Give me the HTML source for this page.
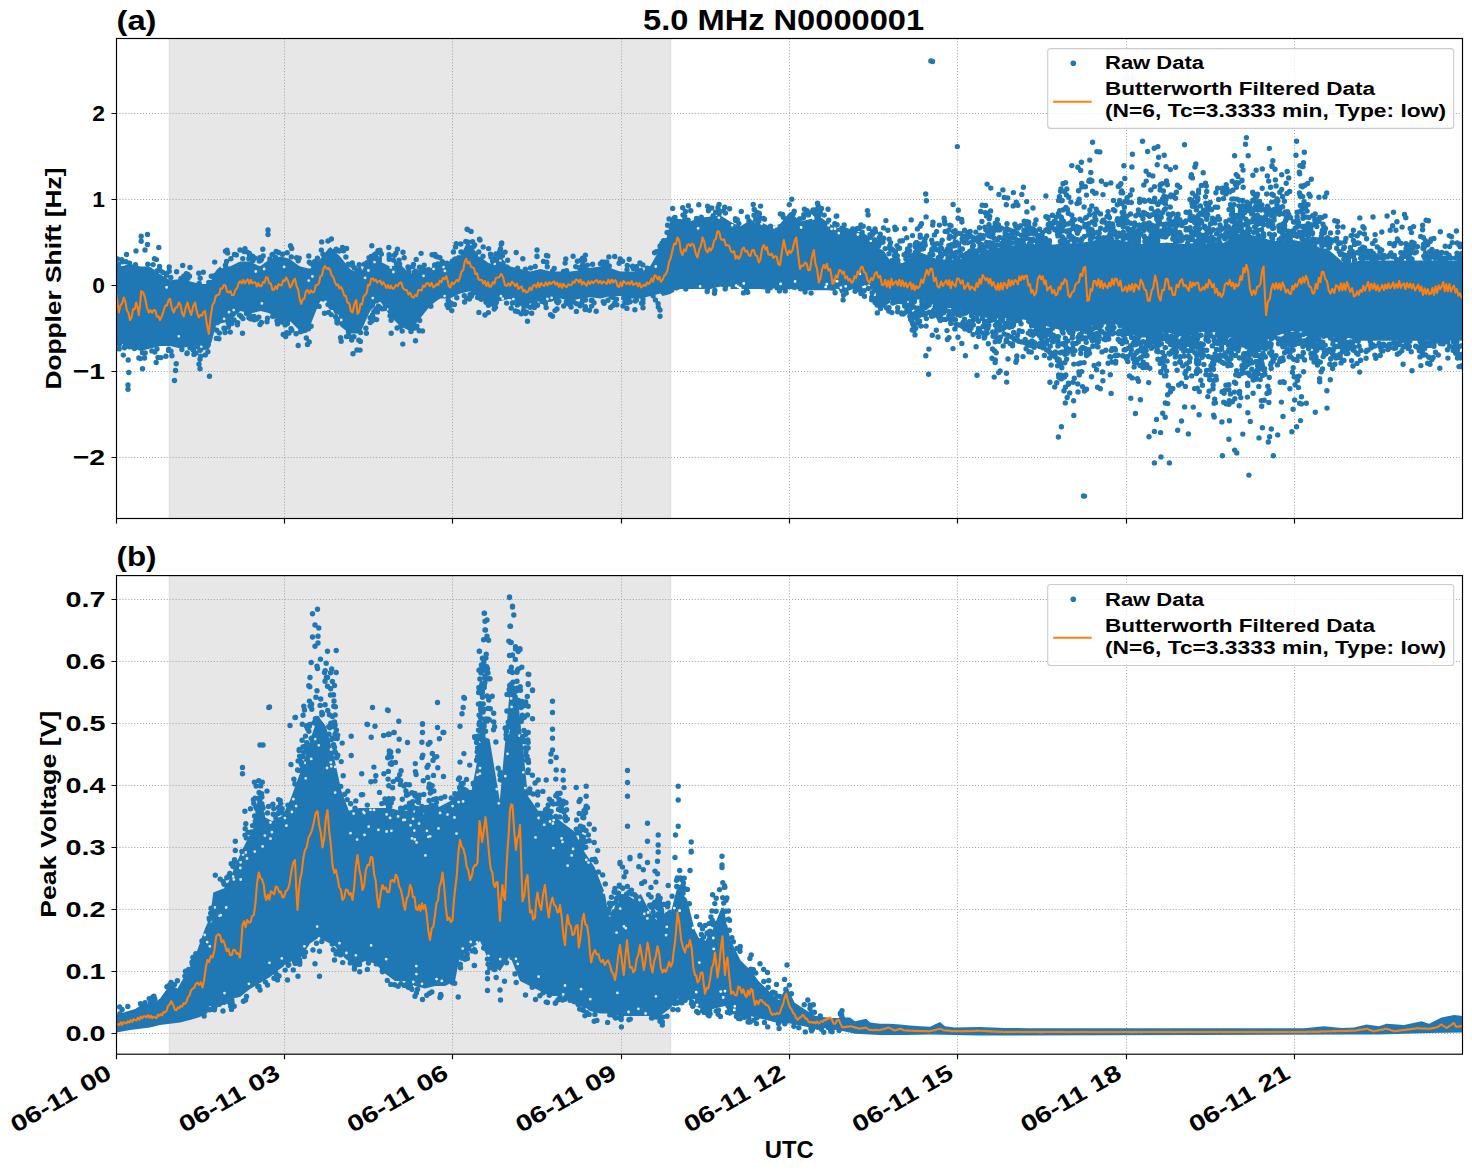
<!DOCTYPE html>
<html><head><meta charset="utf-8"><title>5.0 MHz N0000001</title>
<style>html,body{margin:0;padding:0;background:#fff;overflow:hidden}svg{display:block}</style></head>
<body><svg width="1472" height="1172" viewBox="0 0 1472 1172"><rect width="1472" height="1172" fill="#fff"/><defs><clipPath id="ca"><rect x="116.5" y="38.5" width="1346.0" height="480.0"/></clipPath><clipPath id="cb"><rect x="116.5" y="575.6" width="1346.0" height="478.6"/></clipPath></defs><rect x="169.2" y="38.5" width="501.5" height="480.0" fill="#e7e7e7" stroke="#dddddd" stroke-width="1"/><path d="M284.50 38.5V518.5M452.50 38.5V518.5M621.50 38.5V518.5M789.50 38.5V518.5M957.50 38.5V518.5M1126.50 38.5V518.5M1294.50 38.5V518.5M116.5 113.50H1462.5M116.5 199.50H1462.5M116.5 285.50H1462.5M116.5 371.50H1462.5M116.5 457.50H1462.5" stroke="#a8a8a8" stroke-width="1.0" stroke-dasharray="1.1 1.85" fill="none"/><g clip-path="url(#ca)"><polygon points="116.5,269.0 118.5,267.6 120.5,266.4 122.5,265.9 124.5,265.4 126.5,264.9 128.5,264.4 130.5,264.1 132.5,264.6 134.5,265.1 136.5,265.6 138.5,266.1 140.5,266.5 142.5,266.5 144.5,266.5 146.5,266.5 148.5,266.5 150.5,266.9 152.5,268.4 154.5,269.9 156.5,271.4 158.5,272.9 160.5,274.3 162.5,275.6 164.5,276.8 166.5,278.1 168.5,279.3 170.5,280.2 172.5,279.9 174.5,279.7 176.5,279.4 178.5,279.2 180.5,279.1 182.5,279.6 184.5,280.1 186.5,280.6 188.5,281.1 190.5,281.6 192.5,282.1 194.5,282.6 196.5,283.1 198.5,283.6 200.5,284.0 202.5,284.0 204.5,284.0 206.5,284.0 208.5,284.0 210.5,282.8 212.5,277.8 214.5,272.8 216.5,270.0 218.5,268.0 220.5,266.5 222.5,266.5 224.5,266.5 226.5,266.5 228.5,266.5 230.5,266.2 232.5,265.2 234.5,264.2 236.5,263.2 238.5,262.2 240.5,261.5 242.5,261.5 244.5,261.5 246.5,261.5 248.5,261.5 250.5,261.8 252.5,262.8 254.5,263.8 256.5,264.8 258.5,265.8 260.5,266.1 262.5,264.6 264.5,263.1 266.5,261.6 268.5,260.1 270.5,258.9 272.5,258.4 274.5,257.9 276.5,257.4 278.5,256.9 280.5,256.6 282.5,257.1 284.5,257.6 286.5,258.1 288.5,258.6 290.5,259.4 292.5,260.9 294.5,262.4 296.5,263.9 298.5,265.4 300.5,266.6 302.5,267.1 304.5,267.6 306.5,268.1 308.5,268.6 310.5,268.5 312.5,266.5 314.5,264.5 316.5,262.5 318.5,260.5 320.5,258.4 322.5,255.9 324.5,253.4 326.5,250.9 328.5,248.4 330.5,247.0 332.5,249.0 334.5,251.0 336.5,253.0 338.5,255.0 340.5,257.1 342.5,259.6 344.5,262.1 346.5,264.6 348.5,267.1 350.5,269.2 352.5,270.2 354.5,271.2 356.5,272.2 358.5,273.2 360.5,273.1 362.5,269.6 364.5,266.1 366.5,262.6 368.5,259.1 370.5,256.8 372.5,257.8 374.5,258.8 376.5,259.8 378.5,260.8 380.5,261.8 382.5,262.8 384.5,263.8 386.5,264.8 388.5,265.8 390.5,266.4 392.5,265.9 394.5,265.4 396.5,264.9 398.5,264.4 400.5,264.5 402.5,266.5 404.5,268.5 406.5,270.5 408.5,272.5 410.5,273.8 412.5,272.8 414.5,271.8 416.5,270.8 418.5,269.8 420.5,268.9 422.5,268.4 424.5,267.9 426.5,267.4 428.5,266.9 430.5,266.4 432.5,265.9 434.5,265.4 436.5,264.9 438.5,264.4 440.5,264.0 442.5,264.0 444.5,264.0 446.5,264.0 448.5,264.0 450.5,263.6 452.5,262.1 454.5,260.6 456.5,259.1 458.5,257.6 460.5,255.5 462.5,251.5 464.5,247.5 466.5,243.5 468.5,242.7 470.5,245.1 472.5,247.5 474.5,249.9 476.5,252.3 478.5,254.7 480.5,256.9 482.5,258.4 484.5,259.9 486.5,261.4 488.5,262.9 490.5,263.6 492.5,262.1 494.5,260.6 496.5,259.1 498.5,257.6 500.5,257.0 502.5,259.0 504.5,261.0 506.5,263.0 508.5,265.0 510.5,266.6 512.5,267.1 514.5,267.6 516.5,268.1 518.5,268.6 520.5,269.1 522.5,269.6 524.5,270.1 526.5,270.6 528.5,271.1 530.5,271.4 532.5,270.9 534.5,270.4 536.5,269.9 538.5,269.4 540.5,269.1 542.5,269.6 544.5,270.1 546.5,270.6 548.5,271.1 550.5,271.5 552.5,271.5 554.5,271.5 556.5,271.5 558.5,271.5 560.5,271.5 562.5,271.5 564.5,271.5 566.5,271.5 568.5,271.5 570.5,271.4 572.5,271.2 574.5,270.9 576.5,270.7 578.5,270.4 580.5,270.1 582.5,269.6 584.5,269.1 586.5,268.6 588.5,268.1 590.5,267.7 592.5,267.4 594.5,267.2 596.5,266.9 598.5,266.7 600.5,266.6 602.5,266.8 604.5,267.1 606.5,267.3 608.5,267.6 610.5,267.9 612.5,268.7 614.5,269.4 616.5,270.2 618.5,270.9 620.5,271.5 622.5,271.5 624.5,271.5 626.5,271.5 628.5,271.5 630.5,271.6 632.5,271.8 634.5,272.1 636.5,272.3 638.5,272.6 640.5,272.4 642.5,271.2 644.5,269.9 646.5,268.7 648.5,267.4 650.5,265.6 652.5,262.1 654.5,258.6 656.5,255.1 658.5,251.6 660.5,248.2 662.5,244.8 664.5,241.5 666.5,238.2 668.5,229.5 670.5,219.0 672.5,219.0 674.5,219.0 676.5,219.0 678.5,219.0 680.5,219.1 682.5,219.6 684.5,220.1 686.5,220.6 688.5,221.1 690.5,221.3 692.5,220.6 694.5,219.8 696.5,219.1 698.5,218.3 700.5,217.7 702.5,217.4 704.5,217.2 706.5,216.9 708.5,216.7 710.5,216.4 712.5,216.2 714.5,215.9 716.5,215.7 718.5,215.4 720.5,215.6 722.5,216.8 724.5,218.1 726.5,219.3 728.5,220.6 730.5,221.8 732.5,222.8 734.5,223.8 736.5,224.8 738.5,225.8 740.5,226.2 742.5,224.9 744.5,223.7 746.5,222.4 748.5,221.2 750.5,220.3 752.5,220.6 754.5,220.8 756.5,221.1 758.5,221.3 760.5,221.8 762.5,222.8 764.5,223.8 766.5,224.8 768.5,225.8 770.5,226.4 772.5,225.9 774.5,225.4 776.5,224.9 778.5,224.4 780.5,223.4 782.5,220.9 784.5,218.4 786.5,215.9 788.5,213.4 790.5,212.0 792.5,214.0 794.5,216.0 796.5,218.0 798.5,220.0 800.5,221.4 802.5,220.9 804.5,220.4 806.5,219.9 808.5,219.4 810.5,218.9 812.5,218.4 814.5,217.9 816.5,217.4 818.5,216.9 820.5,216.9 822.5,218.4 824.5,219.9 826.5,221.4 828.5,222.9 830.5,224.3 832.5,225.3 834.5,226.3 836.5,227.3 838.5,228.3 840.5,225.5 842.5,226.3 844.5,227.0 846.5,227.7 848.5,228.4 850.5,229.0 852.5,229.7 854.5,230.4 856.5,231.1 858.5,231.8 860.5,232.5 862.5,233.1 864.5,233.8 866.5,235.0 868.5,237.0 870.5,239.2 872.5,241.3 874.5,243.5 876.5,245.7 878.5,247.5 880.5,249.0 882.5,250.0 884.5,251.7 886.5,254.9 888.5,258.1 890.5,261.3 892.5,262.2 894.5,262.5 896.5,262.8 898.5,263.0 900.5,263.3 902.5,263.0 904.5,261.7 906.5,260.4 908.5,259.1 910.5,257.8 912.5,256.6 914.5,255.3 916.5,254.0 918.5,252.7 920.5,252.4 922.5,253.2 924.5,254.0 926.5,254.8 928.5,255.6 930.5,256.4 932.5,257.2 934.5,258.0 936.5,258.8 938.5,259.2 940.5,259.3 942.5,259.3 944.5,259.4 946.5,259.5 948.5,259.5 950.5,259.6 952.5,259.7 954.5,259.7 956.5,259.6 958.5,259.1 960.5,258.7 962.5,258.3 964.5,257.9 966.5,257.5 968.5,257.1 970.5,256.7 972.5,256.2 974.5,255.6 976.5,254.8 978.5,254.0 980.5,253.2 982.5,252.4 984.5,251.5 986.5,250.7 988.5,249.9 990.5,249.1 992.5,248.6 994.5,248.3 996.5,247.9 998.5,247.6 1000.5,247.3 1002.5,247.0 1004.5,246.7 1006.5,246.3 1008.5,246.0 1010.5,245.8 1012.5,245.5 1014.5,245.3 1016.5,245.0 1018.5,244.8 1020.5,244.6 1022.5,244.3 1024.5,244.1 1026.5,243.8 1028.5,243.9 1030.5,244.0 1032.5,244.2 1034.5,244.3 1036.5,244.5 1038.5,244.7 1040.5,244.8 1042.5,245.0 1044.5,245.1 1046.5,245.1 1048.5,244.9 1050.5,244.8 1052.5,244.6 1054.5,244.4 1056.5,244.3 1058.5,244.1 1060.5,244.0 1062.5,243.8 1064.5,243.7 1066.5,243.6 1068.5,243.5 1070.5,243.5 1072.5,243.4 1074.5,243.3 1076.5,243.2 1078.5,243.1 1080.5,243.1 1082.5,242.7 1084.5,242.3 1086.5,241.9 1088.5,241.5 1090.5,241.1 1092.5,240.7 1094.5,240.3 1096.5,239.9 1098.5,239.5 1100.5,239.5 1102.5,239.5 1104.5,239.5 1106.5,239.5 1108.5,239.5 1110.5,239.5 1112.5,239.5 1114.5,239.5 1116.5,239.5 1118.5,239.8 1120.5,240.3 1122.5,240.7 1124.5,241.2 1126.5,241.6 1128.5,242.1 1130.5,242.5 1132.5,243.0 1134.5,243.4 1136.5,243.9 1138.5,244.0 1140.5,244.0 1142.5,244.0 1144.5,244.0 1146.5,244.0 1148.5,244.0 1150.5,243.8 1152.5,243.7 1154.5,243.5 1156.5,243.3 1158.5,243.2 1160.5,243.0 1162.5,242.9 1164.5,242.7 1166.5,242.6 1168.5,242.8 1170.5,243.0 1172.5,243.1 1174.5,243.3 1176.5,243.4 1178.5,243.6 1180.5,243.8 1182.5,243.9 1184.5,244.0 1186.5,243.8 1188.5,243.6 1190.5,243.5 1192.5,243.3 1194.5,243.2 1196.5,243.0 1198.5,242.8 1200.5,242.7 1202.5,242.7 1204.5,243.0 1206.5,243.4 1208.5,243.7 1210.5,244.0 1212.5,244.3 1214.5,244.6 1216.5,245.0 1218.5,245.3 1220.5,244.9 1222.5,243.6 1224.5,242.3 1226.5,241.0 1228.5,239.7 1230.5,238.5 1232.5,237.2 1234.5,235.9 1236.5,234.6 1238.5,234.1 1240.5,234.2 1242.5,234.4 1244.5,234.6 1246.5,234.7 1248.5,234.9 1250.5,235.0 1252.5,235.2 1254.5,235.4 1256.5,235.8 1258.5,236.4 1260.5,237.1 1262.5,237.7 1264.5,238.3 1266.5,239.0 1268.5,239.6 1270.5,240.3 1272.5,240.9 1274.5,241.1 1276.5,240.9 1278.5,240.7 1280.5,240.6 1282.5,240.4 1284.5,240.3 1286.5,240.1 1288.5,239.9 1290.5,239.8 1292.5,239.9 1294.5,240.3 1296.5,240.6 1298.5,240.9 1300.5,241.2 1302.5,241.5 1304.5,241.9 1306.5,242.2 1308.5,242.5 1310.5,243.2 1312.5,244.2 1314.5,245.2 1316.5,246.1 1318.5,247.1 1320.5,247.9 1322.5,248.1 1324.5,248.4 1326.5,248.7 1328.5,249.9 1330.5,251.5 1332.5,253.1 1334.5,254.8 1336.5,256.5 1338.5,258.3 1340.5,260.1 1342.5,261.9 1344.5,263.8 1346.5,263.9 1348.5,263.4 1350.5,262.9 1352.5,262.4 1354.5,261.9 1356.5,261.4 1358.5,260.9 1360.5,260.5 1362.5,260.5 1364.5,260.5 1366.5,260.5 1368.5,260.5 1370.5,260.5 1372.5,260.5 1374.5,260.5 1376.5,260.5 1378.5,260.5 1380.5,260.5 1382.5,260.5 1384.5,260.5 1386.5,260.5 1388.5,260.5 1390.5,260.5 1392.5,260.5 1394.5,260.5 1396.5,260.5 1398.5,260.5 1400.5,260.5 1402.5,260.5 1404.5,260.5 1406.5,260.5 1408.5,260.5 1410.5,260.5 1412.5,260.5 1414.5,260.5 1416.5,260.5 1418.5,260.5 1420.5,260.5 1422.5,260.5 1424.5,260.5 1426.5,260.5 1428.5,260.5 1430.5,260.5 1432.5,260.5 1434.5,260.5 1436.5,260.5 1438.5,260.5 1440.5,260.5 1442.5,260.5 1444.5,260.5 1446.5,260.5 1448.5,260.5 1450.5,260.5 1452.5,260.5 1454.5,260.5 1456.5,260.5 1458.5,260.5 1460.5,260.5 1462.5,260.5 1462.5,340.8 1460.5,340.8 1458.5,340.8 1456.5,340.8 1454.5,340.8 1452.5,340.8 1450.5,340.8 1448.5,340.8 1446.5,340.8 1444.5,340.8 1442.5,340.8 1440.5,340.8 1438.5,340.8 1436.5,340.8 1434.5,340.8 1432.5,340.8 1430.5,340.8 1428.5,340.8 1426.5,340.8 1424.5,340.8 1422.5,340.8 1420.5,340.8 1418.5,340.8 1416.5,340.8 1414.5,340.8 1412.5,340.8 1410.5,340.8 1408.5,340.8 1406.5,340.8 1404.5,340.8 1402.5,340.8 1400.5,340.8 1398.5,340.8 1396.5,340.8 1394.5,340.8 1392.5,340.8 1390.5,340.8 1388.5,340.8 1386.5,340.8 1384.5,340.8 1382.5,340.8 1380.5,340.8 1378.5,340.8 1376.5,340.8 1374.5,340.8 1372.5,340.8 1370.5,340.8 1368.5,340.8 1366.5,340.8 1364.5,340.8 1362.5,340.8 1360.5,340.8 1358.5,340.4 1356.5,339.9 1354.5,339.4 1352.5,338.9 1350.5,338.4 1348.5,337.9 1346.5,337.4 1344.5,337.0 1342.5,337.1 1340.5,337.2 1338.5,337.2 1336.5,337.1 1334.5,337.0 1332.5,336.9 1330.5,336.8 1328.5,336.6 1326.5,336.1 1324.5,335.2 1322.5,334.3 1320.5,333.3 1318.5,332.9 1316.5,332.7 1314.5,332.4 1312.5,332.2 1310.5,332.0 1308.5,331.8 1306.5,331.7 1304.5,331.6 1302.5,331.5 1300.5,331.5 1298.5,331.4 1296.5,331.3 1294.5,331.2 1292.5,331.1 1290.5,331.3 1288.5,332.0 1286.5,332.6 1284.5,333.2 1282.5,333.9 1280.5,334.5 1278.5,335.2 1276.5,335.8 1274.5,336.4 1272.5,337.2 1270.5,338.3 1268.5,339.3 1266.5,340.4 1264.5,341.4 1262.5,342.4 1260.5,343.5 1258.5,344.5 1256.5,345.6 1254.5,345.8 1252.5,345.2 1250.5,344.6 1248.5,343.9 1246.5,343.3 1244.5,342.6 1242.5,342.0 1240.5,341.4 1238.5,340.7 1236.5,340.0 1234.5,339.1 1232.5,338.2 1230.5,337.3 1228.5,336.4 1226.5,335.6 1224.5,334.7 1222.5,333.8 1220.5,332.9 1218.5,332.5 1216.5,332.4 1214.5,332.3 1212.5,332.2 1210.5,332.2 1208.5,332.1 1206.5,332.0 1204.5,331.9 1202.5,331.8 1200.5,332.2 1198.5,332.8 1196.5,333.5 1194.5,334.1 1192.5,334.7 1190.5,335.4 1188.5,336.0 1186.5,336.7 1184.5,337.3 1182.5,337.1 1180.5,336.5 1178.5,335.9 1176.5,335.2 1174.5,334.6 1172.5,333.9 1170.5,333.3 1168.5,332.7 1166.5,332.0 1164.5,332.2 1162.5,332.9 1160.5,333.5 1158.5,334.1 1156.5,334.8 1154.5,335.4 1152.5,336.1 1150.5,336.7 1148.5,337.3 1146.5,337.5 1144.5,337.5 1142.5,337.5 1140.5,337.5 1138.5,337.5 1136.5,337.1 1134.5,335.8 1132.5,334.5 1130.5,333.2 1128.5,332.0 1126.5,330.7 1124.5,329.4 1122.5,328.1 1120.5,326.8 1118.5,325.5 1116.5,324.4 1114.5,324.4 1112.5,324.4 1110.5,324.4 1108.5,324.4 1106.5,324.4 1104.5,324.4 1102.5,324.4 1100.5,324.4 1098.5,324.5 1096.5,324.9 1094.5,325.3 1092.5,325.7 1090.5,326.1 1088.5,326.5 1086.5,326.9 1084.5,327.3 1082.5,327.7 1080.5,328.1 1078.5,328.4 1076.5,328.7 1074.5,329.0 1072.5,329.4 1070.5,329.7 1068.5,330.0 1066.5,330.3 1064.5,330.6 1062.5,330.7 1060.5,330.2 1058.5,329.6 1056.5,329.0 1054.5,328.5 1052.5,327.9 1050.5,327.4 1048.5,326.8 1046.5,326.2 1044.5,325.7 1042.5,325.0 1040.5,324.4 1038.5,323.7 1036.5,323.1 1034.5,322.5 1032.5,321.8 1030.5,321.2 1028.5,320.5 1026.5,320.0 1024.5,319.8 1022.5,319.6 1020.5,319.3 1018.5,319.1 1016.5,318.8 1014.5,318.6 1012.5,318.4 1010.5,318.1 1008.5,318.0 1006.5,318.1 1004.5,318.2 1002.5,318.2 1000.5,318.3 998.5,318.4 996.5,318.5 994.5,318.6 992.5,318.6 990.5,318.5 988.5,318.2 986.5,317.8 984.5,317.5 982.5,317.2 980.5,316.8 978.5,316.5 976.5,316.1 974.5,315.8 972.5,315.2 970.5,314.5 968.5,313.7 966.5,313.0 964.5,312.3 962.5,311.5 960.5,310.8 958.5,310.0 956.5,309.3 954.5,308.8 952.5,308.5 950.5,308.2 948.5,308.0 946.5,307.7 944.5,307.4 942.5,307.2 940.5,306.9 938.5,306.6 936.5,306.1 934.5,305.3 932.5,304.5 930.5,303.7 928.5,302.9 926.5,302.1 924.5,301.3 922.5,300.5 920.5,299.7 918.5,299.5 916.5,299.8 914.5,300.1 912.5,300.5 910.5,300.8 908.5,301.1 906.5,301.4 904.5,301.7 902.5,302.1 900.5,301.5 898.5,300.5 896.5,299.4 894.5,298.3 892.5,297.3 890.5,296.3 888.5,295.5 886.5,294.7 884.5,293.9 882.5,293.4 880.5,293.2 878.5,293.5 876.5,293.9 874.5,292.3 872.5,290.6 870.5,288.9 868.5,287.1 866.5,285.4 864.5,285.2 862.5,285.9 860.5,286.6 858.5,287.3 856.5,288.0 854.5,288.6 852.5,289.3 850.5,290.0 848.5,290.7 846.5,291.4 844.5,292.1 842.5,292.7 840.5,293.4 838.5,289.1 836.5,288.7 834.5,291.2 832.5,290.8 830.5,290.4 828.5,290.2 826.5,290.2 824.5,290.2 822.5,290.2 820.5,290.2 818.5,290.2 816.5,290.2 814.5,290.2 812.5,290.2 810.5,290.2 808.5,290.4 806.5,290.7 804.5,290.9 802.5,291.2 800.5,291.4 798.5,291.1 796.5,290.6 794.5,290.1 792.5,289.6 790.5,289.1 788.5,289.2 786.5,289.4 784.5,289.7 782.5,289.9 780.5,290.2 778.5,290.2 776.5,290.2 774.5,290.2 772.5,290.2 770.5,290.2 768.5,290.1 766.5,289.8 764.5,289.6 762.5,289.3 760.5,289.1 758.5,289.0 756.5,289.0 754.5,289.0 752.5,289.0 750.5,289.0 748.5,289.0 746.5,289.0 744.5,289.0 742.5,289.0 740.5,289.0 738.5,289.0 736.5,289.0 734.5,289.0 732.5,289.0 730.5,289.0 728.5,288.6 726.5,288.1 724.5,287.6 722.5,287.1 720.5,286.6 718.5,286.9 716.5,287.4 714.5,287.9 712.5,288.4 710.5,288.9 708.5,289.0 706.5,289.0 704.5,289.0 702.5,289.0 700.5,289.0 698.5,289.0 696.5,289.0 694.5,289.0 692.5,289.0 690.5,289.0 688.5,289.0 686.5,289.0 684.5,289.0 682.5,289.0 680.5,289.0 678.5,289.8 676.5,290.8 674.5,291.8 672.5,292.8 670.5,293.8 668.5,294.4 666.5,294.9 664.5,295.4 662.5,295.9 660.5,293.4 658.5,293.9 656.5,294.4 654.5,294.9 652.5,295.4 650.5,295.9 648.5,296.4 646.5,296.9 644.5,297.4 642.5,297.9 640.5,298.4 638.5,298.5 636.5,298.5 634.5,298.5 632.5,298.5 630.5,298.5 628.5,298.1 626.5,297.6 624.5,297.1 622.5,296.6 620.5,296.1 618.5,296.0 616.5,296.0 614.5,296.0 612.5,296.0 610.5,296.0 608.5,296.4 606.5,296.9 604.5,297.4 602.5,297.9 600.5,298.4 598.5,298.3 596.5,298.1 594.5,297.8 592.5,297.6 590.5,297.3 588.5,297.4 586.5,297.7 584.5,297.9 582.5,298.2 580.5,298.4 578.5,298.9 576.5,299.4 574.5,299.9 572.5,300.4 570.5,300.9 568.5,300.6 566.5,300.1 564.5,299.6 562.5,299.1 560.5,298.6 558.5,299.1 556.5,299.8 554.5,300.6 552.5,301.3 550.5,302.1 548.5,302.1 546.5,301.8 544.5,301.6 542.5,301.3 540.5,301.1 538.5,301.4 536.5,301.9 534.5,302.4 532.5,302.9 530.5,303.4 528.5,303.9 526.5,304.4 524.5,304.9 522.5,305.4 520.5,305.9 518.5,304.9 516.5,303.4 514.5,301.9 512.5,300.4 510.5,298.9 508.5,298.9 506.5,299.4 504.5,299.9 502.5,300.4 500.5,300.9 498.5,301.4 496.5,301.9 494.5,302.4 492.5,302.9 490.5,303.4 488.5,302.8 486.5,301.8 484.5,300.8 482.5,299.8 480.5,298.8 478.5,297.4 476.5,295.9 474.5,294.4 472.5,292.9 470.5,291.4 468.5,291.4 466.5,291.9 464.5,292.4 462.5,292.9 460.5,293.4 458.5,294.2 456.5,295.2 454.5,296.2 452.5,297.2 450.5,298.2 448.5,298.5 446.5,298.5 444.5,298.5 442.5,298.5 440.5,298.5 438.5,299.6 436.5,301.1 434.5,302.6 432.5,304.1 430.5,305.6 428.5,307.9 426.5,310.4 424.5,312.9 422.5,315.4 420.5,317.9 418.5,320.4 416.5,322.9 414.5,325.4 412.5,327.9 410.5,330.4 408.5,330.2 406.5,329.2 404.5,328.2 402.5,327.2 400.5,326.2 398.5,324.5 396.5,322.5 394.5,320.5 392.5,318.5 390.5,316.5 388.5,313.8 386.5,310.8 384.5,307.8 382.5,304.8 380.5,301.8 378.5,302.5 376.5,304.5 374.5,306.5 372.5,308.5 370.5,310.5 368.5,314.4 366.5,318.9 364.5,323.4 362.5,327.9 360.5,332.4 358.5,333.5 356.5,333.5 354.5,333.5 352.5,333.5 350.5,333.5 348.5,332.4 346.5,330.9 344.5,329.4 342.5,327.9 340.5,326.4 338.5,322.6 336.5,318.1 334.5,313.6 332.5,309.1 330.5,304.6 328.5,303.1 326.5,302.6 324.5,302.1 322.5,301.6 320.5,301.1 318.5,304.8 316.5,309.8 314.5,314.8 312.5,319.8 310.5,324.8 308.5,326.8 306.5,327.8 304.5,328.8 302.5,329.8 300.5,330.8 298.5,329.5 296.5,327.5 294.5,325.5 292.5,323.5 290.5,321.5 288.5,321.0 286.5,321.0 284.5,321.0 282.5,321.0 280.5,321.0 278.5,319.9 276.5,318.4 274.5,316.9 272.5,315.4 270.5,313.9 268.5,313.1 266.5,312.6 264.5,312.1 262.5,311.6 260.5,311.1 258.5,311.4 256.5,311.9 254.5,312.4 252.5,312.9 250.5,313.4 248.5,313.1 246.5,312.6 244.5,312.1 242.5,311.6 240.5,311.1 238.5,312.5 236.5,314.5 234.5,316.5 232.5,318.5 230.5,320.5 228.5,321.4 226.5,321.9 224.5,322.4 222.5,322.9 220.5,323.4 218.5,325.0 216.5,327.0 214.5,330.5 212.5,338.5 210.5,346.5 208.5,348.9 206.5,349.4 204.5,349.9 202.5,350.4 200.5,350.9 198.5,350.2 196.5,349.2 194.5,348.2 192.5,347.2 190.5,346.2 188.5,346.4 186.5,346.9 184.5,347.4 182.5,347.9 180.5,348.4 178.5,348.1 176.5,347.6 174.5,347.1 172.5,346.6 170.5,346.1 168.5,346.0 166.5,346.0 164.5,346.0 162.5,346.0 160.5,346.0 158.5,346.4 156.5,346.9 154.5,347.4 152.5,347.9 150.5,348.4 148.5,348.9 146.5,349.4 144.5,349.9 142.5,350.4 140.5,350.9 138.5,350.2 136.5,349.2 134.5,348.2 132.5,347.2 130.5,346.2 128.5,345.6 126.5,345.1 124.5,344.6 122.5,344.1 120.5,343.6 118.5,343.5 116.5,343.5" fill="#1f77b4"/><path d="M178.8 336.3h0M201.2 346.9h0M212.2 343.8h0M217.0 326.7h0M222.1 266.9h0M224.1 318.8h0M229.0 312.2h0M233.7 310.1h0M255.8 271.5h0M261.9 303.4h0M264.1 269.0h0M284.1 266.9h0M308.7 280.6h0M312.4 276.4h0M325.5 302.0h0M337.6 315.9h0M341.2 320.0h0M365.1 277.9h0M368.4 270.5h0M372.8 298.1h0M374.5 262.1h0M376.4 304.8h0M387.2 309.3h0M390.8 267.4h0M393.4 272.0h0M423.5 275.8h0M430.9 266.6h0M433.6 268.9h0M443.5 267.0h0M444.9 270.9h0M444.6 296.1h0M479.3 255.4h0M494.7 263.8h0M500.4 260.4h0M500.9 296.2h0M502.7 298.7h0M506.9 263.2h0M513.4 299.2h0M547.4 299.0h0M551.6 297.8h0M655.8 266.5h0" fill="none" stroke="#e7e7e7" stroke-width="2.8" stroke-linecap="round"/><path d="M166.6 287.3h0M675.4 291.7h0M698.1 228.3h0M700.1 286.4h0M718.9 217.6h0M729.3 287.9h0M732.2 225.3h0M736.2 285.6h0M738.2 286.9h0M740.3 288.5h0M743.8 283.5h0M755.0 221.1h0M761.6 223.6h0M774.1 227.3h0M773.7 290.0h0M776.4 226.2h0M780.6 283.9h0M795.1 281.5h0M797.0 290.6h0M801.1 227.5h0M813.2 218.4h0M825.7 286.9h0M826.8 284.2h0M828.7 225.4h0M831.6 228.8h0M835.0 228.7h0M834.8 280.5h0M837.2 281.3h0M838.8 233.2h0M840.9 287.6h0M845.7 286.3h0M857.9 234.5h0M859.9 273.8h0M868.8 285.8h0M870.8 240.8h0" fill="none" stroke="#ffffff" stroke-width="2.8" stroke-linecap="round"/><path d="M141.2 236.2h0M141.2 241.2h0M147.5 234.5h0M147.5 244.5h0M145.0 250.0h0M158.8 247.5h0M154.5 258.8h0M128.0 385.0h0M128.0 389.2h0M128.8 372.5h0M128.2 360.0h0M142.5 368.8h0M156.2 362.5h0M174.5 380.5h0M175.5 370.5h0M176.2 363.8h0M190.0 267.5h0M209.5 376.2h0M200.0 368.8h0M225.5 251.2h0M240.0 250.0h0M268.0 230.0h0M268.0 234.5h0M225.0 332.5h0M242.5 333.2h0M260.0 324.5h0M283.2 334.5h0M298.2 345.5h0M307.5 344.5h0M341.2 341.2h0M353.0 353.8h0M357.0 350.0h0M388.8 247.5h0M397.5 249.2h0M456.2 243.8h0M467.5 229.5h0M448.2 307.5h0M415.5 340.8h0M391.2 333.2h0M501.2 244.2h0M516.2 252.5h0M537.0 250.0h0M537.0 256.2h0M527.5 321.2h0M521.2 313.8h0M552.5 316.2h0M596.2 311.2h0M660.0 316.2h0M660.0 310.0h0M629.2 259.2h0M714.5 293.2h0M817.5 203.2h0M828.0 209.2h0M813.0 210.0h0M836.2 216.2h0M754.2 209.5h0M690.8 210.8h0M718.0 207.5h0M957.3 146.6h0M1084.5 496.1h0M1058.4 437.0h0M1073.8 415.5h0M928.6 374.2h0M1006.7 382.1h0M994.2 377.1h0M977.0 375.3h0M1154.4 462.9h0M1169.4 462.9h0M1222.4 455.8h0M1236.8 452.9h0M1248.9 475.1h0M1273.3 455.8h0M1296.6 426.7h0M1327.0 408.1h0M1259.0 437.9h0M1269.7 436.8h0M1188.4 433.9h0M1149.0 436.8h0M1154.4 431.4h0M1135.4 413.5h0M1396.9 221.8h0M1430.2 241.5h0M1246.4 137.6h0M1296.6 141.2h0M1269.4 148.4h0M1142.5 141.2h0M1157.9 146.6h0M1184.5 144.8h0M930.9 60.9h0M932.5 61.5h0M1083.5 496.0h0M117.5 259.0h0M116.7 267.4h0M118.6 267.3h0M118.6 264.3h0M119.1 348.9h0M119.3 344.7h0M121.8 259.6h0M122.6 261.7h0M123.3 355.1h0M124.4 347.7h0M126.5 254.5h0M126.0 261.7h0M125.0 346.2h0M129.6 263.2h0M129.4 345.9h0M129.2 346.7h0M132.3 346.8h0M131.5 346.6h0M134.5 348.6h0M136.0 250.9h0M135.5 264.6h0M138.9 357.9h0M140.2 358.6h0M142.5 352.7h0M144.5 358.0h0M145.2 352.9h0M147.8 264.3h0M151.9 350.9h0M153.1 264.6h0M156.4 259.6h0M154.8 352.0h0M157.0 271.0h0M158.0 357.4h0M157.0 349.0h0M159.6 266.5h0M159.8 270.2h0M160.9 357.6h0M162.7 272.3h0M166.2 273.7h0M166.4 275.2h0M165.9 356.2h0M166.5 275.3h0M169.2 267.0h0M169.2 271.3h0M168.6 350.4h0M168.7 349.3h0M170.8 277.5h0M171.9 355.7h0M171.0 351.2h0M176.6 271.7h0M181.0 278.5h0M181.9 349.6h0M184.0 276.0h0M182.7 265.4h0M186.3 273.8h0M185.6 278.8h0M185.8 278.8h0M188.0 278.2h0M187.9 274.4h0M187.2 353.0h0M186.9 353.6h0M189.5 276.3h0M190.0 347.8h0M194.0 354.4h0M193.3 350.1h0M192.7 348.3h0M193.4 350.3h0M192.9 347.9h0M196.0 353.0h0M199.2 283.4h0M198.8 273.3h0M200.2 278.2h0M200.0 359.3h0M200.2 350.3h0M199.0 364.2h0M200.7 356.2h0M203.3 272.3h0M205.3 354.9h0M207.9 351.8h0M208.8 282.5h0M211.3 276.2h0M211.9 282.5h0M213.5 275.9h0M214.7 262.1h0M216.4 338.4h0M216.7 330.2h0M218.9 338.7h0M219.3 333.0h0M224.0 328.3h0M225.4 265.3h0M225.6 265.6h0M224.6 329.1h0M227.6 253.0h0M227.0 250.3h0M226.6 261.4h0M228.3 322.7h0M228.4 327.1h0M230.3 332.1h0M230.0 322.2h0M230.9 258.7h0M231.8 323.6h0M234.5 254.4h0M234.0 320.0h0M236.3 254.9h0M237.4 324.8h0M237.7 322.8h0M239.5 315.1h0M241.1 316.4h0M244.1 251.5h0M242.8 258.6h0M242.9 318.6h0M245.0 248.8h0M246.5 313.4h0M247.4 252.1h0M247.8 313.3h0M247.9 313.6h0M249.6 255.6h0M248.9 258.7h0M249.4 253.5h0M249.2 314.4h0M248.9 317.8h0M250.8 257.2h0M250.7 318.9h0M252.6 256.1h0M252.6 260.2h0M253.6 257.4h0M253.0 260.4h0M253.9 316.4h0M254.2 319.8h0M254.6 257.9h0M256.6 319.1h0M259.3 261.0h0M259.8 257.7h0M258.8 317.2h0M260.6 259.5h0M261.5 259.3h0M260.5 260.6h0M261.4 322.5h0M262.8 249.2h0M263.2 256.0h0M267.0 321.7h0M267.5 318.1h0M269.9 259.0h0M272.1 254.6h0M272.5 254.4h0M272.7 316.2h0M274.0 316.1h0M275.5 257.4h0M276.1 251.5h0M277.6 323.9h0M277.0 320.8h0M278.6 252.5h0M281.8 322.0h0M282.6 254.3h0M285.7 336.5h0M285.2 324.9h0M287.2 252.7h0M286.7 332.6h0M287.4 323.4h0M287.3 321.2h0M290.5 245.8h0M289.0 333.0h0M291.3 256.9h0M291.7 248.4h0M291.0 328.6h0M291.8 330.3h0M296.1 333.8h0M296.6 257.7h0M298.2 260.8h0M299.2 258.1h0M300.4 331.7h0M303.1 330.8h0M306.3 338.0h0M305.2 330.3h0M309.3 262.3h0M308.8 256.0h0M308.5 328.8h0M309.2 342.0h0M310.7 263.4h0M311.1 326.3h0M313.4 265.6h0M316.1 264.3h0M314.6 261.8h0M316.4 262.6h0M314.7 263.7h0M317.4 258.1h0M319.1 306.4h0M321.3 250.1h0M321.7 241.9h0M323.0 254.3h0M324.5 313.2h0M328.0 241.0h0M328.0 304.6h0M328.7 312.4h0M331.4 239.0h0M330.8 306.4h0M331.2 314.6h0M331.7 307.4h0M336.2 249.3h0M335.6 250.4h0M335.7 317.0h0M337.6 322.4h0M337.0 322.4h0M337.0 320.4h0M337.5 323.0h0M340.4 250.6h0M339.2 251.0h0M342.5 247.5h0M340.6 337.7h0M343.6 250.7h0M345.9 257.0h0M348.2 264.1h0M346.6 248.4h0M348.5 332.0h0M346.5 336.6h0M349.5 264.6h0M349.2 336.3h0M352.5 265.5h0M352.3 262.9h0M351.7 340.0h0M354.3 267.8h0M353.9 336.8h0M356.9 271.4h0M359.1 269.5h0M359.2 264.7h0M360.4 341.4h0M360.0 350.1h0M358.8 340.3h0M362.1 272.8h0M360.6 332.6h0M364.3 264.2h0M366.4 333.3h0M365.9 328.2h0M367.0 262.6h0M369.0 257.7h0M370.2 322.6h0M370.2 317.7h0M371.2 256.4h0M371.8 245.8h0M372.0 321.1h0M372.5 315.0h0M373.0 317.3h0M373.9 311.7h0M375.5 254.0h0M375.6 258.1h0M375.7 254.5h0M374.6 254.6h0M375.6 257.9h0M375.9 308.6h0M378.0 250.8h0M377.6 258.8h0M378.4 306.3h0M376.6 319.6h0M377.4 311.9h0M379.9 250.3h0M379.4 258.6h0M379.3 260.5h0M380.4 252.8h0M380.2 307.7h0M381.4 254.1h0M382.0 308.7h0M384.5 308.5h0M389.2 259.3h0M389.2 256.6h0M389.1 254.6h0M390.1 315.8h0M391.1 320.2h0M394.4 255.3h0M393.4 260.1h0M395.9 253.2h0M398.5 264.1h0M396.5 263.8h0M397.1 328.0h0M399.0 260.1h0M399.7 264.1h0M400.6 326.6h0M402.2 331.1h0M403.0 252.3h0M404.2 257.7h0M402.8 344.1h0M408.0 266.9h0M408.8 271.9h0M408.8 269.1h0M411.0 331.5h0M413.5 264.4h0M414.5 271.9h0M412.8 266.4h0M416.2 259.4h0M415.4 271.2h0M414.6 328.1h0M416.2 326.8h0M416.9 326.1h0M419.5 267.2h0M419.2 330.8h0M419.7 320.5h0M421.1 253.4h0M422.5 330.9h0M423.1 267.3h0M424.2 265.1h0M432.1 254.7h0M430.9 306.2h0M435.0 254.5h0M434.6 264.9h0M435.7 256.3h0M437.5 256.9h0M437.7 263.9h0M439.9 257.6h0M441.5 263.8h0M442.3 261.8h0M446.8 263.3h0M448.2 300.1h0M446.9 304.7h0M449.8 305.5h0M450.2 304.5h0M450.1 303.9h0M452.3 261.2h0M452.0 262.2h0M451.1 303.2h0M451.8 310.6h0M454.1 260.1h0M453.4 251.9h0M454.4 304.4h0M455.6 246.9h0M455.3 259.0h0M456.8 297.7h0M458.7 257.6h0M461.0 252.0h0M460.8 244.0h0M461.7 252.1h0M464.3 295.7h0M465.8 241.5h0M464.6 302.0h0M468.4 242.1h0M467.1 229.3h0M466.7 298.4h0M470.0 294.6h0M469.4 299.1h0M471.1 231.4h0M471.3 296.2h0M472.6 241.7h0M473.6 246.6h0M473.2 293.2h0M474.7 244.9h0M477.6 297.6h0M480.0 240.1h0M479.5 239.3h0M478.8 251.9h0M478.9 312.4h0M481.2 299.3h0M483.0 256.3h0M483.2 246.9h0M486.0 302.3h0M485.0 315.0h0M488.4 312.6h0M488.4 305.3h0M488.6 248.6h0M490.5 254.3h0M491.0 256.9h0M491.7 303.7h0M492.6 260.9h0M494.2 309.1h0M496.5 255.1h0M495.9 253.9h0M495.3 259.0h0M495.3 258.5h0M496.3 302.6h0M495.5 307.3h0M494.6 306.9h0M500.5 248.9h0M499.8 251.1h0M501.7 243.0h0M502.4 255.7h0M501.6 254.8h0M500.6 257.0h0M505.1 252.1h0M507.7 260.2h0M506.6 303.1h0M512.4 303.0h0M511.2 308.1h0M515.4 311.0h0M517.6 268.1h0M517.6 311.6h0M517.3 304.9h0M522.8 258.7h0M523.5 310.5h0M523.9 305.9h0M525.4 269.2h0M525.6 313.5h0M524.7 306.0h0M526.7 312.2h0M526.8 305.7h0M530.2 307.3h0M530.6 267.9h0M531.7 313.2h0M533.7 304.8h0M534.1 307.0h0M534.4 307.5h0M535.2 266.5h0M536.3 304.5h0M537.0 256.5h0M537.5 305.2h0M541.9 301.4h0M543.5 261.4h0M546.5 255.5h0M546.2 307.6h0M545.4 303.5h0M547.8 255.9h0M546.8 262.3h0M547.3 266.7h0M550.5 314.7h0M554.2 268.5h0M552.5 271.2h0M555.0 310.6h0M557.8 302.8h0M556.7 301.6h0M557.0 309.0h0M558.9 301.2h0M563.5 271.4h0M563.7 306.0h0M565.1 263.1h0M565.8 258.9h0M566.3 301.8h0M566.6 270.7h0M566.9 303.3h0M569.0 302.4h0M569.9 304.7h0M571.1 307.1h0M573.1 256.2h0M573.5 302.0h0M575.7 266.6h0M576.4 311.4h0M577.4 261.3h0M576.6 303.7h0M579.3 267.8h0M580.1 305.7h0M581.2 260.0h0M580.6 270.0h0M581.0 267.6h0M581.8 302.6h0M582.6 258.2h0M582.9 266.6h0M582.6 264.7h0M582.7 299.8h0M583.1 300.6h0M585.3 268.7h0M585.4 255.1h0M584.6 260.0h0M585.1 309.5h0M585.5 299.9h0M585.3 306.8h0M584.6 298.0h0M587.4 265.1h0M589.4 310.3h0M592.1 300.4h0M591.7 306.1h0M591.4 300.4h0M592.6 264.3h0M594.0 302.8h0M600.4 263.8h0M602.2 262.0h0M603.7 266.3h0M603.2 301.6h0M604.1 303.3h0M605.1 262.3h0M604.6 266.8h0M606.8 262.1h0M608.0 300.3h0M608.9 256.9h0M609.3 266.0h0M611.2 296.4h0M610.7 307.5h0M612.8 305.6h0M613.1 297.4h0M614.7 256.5h0M614.8 302.8h0M616.5 299.3h0M616.8 304.7h0M620.2 259.0h0M619.1 263.3h0M622.6 261.2h0M623.0 306.0h0M623.7 298.1h0M625.2 297.2h0M625.0 302.4h0M625.5 297.4h0M627.3 265.5h0M627.0 269.6h0M627.5 302.7h0M626.9 308.4h0M628.4 299.5h0M630.1 301.7h0M632.3 266.6h0M633.6 268.9h0M632.7 266.3h0M636.4 299.9h0M635.4 301.0h0M634.9 309.7h0M637.3 270.8h0M636.6 266.6h0M639.9 263.0h0M640.8 270.4h0M641.6 303.2h0M642.9 264.9h0M643.0 299.3h0M642.9 302.8h0M643.0 307.7h0M647.4 268.2h0M653.1 295.8h0M654.6 252.7h0M656.4 251.8h0M655.4 299.9h0M658.3 307.1h0M658.1 303.6h0M659.9 250.5h0M660.3 247.9h0M660.1 246.0h0M662.0 243.2h0M663.6 240.7h0M665.7 240.7h0M667.1 232.5h0M667.6 225.3h0M669.1 218.9h0M672.7 208.4h0M674.3 217.7h0M675.0 217.5h0M683.0 215.0h0M682.7 207.8h0M685.5 211.4h0M684.7 219.6h0M684.7 216.4h0M685.8 289.1h0M688.2 220.2h0M688.4 205.8h0M696.5 218.5h0M698.8 204.7h0M701.3 217.3h0M707.6 206.2h0M708.4 210.7h0M707.2 291.5h0M707.4 289.4h0M711.7 208.0h0M713.1 215.8h0M715.6 212.1h0M714.8 290.4h0M719.1 213.8h0M719.1 204.4h0M719.6 211.2h0M723.7 210.9h0M724.7 207.2h0M725.4 213.1h0M725.2 288.9h0M729.6 208.7h0M735.4 218.6h0M735.7 220.6h0M737.3 219.6h0M738.8 223.5h0M741.3 211.4h0M743.5 292.9h0M747.5 216.9h0M746.5 290.5h0M747.7 292.2h0M749.0 220.9h0M753.2 204.5h0M754.0 215.3h0M755.7 219.7h0M757.1 212.4h0M757.4 219.9h0M759.4 213.5h0M759.2 216.8h0M758.7 220.8h0M760.6 206.1h0M763.6 218.4h0M764.5 219.3h0M767.8 290.9h0M770.5 226.1h0M780.4 214.0h0M779.4 290.9h0M782.6 214.4h0M783.3 217.2h0M785.2 290.9h0M789.3 204.6h0M791.8 199.3h0M794.2 211.2h0M793.2 213.8h0M799.6 218.9h0M800.2 219.0h0M804.4 209.3h0M803.8 214.8h0M803.4 217.8h0M805.1 292.0h0M807.1 210.7h0M808.4 214.9h0M812.3 212.0h0M811.1 293.1h0M813.3 212.0h0M815.2 213.9h0M816.0 209.6h0M818.1 216.1h0M818.2 205.9h0M816.9 216.6h0M818.6 208.3h0M818.9 215.4h0M820.2 211.8h0M821.5 208.4h0M824.2 215.1h0M828.7 220.3h0M834.8 223.7h0M835.1 292.7h0M837.1 224.7h0M836.7 216.0h0M844.2 225.0h0M843.1 299.9h0M843.5 295.1h0M846.3 293.1h0M852.8 229.0h0M855.6 229.5h0M855.1 291.2h0M855.8 289.0h0M856.5 290.0h0M856.9 228.6h0M858.4 289.1h0M859.1 228.2h0M859.1 289.2h0M859.9 288.3h0M862.2 232.3h0M860.9 293.5h0M860.9 225.0h0M863.2 226.2h0M864.1 290.7h0M864.5 296.2h0M868.3 288.5h0M867.4 210.6h0M868.1 214.9h0M870.4 235.8h0M870.0 234.7h0M868.9 228.4h0M872.4 234.4h0M870.6 237.1h0M870.7 237.2h0M872.2 292.8h0M871.8 297.1h0M871.6 299.7h0M874.2 232.3h0M872.7 231.6h0M875.4 231.1h0M874.9 241.6h0M875.0 239.9h0M874.6 240.0h0M875.4 231.8h0M875.1 302.4h0M875.9 298.5h0M875.0 228.9h0M877.8 244.9h0M877.1 305.1h0M878.3 294.6h0M877.3 312.9h0M880.2 241.1h0M878.6 245.8h0M880.2 234.1h0M879.4 237.4h0M879.1 299.3h0M879.8 302.5h0M879.9 293.6h0M878.9 305.3h0M880.5 308.5h0M880.5 243.1h0M880.8 301.1h0M881.4 296.7h0M881.0 307.1h0M883.0 242.0h0M883.6 238.3h0M882.8 295.2h0M884.1 295.6h0M883.6 304.8h0M882.9 294.5h0M883.5 227.9h0M885.2 248.6h0M884.9 299.8h0M886.4 299.9h0M885.6 301.2h0M886.1 302.2h0M885.9 220.6h0M886.6 300.9h0M887.9 295.8h0M887.7 301.0h0M887.9 230.2h0M886.7 307.9h0M890.2 248.7h0M889.0 253.7h0M890.0 297.3h0M889.0 307.7h0M889.8 245.6h0M889.1 239.2h0M888.8 311.0h0M891.8 260.7h0M892.4 298.3h0M891.6 248.9h0M890.6 242.6h0M891.9 312.6h0M894.3 255.6h0M894.2 260.0h0M892.8 303.0h0M893.3 250.3h0M895.6 261.6h0M895.5 262.0h0M895.4 251.2h0M895.4 253.3h0M896.5 301.7h0M894.9 298.7h0M895.8 302.0h0M896.3 229.1h0M894.8 227.1h0M895.2 229.5h0M897.9 260.5h0M897.7 260.1h0M897.3 255.8h0M897.8 262.6h0M896.6 300.5h0M897.7 307.7h0M897.0 245.6h0M898.5 247.8h0M897.7 311.7h0M900.0 301.6h0M900.0 241.0h0M899.5 248.2h0M901.5 313.0h0M902.0 313.9h0M904.1 254.7h0M903.2 314.1h0M904.3 313.2h0M903.4 302.3h0M902.5 240.7h0M905.9 258.9h0M904.7 306.0h0M904.7 303.0h0M904.7 228.8h0M907.5 248.9h0M907.0 256.5h0M906.5 253.0h0M906.9 310.4h0M907.7 311.4h0M906.8 237.7h0M909.6 250.7h0M909.5 255.2h0M910.0 245.5h0M909.6 250.4h0M909.7 305.8h0M908.6 305.5h0M910.2 313.3h0M909.6 311.6h0M909.9 316.3h0M910.3 315.9h0M910.9 256.6h0M911.1 302.7h0M911.7 307.4h0M912.3 301.9h0M912.5 235.6h0M911.2 219.9h0M912.2 330.0h0M910.6 319.3h0M912.0 321.5h0M913.7 255.0h0M913.4 306.6h0M914.4 301.6h0M914.4 300.6h0M913.8 325.8h0M912.9 316.0h0M912.9 323.6h0M913.0 324.5h0M914.2 330.6h0M914.0 324.0h0M912.5 323.2h0M913.7 325.8h0M914.2 317.0h0M916.5 242.5h0M915.5 252.1h0M915.4 246.9h0M915.4 243.6h0M915.2 313.4h0M915.7 328.2h0M915.0 334.9h0M917.6 252.9h0M918.3 249.1h0M918.0 253.0h0M918.4 243.6h0M918.4 308.5h0M916.8 309.0h0M917.2 308.3h0M916.9 314.5h0M918.3 310.0h0M917.4 228.9h0M917.7 323.1h0M917.1 318.7h0M920.2 237.2h0M918.8 248.9h0M919.6 246.7h0M920.5 311.5h0M918.5 312.6h0M920.2 236.2h0M920.2 235.1h0M920.1 226.3h0M919.2 315.4h0M919.6 321.2h0M920.6 249.3h0M921.8 301.2h0M922.1 305.9h0M922.0 304.6h0M921.2 311.9h0M921.4 308.9h0M921.5 223.8h0M921.0 326.1h0M923.5 248.5h0M924.5 241.3h0M923.2 243.3h0M923.4 248.8h0M923.9 314.8h0M922.9 314.3h0M923.5 312.8h0M925.2 238.8h0M925.2 245.3h0M924.8 242.6h0M926.3 313.5h0M926.5 303.5h0M925.5 307.6h0M926.4 200.7h0M925.7 194.0h0M926.1 216.9h0M926.4 318.6h0M925.8 355.7h0M926.1 326.1h0M926.8 304.8h0M926.9 306.2h0M927.2 303.7h0M927.3 304.3h0M926.7 236.0h0M930.0 254.2h0M929.3 312.3h0M929.4 303.6h0M929.8 312.4h0M929.1 305.0h0M928.9 349.1h0M932.3 250.4h0M931.8 249.5h0M932.2 249.7h0M931.6 253.0h0M931.4 252.4h0M932.4 314.1h0M931.6 316.2h0M931.7 240.1h0M932.3 335.2h0M932.6 248.6h0M932.8 254.7h0M932.5 243.2h0M934.3 245.4h0M933.4 314.4h0M933.7 310.3h0M932.8 315.9h0M933.0 222.3h0M932.7 225.1h0M934.4 234.9h0M935.1 307.0h0M935.3 314.3h0M936.3 330.2h0M938.3 257.6h0M936.9 249.7h0M937.1 243.8h0M937.9 316.1h0M936.8 309.1h0M936.6 231.6h0M938.0 337.0h0M938.6 257.4h0M940.2 256.6h0M940.2 258.4h0M939.3 308.6h0M939.0 317.4h0M939.6 309.8h0M939.4 318.8h0M939.2 308.5h0M938.7 308.3h0M940.2 320.6h0M938.7 311.6h0M939.8 316.5h0M939.4 225.1h0M941.2 256.3h0M941.4 254.5h0M940.9 243.4h0M940.6 253.4h0M941.2 256.6h0M940.6 248.2h0M941.4 256.2h0M941.5 248.4h0M942.2 312.7h0M940.9 314.6h0M942.2 240.1h0M943.8 308.8h0M943.7 319.4h0M943.2 308.9h0M943.5 312.8h0M944.1 218.3h0M945.4 251.7h0M945.7 253.8h0M945.6 252.4h0M945.5 319.4h0M945.0 308.8h0M944.8 223.7h0M944.7 221.5h0M945.2 231.4h0M948.1 252.0h0M947.3 250.2h0M948.1 257.6h0M947.3 249.2h0M948.0 259.2h0M948.4 311.2h0M946.7 231.5h0M947.0 330.6h0M947.4 339.5h0M950.2 257.7h0M949.3 258.5h0M948.8 245.7h0M950.4 250.6h0M948.8 315.8h0M950.1 319.3h0M949.8 236.0h0M948.7 230.2h0M949.2 238.2h0M949.9 225.2h0M949.0 337.6h0M951.0 256.2h0M951.3 245.1h0M951.9 253.0h0M952.4 246.1h0M951.6 244.6h0M951.7 314.4h0M952.3 317.4h0M951.0 315.0h0M950.8 320.1h0M950.8 323.4h0M952.1 319.9h0M951.9 315.1h0M951.0 226.1h0M950.9 225.8h0M952.6 255.7h0M953.4 319.2h0M953.5 310.1h0M953.1 204.5h0M954.1 237.1h0M953.6 231.4h0M953.0 348.6h0M954.8 245.8h0M956.3 252.2h0M955.5 253.4h0M955.7 258.2h0M955.4 319.6h0M955.4 309.9h0M956.1 312.3h0M955.7 312.3h0M956.1 324.3h0M956.4 242.8h0M956.0 234.2h0M955.7 233.8h0M955.2 241.9h0M955.1 230.7h0M954.9 328.9h0M957.6 257.6h0M956.8 258.5h0M957.0 310.5h0M958.0 313.0h0M957.2 314.6h0M958.1 218.3h0M957.6 233.2h0M958.3 210.3h0M956.9 242.7h0M958.0 337.2h0M960.0 250.5h0M958.6 245.3h0M960.2 252.8h0M958.6 312.5h0M960.2 315.3h0M958.9 325.0h0M962.1 255.9h0M962.4 248.9h0M962.2 241.2h0M961.6 219.4h0M961.9 222.0h0M961.0 233.8h0M962.2 238.7h0M961.8 343.5h0M964.1 257.2h0M963.7 241.7h0M964.3 255.2h0M962.8 313.7h0M964.5 319.1h0M963.0 322.4h0M963.6 325.4h0M963.4 312.2h0M962.6 326.4h0M963.4 236.1h0M966.5 253.7h0M964.6 242.8h0M964.7 241.1h0M966.1 324.5h0M965.9 328.5h0M965.8 313.1h0M964.9 328.9h0M964.6 230.2h0M965.4 355.8h0M967.5 242.8h0M966.6 329.0h0M967.7 232.8h0M967.7 237.5h0M967.3 233.1h0M967.4 233.6h0M968.1 235.1h0M969.8 251.2h0M969.9 255.6h0M969.2 256.3h0M970.0 322.6h0M969.3 330.6h0M968.6 325.5h0M969.7 321.5h0M969.6 330.6h0M968.9 322.5h0M969.8 322.3h0M970.2 231.4h0M972.5 246.8h0M970.7 255.2h0M970.6 252.8h0M971.8 241.9h0M971.5 315.5h0M971.0 328.2h0M971.5 236.6h0M973.4 253.5h0M973.4 245.4h0M973.4 237.7h0M972.9 251.0h0M973.5 255.4h0M973.3 324.9h0M973.0 320.3h0M973.1 334.6h0M976.4 254.8h0M974.9 251.0h0M974.9 255.0h0M976.3 240.3h0M975.5 318.7h0M975.8 232.1h0M976.1 346.7h0M977.2 251.4h0M977.2 251.0h0M978.5 241.7h0M977.4 237.6h0M978.3 239.8h0M977.5 332.5h0M976.5 317.7h0M978.4 328.5h0M980.0 244.9h0M980.4 245.7h0M980.2 235.1h0M980.1 246.9h0M979.8 331.0h0M978.5 321.2h0M979.3 331.2h0M978.7 336.6h0M979.5 227.8h0M982.0 251.5h0M980.8 245.4h0M980.7 238.6h0M981.3 250.5h0M981.6 249.2h0M981.5 248.4h0M981.5 244.4h0M982.3 318.4h0M981.9 221.4h0M980.7 211.4h0M982.2 205.3h0M983.3 235.8h0M983.1 238.0h0M983.0 248.1h0M984.2 337.9h0M983.0 326.4h0M983.1 333.2h0M984.1 326.7h0M985.2 251.1h0M985.9 230.0h0M984.5 246.9h0M985.2 321.5h0M984.6 323.0h0M984.8 321.6h0M984.7 335.9h0M984.9 336.5h0M986.5 215.9h0M985.1 212.6h0M984.8 227.3h0M985.6 205.4h0M986.7 242.5h0M987.8 232.8h0M986.9 230.1h0M986.7 321.7h0M988.0 323.7h0M987.8 327.9h0M987.2 333.1h0M986.8 329.5h0M988.0 328.1h0M987.2 329.1h0M987.1 184.1h0M987.5 213.2h0M988.3 343.8h0M990.1 229.1h0M989.5 234.2h0M990.0 242.8h0M989.6 247.3h0M988.7 235.8h0M989.1 245.2h0M988.7 320.5h0M988.8 325.2h0M989.7 216.4h0M989.0 224.8h0M989.2 218.7h0M991.1 236.8h0M992.0 233.7h0M991.4 320.2h0M990.6 210.9h0M990.8 188.1h0M992.5 349.0h0M992.0 358.3h0M992.9 243.2h0M992.5 245.5h0M992.8 234.5h0M993.6 231.3h0M992.8 246.0h0M992.6 227.9h0M994.1 238.1h0M993.1 248.1h0M993.6 333.5h0M992.7 331.9h0M993.1 336.2h0M994.4 350.7h0M996.5 245.2h0M996.3 226.6h0M995.9 333.6h0M995.4 325.3h0M994.6 319.4h0M995.2 341.7h0M996.2 222.9h0M995.9 224.3h0M995.2 223.4h0M995.3 360.0h0M996.2 352.7h0M995.1 362.6h0M997.8 225.0h0M998.3 224.8h0M997.4 240.1h0M997.9 229.9h0M997.2 340.3h0M997.0 338.4h0M997.3 322.6h0M996.9 323.1h0M997.0 329.1h0M997.4 219.6h0M998.7 227.9h0M998.6 226.5h0M999.5 230.0h0M999.4 237.5h0M1000.2 244.9h0M999.4 340.0h0M999.0 327.0h0M1000.1 322.6h0M999.0 341.3h0M1000.2 326.0h0M1000.3 337.3h0M999.8 330.1h0M998.9 194.5h0M1000.1 371.0h0M998.7 372.6h0M1002.2 242.9h0M1002.4 246.5h0M1001.6 228.2h0M1001.2 318.7h0M1000.7 319.4h0M1003.7 239.6h0M1004.2 334.0h0M1002.7 319.7h0M1002.8 328.9h0M1002.9 189.9h0M1004.3 197.4h0M1003.2 345.9h0M1004.9 244.8h0M1004.8 236.7h0M1005.1 232.8h0M1004.6 327.5h0M1006.5 339.8h0M1006.1 341.4h0M1005.5 324.0h0M1006.5 323.4h0M1006.3 204.8h0M1006.5 373.2h0M1007.6 246.2h0M1006.6 228.7h0M1006.9 246.3h0M1007.0 223.8h0M1007.0 242.0h0M1007.3 241.3h0M1007.7 335.2h0M1006.9 341.0h0M1007.7 197.9h0M1008.0 359.0h0M1009.2 229.9h0M1008.8 245.1h0M1008.6 235.5h0M1008.5 244.4h0M1009.6 240.2h0M1009.1 336.1h0M1008.7 319.7h0M1009.0 325.6h0M1009.5 327.2h0M1010.5 324.5h0M1010.1 343.6h0M1011.8 231.1h0M1012.4 233.8h0M1012.4 236.6h0M1010.5 238.7h0M1011.5 243.1h0M1012.3 337.2h0M1011.6 318.6h0M1012.5 319.1h0M1012.2 326.5h0M1012.4 344.5h0M1014.2 231.0h0M1014.2 321.8h0M1013.7 322.0h0M1013.7 332.4h0M1013.4 325.3h0M1014.3 338.9h0M1013.4 192.6h0M1013.2 205.9h0M1012.6 345.8h0M1015.7 242.2h0M1015.2 238.3h0M1014.9 224.1h0M1015.7 225.9h0M1014.6 339.9h0M1015.2 319.5h0M1016.2 202.1h0M1015.9 362.2h0M1018.3 228.0h0M1017.2 233.4h0M1018.1 244.8h0M1017.1 245.0h0M1017.6 335.1h0M1017.1 339.2h0M1018.0 320.4h0M1018.5 319.6h0M1017.9 205.3h0M1016.6 360.3h0M1016.8 356.0h0M1020.2 243.1h0M1018.8 240.4h0M1018.6 341.4h0M1019.6 320.5h0M1018.7 319.1h0M1019.1 330.7h0M1021.3 235.2h0M1020.5 241.6h0M1021.7 240.2h0M1021.0 241.6h0M1020.6 225.8h0M1021.7 341.9h0M1022.2 331.4h0M1021.0 323.8h0M1021.8 194.4h0M1023.9 230.2h0M1023.6 234.5h0M1024.2 221.1h0M1023.9 239.6h0M1023.3 243.8h0M1023.4 187.3h0M1023.0 356.6h0M1025.3 229.9h0M1026.0 224.8h0M1024.9 223.8h0M1026.0 231.0h0M1026.3 235.4h0M1026.3 238.3h0M1025.2 339.4h0M1025.2 342.7h0M1026.1 348.7h0M1028.5 233.0h0M1027.3 230.7h0M1026.8 221.8h0M1027.1 233.9h0M1027.6 342.2h0M1028.3 333.1h0M1027.2 343.9h0M1028.5 344.9h0M1026.9 211.9h0M1026.7 201.6h0M1029.4 243.8h0M1028.7 225.7h0M1029.7 233.5h0M1029.9 243.2h0M1030.1 239.4h0M1028.6 222.3h0M1029.6 321.7h0M1030.1 344.0h0M1030.1 331.1h0M1029.4 320.7h0M1028.7 321.3h0M1028.7 321.2h0M1028.9 351.8h0M1031.0 243.2h0M1031.6 232.9h0M1031.6 228.8h0M1032.0 341.0h0M1031.6 325.7h0M1030.8 334.6h0M1031.0 345.6h0M1031.3 352.1h0M1034.3 233.7h0M1032.7 239.2h0M1033.0 231.7h0M1032.9 240.1h0M1033.2 233.3h0M1033.5 229.4h0M1033.0 323.5h0M1034.2 347.3h0M1032.8 335.2h0M1033.9 331.7h0M1033.8 323.0h0M1033.0 208.0h0M1035.5 232.3h0M1034.9 224.2h0M1036.0 220.0h0M1035.0 230.6h0M1035.6 240.6h0M1035.8 333.6h0M1034.6 342.7h0M1036.3 326.1h0M1036.2 327.1h0M1036.5 357.6h0M1037.3 235.3h0M1038.2 236.2h0M1037.6 243.5h0M1038.0 236.7h0M1037.1 235.1h0M1037.5 241.7h0M1037.9 324.1h0M1036.8 326.2h0M1039.1 239.3h0M1039.6 229.2h0M1039.4 241.2h0M1040.2 239.5h0M1038.8 244.3h0M1039.6 346.6h0M1039.6 335.7h0M1040.2 333.5h0M1038.6 328.9h0M1039.9 343.4h0M1039.1 345.1h0M1038.6 330.6h0M1041.4 240.5h0M1041.8 242.5h0M1041.0 234.9h0M1042.0 235.8h0M1042.2 335.9h0M1041.4 344.4h0M1041.6 345.4h0M1040.6 325.4h0M1042.4 341.7h0M1042.2 331.4h0M1041.2 338.3h0M1042.6 232.6h0M1043.7 244.6h0M1043.1 242.4h0M1043.4 327.4h0M1043.6 346.9h0M1044.5 343.5h0M1043.8 346.8h0M1044.4 331.1h0M1043.0 347.8h0M1042.9 337.3h0M1044.4 355.5h0M1045.8 238.8h0M1045.7 230.3h0M1046.3 332.3h0M1046.0 335.5h0M1046.4 343.6h0M1045.9 216.8h0M1045.9 196.0h0M1048.3 224.5h0M1048.1 218.6h0M1047.1 229.1h0M1047.0 241.9h0M1047.3 243.3h0M1047.5 340.5h0M1048.0 330.2h0M1046.7 350.0h0M1047.1 332.4h0M1047.7 217.1h0M1049.0 244.0h0M1049.9 223.5h0M1049.1 231.7h0M1049.5 240.6h0M1049.6 226.6h0M1049.3 242.3h0M1050.0 352.4h0M1049.6 330.2h0M1050.2 331.9h0M1050.2 346.3h0M1049.2 351.5h0M1049.6 357.9h0M1049.9 382.2h0M1052.1 226.2h0M1051.1 227.2h0M1051.6 337.3h0M1052.4 328.2h0M1051.1 353.3h0M1051.2 335.9h0M1050.8 333.9h0M1052.4 215.2h0M1051.1 365.1h0M1052.8 223.1h0M1054.1 221.4h0M1052.7 341.7h0M1053.4 335.1h0M1053.6 355.7h0M1054.8 229.8h0M1055.9 222.4h0M1056.1 217.2h0M1055.4 352.0h0M1055.0 355.3h0M1056.3 336.6h0M1054.6 337.0h0M1054.7 386.9h0M1055.0 356.7h0M1057.6 234.8h0M1057.9 227.4h0M1057.3 231.3h0M1057.6 229.9h0M1058.0 235.9h0M1058.3 336.7h0M1058.1 346.1h0M1057.9 346.0h0M1057.5 340.7h0M1057.9 343.5h0M1058.0 340.7h0M1058.3 213.7h0M1057.2 358.7h0M1057.6 365.7h0M1057.4 360.3h0M1056.8 382.7h0M1060.3 241.4h0M1059.0 228.6h0M1059.7 225.3h0M1060.0 229.5h0M1059.6 234.4h0M1059.5 232.6h0M1059.3 215.8h0M1060.2 352.7h0M1058.6 200.4h0M1059.7 210.6h0M1060.5 191.3h0M1059.5 196.6h0M1059.7 361.5h0M1058.6 375.0h0M1058.8 377.2h0M1059.9 365.4h0M1059.1 359.6h0M1059.8 365.2h0M1061.1 230.1h0M1062.0 236.7h0M1061.3 217.3h0M1060.8 222.5h0M1061.7 219.0h0M1061.2 243.1h0M1062.1 330.4h0M1062.3 344.1h0M1062.3 331.4h0M1062.2 352.0h0M1060.6 352.4h0M1062.2 200.5h0M1061.0 200.8h0M1061.0 188.9h0M1061.8 367.8h0M1061.4 426.8h0M1061.4 375.3h0M1061.3 378.9h0M1060.7 365.4h0M1063.1 237.9h0M1063.5 221.3h0M1064.3 223.4h0M1063.3 230.8h0M1063.7 225.6h0M1064.2 243.4h0M1063.1 343.5h0M1063.1 333.0h0M1063.5 353.0h0M1063.0 183.7h0M1062.9 209.9h0M1064.0 390.8h0M1064.8 240.0h0M1066.2 224.1h0M1065.3 241.8h0M1066.4 348.9h0M1065.5 343.2h0M1065.2 345.4h0M1065.1 354.3h0M1065.4 338.2h0M1065.9 207.5h0M1064.5 191.7h0M1066.5 195.0h0M1065.6 182.6h0M1064.5 377.1h0M1065.5 387.3h0M1065.3 402.9h0M1064.8 362.7h0M1065.8 374.9h0M1067.2 231.8h0M1068.1 223.9h0M1067.6 242.5h0M1067.0 230.9h0M1067.1 242.7h0M1067.1 348.1h0M1067.1 353.3h0M1067.7 340.9h0M1066.7 348.3h0M1068.3 213.3h0M1067.4 209.2h0M1066.8 188.9h0M1068.5 384.2h0M1067.2 397.5h0M1066.6 359.3h0M1069.4 223.2h0M1069.5 230.7h0M1069.7 234.9h0M1069.0 236.5h0M1069.0 234.0h0M1070.1 222.9h0M1069.8 230.5h0M1069.9 350.8h0M1069.8 332.6h0M1068.7 330.6h0M1068.8 350.2h0M1068.8 197.3h0M1069.7 392.9h0M1068.5 383.1h0M1071.8 215.2h0M1072.4 220.2h0M1071.9 236.6h0M1071.1 238.9h0M1072.3 239.0h0M1071.3 239.0h0M1072.0 237.1h0M1071.8 331.1h0M1072.3 335.0h0M1070.9 349.5h0M1072.1 332.8h0M1072.3 337.9h0M1071.8 165.6h0M1070.9 202.1h0M1074.4 241.9h0M1074.4 219.7h0M1073.3 226.5h0M1073.9 238.4h0M1072.9 228.2h0M1072.7 222.6h0M1072.8 348.2h0M1073.2 354.2h0M1072.8 343.4h0M1072.9 332.2h0M1073.3 344.4h0M1072.5 330.4h0M1074.3 378.3h0M1073.1 382.2h0M1073.6 400.8h0M1073.8 364.1h0M1076.5 230.6h0M1075.1 228.5h0M1075.4 240.7h0M1076.0 343.4h0M1075.0 350.6h0M1077.1 240.0h0M1078.0 227.5h0M1076.8 226.6h0M1077.3 239.6h0M1077.4 233.3h0M1077.4 328.9h0M1078.0 337.4h0M1078.3 341.9h0M1076.7 328.8h0M1077.9 167.2h0M1078.4 201.8h0M1077.0 203.6h0M1077.8 383.9h0M1078.0 392.0h0M1080.0 227.9h0M1078.7 230.3h0M1078.5 231.0h0M1079.9 219.3h0M1080.1 337.6h0M1079.7 334.6h0M1079.7 336.1h0M1080.1 334.9h0M1079.4 335.8h0M1079.1 199.2h0M1079.2 202.7h0M1078.6 190.7h0M1078.9 371.9h0M1079.3 374.9h0M1078.6 363.8h0M1080.4 363.0h0M1080.8 241.4h0M1081.9 220.6h0M1081.8 239.5h0M1082.1 238.6h0M1082.4 331.7h0M1082.1 347.7h0M1080.8 349.4h0M1080.8 353.6h0M1081.2 338.8h0M1082.5 329.2h0M1080.9 335.0h0M1080.7 170.4h0M1081.7 183.5h0M1081.4 162.3h0M1081.8 187.1h0M1081.7 371.6h0M1084.1 337.9h0M1083.1 347.8h0M1083.8 329.9h0M1084.1 207.0h0M1082.6 386.6h0M1084.1 362.6h0M1084.4 391.1h0M1085.7 217.9h0M1084.5 236.4h0M1086.2 217.4h0M1085.0 226.7h0M1084.9 224.8h0M1085.5 329.0h0M1085.0 339.1h0M1086.5 327.3h0M1084.8 330.2h0M1086.5 352.4h0M1085.0 348.5h0M1086.2 342.2h0M1085.8 337.9h0M1085.4 186.8h0M1086.5 389.3h0M1088.3 230.3h0M1087.0 224.4h0M1087.3 331.9h0M1088.3 331.9h0M1088.0 354.2h0M1088.4 327.1h0M1086.5 195.1h0M1086.6 355.5h0M1090.4 239.6h0M1089.5 214.7h0M1089.0 228.7h0M1088.8 233.5h0M1088.6 223.8h0M1088.5 234.9h0M1089.2 232.0h0M1090.0 229.7h0M1089.8 232.5h0M1089.6 334.0h0M1089.4 332.3h0M1089.5 353.2h0M1088.8 349.6h0M1088.9 327.9h0M1089.3 180.2h0M1090.1 180.7h0M1088.9 181.3h0M1089.9 209.9h0M1089.7 160.1h0M1092.2 235.6h0M1092.2 222.0h0M1091.0 233.4h0M1092.0 229.7h0M1091.3 229.5h0M1091.2 237.9h0M1092.4 235.6h0M1090.8 332.4h0M1090.5 335.7h0M1091.0 337.9h0M1092.4 340.7h0M1091.8 205.9h0M1091.9 180.8h0M1090.8 172.5h0M1091.1 181.2h0M1090.6 180.0h0M1091.5 376.7h0M1092.8 237.2h0M1094.0 222.7h0M1092.8 346.3h0M1093.5 328.3h0M1094.0 340.0h0M1094.4 334.1h0M1093.5 335.9h0M1092.6 191.2h0M1092.6 142.2h0M1094.1 365.5h0M1094.9 217.2h0M1094.9 224.6h0M1094.7 213.7h0M1095.4 220.5h0M1094.7 233.0h0M1095.9 219.9h0M1096.5 333.6h0M1095.0 326.4h0M1096.0 345.9h0M1096.2 209.1h0M1096.1 193.1h0M1094.7 193.3h0M1097.7 238.1h0M1097.4 212.0h0M1097.7 232.1h0M1097.6 232.6h0M1096.6 327.6h0M1097.6 337.8h0M1096.9 335.2h0M1098.3 327.8h0M1098.4 340.1h0M1098.0 346.9h0M1098.2 342.1h0M1097.5 342.3h0M1096.9 151.6h0M1096.6 369.8h0M1097.6 387.3h0M1098.9 232.1h0M1100.5 213.9h0M1099.2 233.2h0M1098.7 237.1h0M1100.2 330.3h0M1099.1 332.9h0M1099.1 336.1h0M1099.4 327.1h0M1099.2 324.6h0M1099.8 151.9h0M1100.3 388.7h0M1098.7 364.0h0M1102.1 239.1h0M1102.1 221.8h0M1100.7 228.3h0M1101.7 331.5h0M1102.0 351.9h0M1101.2 325.5h0M1101.5 181.2h0M1101.3 181.1h0M1103.2 220.1h0M1103.6 237.6h0M1103.7 339.1h0M1103.0 194.6h0M1102.6 371.9h0M1102.9 380.7h0M1104.8 222.2h0M1105.3 229.8h0M1105.3 230.1h0M1104.6 238.7h0M1105.8 350.3h0M1105.4 339.8h0M1105.1 338.3h0M1104.7 333.4h0M1105.9 184.5h0M1108.3 236.9h0M1106.5 237.7h0M1107.0 216.5h0M1108.4 237.2h0M1108.4 215.9h0M1107.2 226.2h0M1108.0 211.6h0M1108.2 333.8h0M1107.4 328.6h0M1107.1 334.8h0M1108.1 363.3h0M1110.0 234.0h0M1110.5 236.4h0M1108.8 229.1h0M1109.1 223.3h0M1109.5 217.6h0M1110.3 238.6h0M1109.0 325.0h0M1109.8 334.3h0M1109.3 328.5h0M1108.6 329.3h0M1108.8 325.2h0M1108.7 339.0h0M1109.9 356.7h0M1110.3 374.8h0M1110.7 237.3h0M1110.6 228.0h0M1111.1 232.4h0M1111.0 232.4h0M1112.4 223.9h0M1111.7 226.4h0M1111.5 239.2h0M1112.1 348.8h0M1111.6 330.3h0M1112.3 333.9h0M1112.5 325.6h0M1112.5 329.9h0M1112.0 333.9h0M1111.3 350.6h0M1111.9 327.9h0M1110.8 183.0h0M1111.1 393.4h0M1111.9 362.0h0M1110.6 357.0h0M1113.0 227.2h0M1114.1 234.0h0M1112.6 224.2h0M1112.6 232.4h0M1113.9 327.5h0M1113.0 326.7h0M1112.6 329.8h0M1113.8 333.0h0M1113.4 209.7h0M1113.5 200.4h0M1114.7 231.5h0M1116.1 233.7h0M1115.4 350.0h0M1114.8 348.7h0M1114.8 210.8h0M1115.6 363.0h0M1115.1 355.7h0M1115.8 361.4h0M1117.7 236.6h0M1117.6 218.8h0M1117.1 220.4h0M1117.0 237.2h0M1118.2 339.4h0M1118.3 186.4h0M1117.3 204.8h0M1117.9 355.3h0M1118.7 233.3h0M1120.1 234.3h0M1120.1 222.2h0M1118.6 224.5h0M1119.9 341.5h0M1118.9 331.8h0M1118.6 333.7h0M1120.0 325.6h0M1119.6 331.2h0M1119.6 340.1h0M1119.7 200.5h0M1119.6 185.5h0M1119.6 203.1h0M1122.1 235.2h0M1122.2 235.9h0M1121.5 218.5h0M1122.2 212.5h0M1122.3 341.6h0M1122.1 343.5h0M1121.2 192.8h0M1120.9 183.8h0M1121.6 190.9h0M1121.6 203.5h0M1123.3 232.1h0M1123.5 211.9h0M1123.1 215.9h0M1123.1 226.7h0M1122.9 222.8h0M1123.4 238.9h0M1123.7 235.1h0M1123.3 212.1h0M1123.5 234.6h0M1123.4 216.5h0M1123.0 237.9h0M1122.8 341.3h0M1124.4 340.0h0M1122.7 333.5h0M1122.8 355.7h0M1124.1 349.9h0M1122.8 330.6h0M1123.1 335.3h0M1124.4 207.3h0M1122.7 192.9h0M1123.9 165.8h0M1126.4 222.8h0M1125.3 236.5h0M1124.6 219.7h0M1125.0 220.7h0M1126.4 341.9h0M1126.2 358.0h0M1125.4 349.8h0M1125.0 338.6h0M1125.0 329.7h0M1124.8 333.3h0M1124.8 341.9h0M1125.2 201.5h0M1124.8 178.4h0M1126.7 235.5h0M1127.0 216.3h0M1127.8 237.8h0M1127.9 235.1h0M1127.2 236.4h0M1127.6 228.2h0M1127.4 221.5h0M1128.5 348.1h0M1127.5 356.7h0M1126.8 356.7h0M1126.9 333.2h0M1127.0 358.5h0M1126.9 359.3h0M1128.2 202.2h0M1127.1 197.7h0M1127.8 361.6h0M1129.8 237.3h0M1128.8 231.1h0M1130.0 239.7h0M1130.2 236.3h0M1130.5 214.0h0M1129.9 240.5h0M1130.4 346.7h0M1129.3 347.9h0M1130.5 348.2h0M1130.2 333.9h0M1130.3 195.0h0M1129.5 375.9h0M1132.3 229.3h0M1131.5 231.9h0M1130.6 223.2h0M1131.0 234.4h0M1131.6 235.1h0M1130.7 345.7h0M1131.3 350.0h0M1131.6 337.5h0M1130.7 354.1h0M1132.1 189.9h0M1132.4 154.3h0M1131.9 167.0h0M1131.4 202.6h0M1132.2 377.9h0M1130.8 398.2h0M1134.4 241.4h0M1132.6 234.5h0M1134.0 230.4h0M1133.3 343.5h0M1132.5 345.2h0M1133.9 338.4h0M1134.3 355.0h0M1133.8 358.8h0M1134.4 339.4h0M1133.1 358.6h0M1134.1 366.9h0M1135.8 215.7h0M1136.0 232.3h0M1134.6 238.5h0M1134.6 222.9h0M1135.3 242.8h0M1134.7 225.7h0M1135.9 344.6h0M1136.5 362.5h0M1135.8 344.5h0M1134.6 362.5h0M1134.6 340.0h0M1138.4 241.3h0M1137.9 236.9h0M1137.2 236.0h0M1137.9 240.9h0M1138.5 240.9h0M1138.0 214.1h0M1138.2 233.3h0M1138.4 238.2h0M1138.1 237.2h0M1138.2 243.0h0M1137.6 337.1h0M1137.7 359.4h0M1138.2 351.0h0M1136.5 352.4h0M1137.9 341.5h0M1138.4 209.9h0M1138.5 381.2h0M1137.4 378.8h0M1140.5 233.9h0M1139.1 225.2h0M1139.5 225.2h0M1138.7 229.9h0M1139.5 234.5h0M1139.9 343.6h0M1140.0 365.5h0M1140.1 350.6h0M1138.7 337.6h0M1139.6 199.2h0M1139.7 202.2h0M1140.4 399.8h0M1142.1 227.9h0M1141.4 215.6h0M1140.6 357.8h0M1141.2 357.4h0M1141.4 343.0h0M1141.3 347.7h0M1142.9 218.4h0M1144.0 236.0h0M1143.9 223.8h0M1142.7 214.3h0M1143.7 228.5h0M1144.4 237.0h0M1144.1 230.2h0M1144.0 353.8h0M1143.4 351.2h0M1142.9 367.5h0M1143.1 341.8h0M1143.2 362.2h0M1143.1 348.2h0M1143.5 212.4h0M1143.7 200.1h0M1143.8 185.0h0M1144.8 213.2h0M1144.9 241.4h0M1146.0 224.0h0M1145.1 225.3h0M1145.2 226.8h0M1145.9 244.0h0M1146.0 243.3h0M1145.4 367.4h0M1146.1 350.6h0M1145.9 355.7h0M1146.0 342.2h0M1146.5 345.7h0M1146.2 346.4h0M1146.1 171.3h0M1146.2 181.1h0M1144.7 201.3h0M1146.7 240.9h0M1147.1 227.7h0M1148.1 238.6h0M1146.6 226.0h0M1147.6 243.2h0M1148.3 226.2h0M1147.2 214.5h0M1147.8 343.1h0M1146.8 364.8h0M1147.0 355.4h0M1147.6 151.5h0M1148.7 228.0h0M1149.7 230.3h0M1150.3 229.6h0M1149.2 222.9h0M1149.2 241.1h0M1149.5 216.3h0M1149.0 338.7h0M1149.1 340.7h0M1149.7 342.2h0M1148.6 338.4h0M1149.8 368.2h0M1149.0 174.7h0M1149.0 200.3h0M1148.7 382.6h0M1151.6 225.0h0M1151.1 235.1h0M1151.6 240.3h0M1151.4 214.9h0M1152.4 229.7h0M1151.4 348.3h0M1152.3 341.2h0M1151.3 338.7h0M1151.9 339.1h0M1150.5 340.6h0M1150.9 346.5h0M1151.3 208.5h0M1150.8 190.0h0M1151.2 201.5h0M1152.8 242.7h0M1153.0 241.5h0M1153.7 233.2h0M1152.8 238.3h0M1153.9 341.5h0M1153.9 339.9h0M1152.8 175.9h0M1154.2 148.3h0M1155.2 230.7h0M1154.7 238.0h0M1155.8 226.0h0M1156.3 215.8h0M1155.4 233.7h0M1155.5 346.6h0M1155.9 339.8h0M1155.1 336.0h0M1155.6 341.4h0M1155.4 344.5h0M1156.5 342.8h0M1154.7 201.7h0M1154.9 212.3h0M1154.5 186.6h0M1154.7 198.2h0M1156.5 419.4h0M1157.7 240.1h0M1158.3 235.6h0M1156.8 218.9h0M1157.0 227.3h0M1157.6 241.5h0M1157.7 220.2h0M1158.3 233.6h0M1157.8 215.5h0M1158.1 221.0h0M1157.6 230.7h0M1158.4 217.2h0M1156.6 335.8h0M1156.8 351.3h0M1158.2 351.8h0M1158.3 341.0h0M1157.9 359.3h0M1157.4 339.4h0M1157.3 349.6h0M1157.9 204.4h0M1158.0 211.0h0M1157.2 164.7h0M1159.4 231.3h0M1158.9 224.1h0M1160.1 235.4h0M1158.6 218.6h0M1159.4 224.1h0M1159.4 221.2h0M1159.4 218.7h0M1159.0 345.0h0M1160.3 339.3h0M1159.6 335.7h0M1160.2 363.4h0M1158.8 334.6h0M1160.1 185.7h0M1158.6 157.2h0M1160.1 189.9h0M1160.1 201.7h0M1162.3 236.1h0M1161.6 232.4h0M1162.3 230.6h0M1160.9 235.9h0M1161.2 217.2h0M1162.3 236.5h0M1161.0 335.9h0M1160.6 339.1h0M1161.2 335.5h0M1161.3 343.7h0M1162.1 359.3h0M1162.2 183.6h0M1162.4 212.7h0M1160.7 184.4h0M1160.7 371.8h0M1160.6 432.6h0M1161.0 456.9h0M1160.9 372.5h0M1163.3 224.5h0M1164.3 232.9h0M1163.0 361.9h0M1163.9 338.5h0M1163.2 359.8h0M1162.6 352.4h0M1164.1 335.8h0M1162.7 358.2h0M1164.5 356.3h0M1163.4 190.9h0M1164.2 155.2h0M1163.2 202.2h0M1164.0 196.3h0M1162.7 198.6h0M1164.3 209.9h0M1163.7 368.0h0M1162.7 413.2h0M1166.3 223.9h0M1165.7 228.9h0M1164.9 234.4h0M1164.7 227.1h0M1165.9 236.8h0M1165.3 237.0h0M1165.6 236.4h0M1165.4 347.6h0M1165.2 347.6h0M1166.1 333.8h0M1166.3 335.2h0M1165.4 203.7h0M1166.1 166.6h0M1165.3 209.0h0M1165.8 199.7h0M1165.8 375.9h0M1164.6 366.5h0M1165.3 403.0h0M1165.2 417.3h0M1164.6 375.9h0M1167.5 231.5h0M1168.2 234.0h0M1168.3 214.2h0M1167.6 341.3h0M1167.4 340.1h0M1167.1 361.1h0M1167.3 184.7h0M1166.9 197.2h0M1166.5 180.9h0M1167.6 394.8h0M1167.7 403.6h0M1166.6 370.9h0M1168.3 385.2h0M1168.9 219.1h0M1170.4 224.7h0M1169.5 228.7h0M1169.9 232.8h0M1170.1 215.1h0M1170.0 216.6h0M1170.5 343.7h0M1169.0 353.1h0M1169.7 354.1h0M1170.5 336.6h0M1170.4 344.5h0M1169.9 206.9h0M1170.3 207.1h0M1170.3 169.6h0M1170.3 392.0h0M1168.6 385.8h0M1170.8 221.8h0M1172.1 230.3h0M1171.4 336.1h0M1172.2 340.8h0M1171.2 342.8h0M1170.7 337.7h0M1172.1 350.7h0M1170.9 195.0h0M1171.4 196.5h0M1170.8 390.4h0M1172.8 239.0h0M1173.6 224.8h0M1172.9 213.8h0M1174.3 235.8h0M1173.5 235.8h0M1174.1 348.2h0M1172.9 342.7h0M1174.1 353.0h0M1172.7 352.1h0M1173.4 341.6h0M1173.4 195.4h0M1172.8 388.5h0M1175.5 243.2h0M1175.3 225.3h0M1174.5 221.5h0M1176.3 218.1h0M1175.8 240.2h0M1176.1 226.1h0M1174.9 232.0h0M1175.2 229.8h0M1176.3 356.2h0M1175.6 348.7h0M1175.2 363.6h0M1176.4 352.0h0M1175.7 337.8h0M1174.5 348.4h0M1175.3 356.9h0M1174.6 347.2h0M1175.4 352.7h0M1176.4 335.8h0M1176.4 192.3h0M1175.5 198.3h0M1175.6 167.3h0M1177.0 232.9h0M1178.0 224.8h0M1177.3 241.2h0M1177.0 220.2h0M1178.0 215.0h0M1178.0 214.1h0M1177.5 346.0h0M1177.5 345.1h0M1177.1 340.9h0M1177.5 341.1h0M1177.4 185.3h0M1177.7 430.3h0M1177.1 370.2h0M1180.3 240.7h0M1180.3 224.2h0M1179.9 219.8h0M1179.3 237.7h0M1179.7 232.5h0M1180.1 240.2h0M1179.9 239.1h0M1178.9 341.6h0M1179.8 361.5h0M1180.4 356.8h0M1179.7 187.2h0M1178.7 385.0h0M1180.6 241.1h0M1181.0 238.1h0M1181.1 235.3h0M1180.9 222.4h0M1180.7 234.6h0M1181.9 225.6h0M1182.1 239.9h0M1182.2 341.8h0M1181.2 348.2h0M1180.6 362.5h0M1182.5 343.7h0M1182.0 341.7h0M1180.9 341.4h0M1181.5 421.0h0M1181.4 383.3h0M1182.9 237.7h0M1183.0 223.0h0M1183.6 347.5h0M1184.3 356.1h0M1182.8 365.9h0M1182.7 339.2h0M1183.5 341.7h0M1183.7 351.2h0M1184.2 348.2h0M1185.4 222.3h0M1185.0 222.6h0M1186.1 229.9h0M1186.1 236.9h0M1186.3 228.5h0M1185.8 220.9h0M1184.5 341.6h0M1184.7 338.7h0M1186.1 212.2h0M1186.4 377.6h0M1185.0 373.4h0M1184.6 406.9h0M1185.4 386.4h0M1185.9 371.2h0M1186.8 238.3h0M1187.7 243.2h0M1187.3 236.9h0M1187.6 344.4h0M1187.1 350.7h0M1186.6 338.1h0M1187.3 341.8h0M1188.4 351.2h0M1186.6 363.9h0M1190.1 227.7h0M1190.1 217.7h0M1190.1 214.3h0M1190.4 230.1h0M1189.6 337.6h0M1189.2 339.6h0M1190.1 358.0h0M1189.4 361.7h0M1189.1 344.3h0M1188.8 356.2h0M1189.9 340.1h0M1190.0 199.5h0M1189.6 212.0h0M1188.7 368.4h0M1191.1 231.8h0M1191.9 234.9h0M1190.9 220.2h0M1192.2 238.4h0M1191.4 239.4h0M1191.7 347.7h0M1191.7 348.6h0M1191.5 338.0h0M1191.3 342.1h0M1191.5 338.1h0M1191.8 348.9h0M1191.3 350.4h0M1191.9 203.0h0M1192.4 177.9h0M1191.0 177.0h0M1191.7 200.3h0M1191.4 174.7h0M1192.4 193.1h0M1192.4 206.2h0M1191.7 375.9h0M1193.6 217.7h0M1193.8 217.0h0M1194.3 217.9h0M1193.6 235.1h0M1194.4 347.1h0M1192.9 341.1h0M1193.9 334.9h0M1192.6 347.1h0M1192.7 203.1h0M1193.3 407.1h0M1196.0 227.5h0M1195.6 227.7h0M1194.7 222.5h0M1195.1 232.1h0M1195.3 241.4h0M1196.4 334.5h0M1196.2 335.4h0M1195.1 344.7h0M1195.5 334.5h0M1194.9 336.6h0M1194.9 352.7h0M1196.4 362.5h0M1195.2 340.1h0M1195.1 206.2h0M1194.9 167.0h0M1195.5 196.2h0M1196.3 209.7h0M1195.8 163.9h0M1194.6 388.6h0M1197.6 235.3h0M1198.4 240.3h0M1197.3 241.5h0M1197.3 231.9h0M1198.5 232.8h0M1197.6 222.6h0M1198.2 219.0h0M1197.1 230.9h0M1197.3 343.5h0M1196.6 359.7h0M1197.6 338.7h0M1196.9 355.8h0M1198.3 348.3h0M1197.9 198.3h0M1197.7 200.1h0M1196.6 201.8h0M1198.5 192.9h0M1197.3 388.1h0M1197.6 369.1h0M1198.4 363.8h0M1196.5 373.5h0M1196.5 370.9h0M1197.3 363.9h0M1198.7 215.1h0M1200.1 234.6h0M1200.2 213.2h0M1199.6 228.6h0M1200.2 238.9h0M1199.2 224.0h0M1199.9 240.2h0M1199.1 220.5h0M1199.7 347.1h0M1198.8 361.0h0M1200.0 352.8h0M1200.0 353.6h0M1200.4 205.9h0M1198.6 190.2h0M1199.1 414.8h0M1199.7 371.0h0M1199.3 391.6h0M1201.3 222.8h0M1201.7 240.3h0M1201.7 221.4h0M1200.5 220.1h0M1201.0 343.6h0M1202.1 357.3h0M1200.8 335.2h0M1201.3 185.5h0M1202.4 385.3h0M1200.8 380.3h0M1202.9 214.5h0M1203.7 237.2h0M1204.1 237.4h0M1204.5 240.9h0M1203.4 235.5h0M1204.5 226.2h0M1203.5 355.3h0M1202.9 349.7h0M1202.8 354.2h0M1203.3 344.4h0M1203.5 210.3h0M1203.2 172.8h0M1203.8 364.4h0M1206.5 229.5h0M1206.4 240.3h0M1204.9 227.7h0M1206.3 217.4h0M1206.2 234.5h0M1204.8 238.4h0M1206.0 339.5h0M1206.3 339.3h0M1206.2 336.4h0M1205.7 210.2h0M1204.7 185.1h0M1205.5 196.6h0M1205.8 203.3h0M1206.5 204.8h0M1205.4 183.1h0M1206.3 186.0h0M1205.9 374.6h0M1206.9 219.3h0M1208.4 228.2h0M1207.7 215.0h0M1208.4 341.2h0M1208.4 356.5h0M1208.0 340.2h0M1206.8 333.9h0M1206.7 350.3h0M1208.4 334.4h0M1206.7 191.4h0M1207.8 204.2h0M1206.5 209.3h0M1207.1 212.7h0M1206.6 204.3h0M1206.6 370.4h0M1207.8 396.6h0M1209.8 230.8h0M1209.7 243.3h0M1210.2 230.7h0M1210.5 223.9h0M1209.5 238.0h0M1210.4 335.5h0M1209.6 333.3h0M1209.9 332.8h0M1208.8 206.9h0M1210.2 202.4h0M1208.8 206.9h0M1210.2 369.6h0M1209.7 379.8h0M1209.1 375.4h0M1209.1 391.3h0M1211.7 222.8h0M1212.0 237.3h0M1211.8 230.8h0M1210.5 232.2h0M1211.1 237.8h0M1212.3 345.9h0M1211.6 357.4h0M1211.6 209.7h0M1211.1 374.7h0M1211.0 365.6h0M1213.6 243.9h0M1212.8 239.5h0M1214.4 220.3h0M1212.5 218.3h0M1212.6 243.4h0M1214.0 244.1h0M1213.1 229.8h0M1212.7 220.1h0M1214.1 239.4h0M1214.4 360.0h0M1213.5 337.1h0M1214.5 361.1h0M1214.2 340.5h0M1213.5 369.3h0M1213.6 415.1h0M1213.6 364.4h0M1213.1 385.0h0M1213.5 380.7h0M1214.2 417.0h0M1212.7 362.5h0M1214.1 403.2h0M1213.0 388.7h0M1214.8 223.1h0M1215.9 219.4h0M1215.8 343.1h0M1215.0 341.1h0M1215.1 353.9h0M1215.1 342.0h0M1216.4 358.1h0M1215.9 192.8h0M1215.1 207.1h0M1215.9 376.5h0M1215.4 402.7h0M1214.7 399.1h0M1216.3 379.7h0M1218.1 229.6h0M1218.1 216.6h0M1216.7 233.9h0M1218.3 244.9h0M1217.6 334.3h0M1217.7 359.5h0M1216.6 349.4h0M1217.3 359.3h0M1218.0 343.6h0M1217.6 207.3h0M1217.6 188.3h0M1220.1 243.5h0M1219.3 230.3h0M1218.6 242.9h0M1219.5 219.2h0M1219.0 238.8h0M1219.9 230.6h0M1220.1 224.9h0M1219.1 241.7h0M1220.3 349.7h0M1220.0 356.5h0M1220.5 338.8h0M1218.7 336.2h0M1220.2 355.1h0M1220.1 360.9h0M1219.7 341.3h0M1219.2 337.7h0M1219.2 341.1h0M1218.6 199.5h0M1221.5 229.2h0M1221.6 235.6h0M1221.4 340.3h0M1221.7 348.7h0M1222.1 338.2h0M1221.6 345.3h0M1221.9 334.3h0M1222.2 188.2h0M1221.9 421.9h0M1222.1 391.7h0M1224.3 228.1h0M1222.6 362.5h0M1222.6 355.8h0M1223.0 337.2h0M1223.8 363.3h0M1223.5 198.6h0M1222.7 192.3h0M1223.7 402.3h0M1224.1 393.2h0M1226.4 225.4h0M1224.9 238.2h0M1224.8 238.7h0M1225.9 221.6h0M1225.9 233.1h0M1225.1 352.9h0M1225.0 342.2h0M1225.7 338.3h0M1225.8 356.7h0M1225.5 337.2h0M1226.2 184.7h0M1226.0 193.9h0M1224.6 192.9h0M1225.9 385.1h0M1226.0 403.8h0M1225.2 390.2h0M1228.4 226.8h0M1228.3 232.5h0M1226.6 234.4h0M1228.2 230.6h0M1227.1 358.5h0M1228.3 344.9h0M1227.1 336.0h0M1227.9 365.7h0M1228.4 351.9h0M1228.3 342.3h0M1226.9 188.8h0M1228.6 237.1h0M1229.1 209.5h0M1229.3 233.5h0M1229.5 219.9h0M1230.1 229.1h0M1229.7 229.7h0M1229.7 209.5h0M1228.8 233.6h0M1228.6 349.9h0M1229.9 349.2h0M1229.9 348.8h0M1229.7 363.4h0M1230.4 352.8h0M1228.9 362.2h0M1230.5 204.7h0M1229.8 191.8h0M1230.4 393.9h0M1228.9 389.6h0M1229.4 420.8h0M1228.9 404.3h0M1228.9 439.2h0M1229.2 400.8h0M1228.8 384.8h0M1232.4 209.7h0M1231.5 214.8h0M1232.5 211.5h0M1230.6 237.0h0M1232.1 221.2h0M1232.1 207.5h0M1230.6 234.4h0M1231.4 346.3h0M1231.1 346.0h0M1231.4 355.2h0M1230.9 344.0h0M1231.6 340.0h0M1231.8 343.6h0M1231.1 365.2h0M1231.4 353.3h0M1230.9 358.4h0M1232.2 181.2h0M1231.8 199.1h0M1232.4 401.8h0M1233.5 216.2h0M1233.0 231.2h0M1234.0 204.6h0M1232.9 229.9h0M1234.0 216.1h0M1233.1 228.4h0M1232.7 230.6h0M1234.0 348.7h0M1233.8 198.9h0M1232.8 190.2h0M1234.4 392.1h0M1234.4 382.3h0M1236.1 232.0h0M1235.5 235.9h0M1234.9 228.0h0M1236.1 222.7h0M1235.1 217.8h0M1236.2 229.5h0M1236.0 215.5h0M1235.4 222.8h0M1234.5 226.3h0M1236.2 340.8h0M1234.6 345.8h0M1235.6 355.4h0M1236.2 174.6h0M1236.4 187.3h0M1234.6 155.7h0M1235.3 184.0h0M1234.7 450.1h0M1235.7 383.3h0M1234.8 398.8h0M1235.8 374.7h0M1237.1 228.5h0M1238.0 224.7h0M1238.3 226.5h0M1238.2 228.7h0M1238.4 344.8h0M1238.1 349.4h0M1237.3 340.7h0M1238.0 350.8h0M1236.6 370.6h0M1238.3 183.0h0M1236.5 182.7h0M1237.0 199.1h0M1237.8 176.5h0M1240.2 220.5h0M1239.0 214.9h0M1239.5 222.4h0M1239.4 224.5h0M1239.2 200.2h0M1239.3 226.6h0M1240.4 211.0h0M1239.1 205.9h0M1239.5 230.8h0M1238.9 224.6h0M1239.4 217.9h0M1238.8 375.7h0M1238.8 347.4h0M1239.1 341.1h0M1238.6 374.5h0M1239.4 358.0h0M1239.7 341.5h0M1239.2 405.8h0M1239.5 393.5h0M1239.6 391.5h0M1242.2 207.5h0M1241.3 229.4h0M1242.4 214.8h0M1240.5 210.0h0M1242.4 211.8h0M1240.7 213.8h0M1242.4 209.0h0M1240.9 228.1h0M1242.1 208.8h0M1242.3 232.7h0M1240.5 213.3h0M1241.9 373.3h0M1242.0 365.6h0M1242.0 369.3h0M1241.1 343.4h0M1241.9 165.6h0M1242.0 180.3h0M1241.9 180.7h0M1240.8 397.6h0M1244.0 224.8h0M1242.7 216.8h0M1242.8 205.7h0M1243.1 231.9h0M1242.9 200.4h0M1243.5 355.0h0M1244.1 355.9h0M1243.9 360.4h0M1243.1 369.3h0M1244.4 360.7h0M1243.9 353.7h0M1244.4 361.5h0M1243.8 367.9h0M1243.5 345.1h0M1242.7 373.1h0M1243.1 170.1h0M1243.2 187.3h0M1242.8 434.1h0M1245.8 219.3h0M1245.8 209.3h0M1245.2 233.1h0M1245.5 233.1h0M1244.6 212.4h0M1245.7 366.7h0M1246.1 342.9h0M1245.5 144.2h0M1247.7 224.6h0M1247.4 202.4h0M1248.1 228.3h0M1247.6 205.6h0M1247.9 228.9h0M1246.9 232.1h0M1247.7 221.2h0M1248.3 233.8h0M1247.0 221.4h0M1246.7 223.1h0M1248.4 373.3h0M1247.2 346.9h0M1247.2 373.1h0M1246.6 353.4h0M1247.8 358.4h0M1248.3 364.3h0M1248.0 359.9h0M1247.7 344.6h0M1247.9 359.8h0M1246.7 346.8h0M1248.2 362.4h0M1248.2 155.7h0M1247.8 412.7h0M1247.4 397.1h0M1247.7 385.4h0M1247.6 383.2h0M1249.1 209.1h0M1249.5 229.2h0M1249.1 210.8h0M1250.2 207.6h0M1249.7 203.6h0M1249.1 229.7h0M1249.4 360.4h0M1249.5 362.3h0M1249.8 375.5h0M1250.4 354.2h0M1249.4 360.0h0M1248.8 354.9h0M1250.3 359.6h0M1249.6 351.3h0M1249.9 352.9h0M1250.3 421.4h0M1251.5 221.8h0M1251.7 213.9h0M1250.8 208.6h0M1251.9 362.9h0M1251.8 369.3h0M1250.9 376.0h0M1251.2 348.9h0M1251.3 344.8h0M1252.9 200.3h0M1253.0 219.1h0M1253.7 232.3h0M1253.7 214.8h0M1254.2 209.5h0M1253.5 200.9h0M1254.2 372.5h0M1253.8 350.6h0M1253.2 351.1h0M1254.1 354.5h0M1253.2 380.0h0M1254.0 350.7h0M1254.3 371.9h0M1252.7 192.3h0M1252.9 175.2h0M1253.3 193.4h0M1253.1 393.2h0M1256.4 202.7h0M1254.6 221.2h0M1255.6 217.0h0M1256.2 224.9h0M1256.4 203.3h0M1255.7 206.5h0M1254.7 227.0h0M1256.1 221.0h0M1256.2 376.3h0M1255.6 361.8h0M1256.5 379.1h0M1254.9 355.6h0M1256.3 350.8h0M1255.6 347.2h0M1256.1 170.3h0M1256.4 196.7h0M1255.2 198.0h0M1256.8 224.7h0M1257.2 223.6h0M1258.2 218.4h0M1257.3 215.2h0M1257.4 220.8h0M1257.5 230.3h0M1258.2 235.1h0M1258.1 208.4h0M1258.4 219.4h0M1257.8 209.8h0M1257.7 355.5h0M1257.4 370.0h0M1257.0 361.7h0M1257.8 373.2h0M1258.4 346.7h0M1258.2 373.7h0M1257.7 365.9h0M1256.9 196.1h0M1257.6 194.3h0M1258.8 223.4h0M1258.9 221.6h0M1259.5 201.4h0M1258.7 208.9h0M1259.1 206.6h0M1258.6 205.6h0M1258.9 202.8h0M1259.0 349.6h0M1259.0 348.3h0M1260.3 357.4h0M1259.8 368.9h0M1260.2 379.6h0M1259.5 368.7h0M1258.8 386.4h0M1261.9 204.9h0M1261.6 229.8h0M1260.8 217.7h0M1260.9 210.0h0M1261.6 355.2h0M1261.5 358.8h0M1262.0 363.2h0M1262.1 345.9h0M1262.2 343.9h0M1261.5 359.2h0M1262.3 365.3h0M1261.7 345.8h0M1262.2 188.3h0M1262.3 168.9h0M1261.7 406.2h0M1262.4 427.7h0M1261.4 400.6h0M1263.3 236.5h0M1263.7 236.2h0M1262.5 223.9h0M1263.0 219.9h0M1262.8 208.9h0M1264.2 218.9h0M1263.5 233.8h0M1263.7 224.8h0M1263.5 346.5h0M1264.2 356.0h0M1264.0 348.3h0M1264.3 370.5h0M1262.6 375.4h0M1263.0 353.5h0M1264.2 400.2h0M1264.7 219.6h0M1265.2 216.9h0M1266.0 211.5h0M1265.6 216.4h0M1265.2 347.6h0M1265.4 357.1h0M1264.6 368.6h0M1264.9 374.2h0M1265.5 348.7h0M1265.0 342.8h0M1268.0 220.5h0M1268.2 208.0h0M1267.6 206.3h0M1268.3 208.5h0M1267.2 210.5h0M1268.0 207.2h0M1268.5 224.1h0M1266.7 342.8h0M1267.2 345.8h0M1266.7 194.0h0M1267.3 175.9h0M1268.3 442.0h0M1267.8 386.2h0M1267.0 393.4h0M1268.6 225.9h0M1270.0 222.5h0M1269.4 233.9h0M1268.9 213.0h0M1270.1 347.3h0M1269.2 343.4h0M1269.7 353.0h0M1268.7 181.1h0M1269.1 390.5h0M1269.1 392.4h0M1269.3 377.5h0M1268.9 402.4h0M1271.4 212.2h0M1271.7 215.9h0M1271.8 237.8h0M1270.9 223.6h0M1270.7 221.5h0M1271.0 215.4h0M1270.6 346.5h0M1271.2 362.9h0M1271.2 368.4h0M1271.8 355.6h0M1270.7 364.8h0M1271.4 338.7h0M1271.8 351.8h0M1271.2 344.1h0M1272.0 194.2h0M1272.0 165.6h0M1271.7 202.1h0M1272.0 166.4h0M1270.6 187.3h0M1271.3 429.0h0M1272.5 210.3h0M1272.6 239.0h0M1272.8 235.7h0M1272.6 228.6h0M1273.6 227.9h0M1273.6 234.9h0M1274.1 216.3h0M1274.1 219.9h0M1274.4 234.8h0M1274.3 211.1h0M1273.9 209.9h0M1272.7 224.7h0M1273.3 356.7h0M1273.1 361.3h0M1274.4 358.3h0M1273.0 359.8h0M1273.3 195.3h0M1272.8 160.7h0M1275.9 212.3h0M1274.9 337.1h0M1276.0 355.6h0M1274.8 209.1h0M1276.2 200.9h0M1275.4 179.9h0M1275.0 169.2h0M1276.1 186.0h0M1278.1 338.9h0M1277.4 364.9h0M1278.5 343.7h0M1277.8 208.7h0M1276.9 204.4h0M1277.1 199.0h0M1277.9 200.7h0M1277.7 434.9h0M1280.0 225.3h0M1278.8 226.0h0M1279.5 231.0h0M1279.8 212.8h0M1280.5 226.8h0M1279.3 228.6h0M1279.3 214.2h0M1279.1 239.8h0M1279.1 340.7h0M1280.0 339.2h0M1279.8 360.8h0M1280.0 341.1h0M1279.8 192.2h0M1279.1 207.3h0M1279.7 209.3h0M1280.2 382.3h0M1280.8 238.8h0M1280.6 238.9h0M1282.4 229.8h0M1281.5 237.7h0M1282.3 232.8h0M1281.6 239.7h0M1280.7 358.7h0M1282.4 345.1h0M1280.6 361.3h0M1280.7 359.3h0M1281.7 174.7h0M1281.7 174.8h0M1281.7 189.4h0M1281.4 402.1h0M1283.9 235.1h0M1283.2 213.7h0M1284.4 222.9h0M1282.9 224.1h0M1284.4 224.4h0M1283.7 338.2h0M1283.3 341.2h0M1282.6 339.0h0M1282.9 346.8h0M1282.7 357.9h0M1283.2 360.2h0M1282.9 341.3h0M1283.9 338.8h0M1284.4 201.3h0M1282.6 206.7h0M1282.6 196.8h0M1283.2 381.6h0M1284.2 382.5h0M1283.0 416.5h0M1284.7 229.2h0M1284.7 225.7h0M1285.6 220.7h0M1285.0 237.8h0M1284.7 234.8h0M1284.7 229.2h0M1285.2 236.0h0M1285.4 211.9h0M1286.1 219.2h0M1284.9 344.4h0M1286.2 333.9h0M1286.1 338.9h0M1284.7 345.3h0M1284.6 352.8h0M1284.7 339.4h0M1286.2 183.3h0M1286.5 217.6h0M1287.6 211.6h0M1288.4 231.1h0M1286.7 238.3h0M1288.0 343.3h0M1287.0 348.6h0M1287.0 351.4h0M1287.0 193.4h0M1287.2 171.5h0M1289.0 215.8h0M1289.9 234.3h0M1288.6 214.2h0M1290.2 239.0h0M1290.0 234.6h0M1289.8 217.6h0M1289.2 356.8h0M1290.1 342.5h0M1288.6 337.7h0M1290.0 352.2h0M1289.2 333.4h0M1288.7 341.1h0M1289.7 191.4h0M1288.7 178.0h0M1289.9 388.7h0M1290.6 233.9h0M1290.6 217.7h0M1292.0 339.2h0M1290.9 357.0h0M1290.6 344.4h0M1291.3 349.6h0M1292.4 335.4h0M1292.3 345.2h0M1291.0 341.4h0M1291.9 431.7h0M1292.4 372.3h0M1294.2 235.2h0M1292.6 230.9h0M1293.6 231.8h0M1293.6 222.0h0M1294.3 222.0h0M1293.2 350.1h0M1293.7 359.2h0M1293.5 334.2h0M1293.2 338.2h0M1294.4 338.7h0M1294.1 339.7h0M1292.8 335.7h0M1293.1 409.2h0M1294.2 376.8h0M1293.2 367.7h0M1295.9 234.8h0M1295.2 234.4h0M1295.2 228.2h0M1295.6 344.0h0M1296.0 341.7h0M1296.2 334.6h0M1295.9 359.6h0M1294.6 344.7h0M1296.0 155.2h0M1295.1 384.8h0M1294.7 400.0h0M1297.4 212.4h0M1298.5 222.4h0M1297.3 226.8h0M1297.2 212.1h0M1297.2 236.2h0M1297.2 216.7h0M1297.4 220.2h0M1297.3 339.5h0M1296.9 331.4h0M1297.1 360.4h0M1298.3 343.4h0M1298.4 356.3h0M1297.6 380.3h0M1298.1 376.5h0M1299.3 232.2h0M1299.3 235.5h0M1300.1 234.6h0M1300.4 335.2h0M1299.6 339.8h0M1298.5 338.5h0M1299.7 173.8h0M1299.3 172.3h0M1299.9 193.9h0M1300.4 205.4h0M1299.9 165.6h0M1299.5 192.9h0M1300.3 196.2h0M1299.6 403.3h0M1300.5 420.6h0M1298.5 387.6h0M1299.1 376.1h0M1302.4 231.9h0M1302.1 239.0h0M1302.1 226.4h0M1301.6 237.1h0M1302.4 234.8h0M1301.5 342.6h0M1301.9 356.8h0M1301.0 210.8h0M1301.2 186.0h0M1302.3 166.5h0M1301.4 403.9h0M1301.5 396.8h0M1303.7 239.9h0M1302.9 218.2h0M1302.9 213.9h0M1304.3 234.7h0M1304.1 240.7h0M1303.4 352.9h0M1302.9 346.5h0M1303.2 352.4h0M1303.5 334.3h0M1303.6 341.0h0M1302.9 346.5h0M1302.8 205.4h0M1303.0 166.6h0M1302.7 196.6h0M1302.5 186.7h0M1304.3 152.2h0M1304.1 208.4h0M1303.5 162.7h0M1304.0 201.7h0M1303.6 371.7h0M1306.3 233.0h0M1306.4 232.3h0M1305.4 227.7h0M1304.7 226.1h0M1304.7 229.3h0M1306.3 217.1h0M1304.6 228.7h0M1304.6 360.0h0M1306.1 340.8h0M1305.5 332.3h0M1304.9 332.2h0M1305.4 207.7h0M1304.8 185.2h0M1306.3 403.3h0M1308.0 240.8h0M1308.2 223.8h0M1307.4 239.8h0M1308.1 231.3h0M1307.7 231.7h0M1307.1 233.4h0M1308.5 236.1h0M1307.0 226.8h0M1307.9 234.8h0M1308.1 339.1h0M1307.4 333.2h0M1306.9 344.9h0M1307.3 333.4h0M1308.3 338.7h0M1306.9 204.6h0M1307.7 183.5h0M1307.1 211.1h0M1308.1 204.6h0M1308.6 235.3h0M1310.3 224.6h0M1309.6 231.9h0M1309.4 242.3h0M1309.0 217.5h0M1310.3 332.4h0M1310.1 334.5h0M1309.9 341.7h0M1308.6 348.8h0M1310.0 337.4h0M1308.8 346.2h0M1310.2 196.3h0M1309.0 194.3h0M1312.5 233.6h0M1310.8 228.4h0M1311.4 336.0h0M1312.2 333.6h0M1311.2 339.3h0M1311.2 342.7h0M1310.8 345.0h0M1310.7 335.3h0M1312.1 345.5h0M1311.0 353.7h0M1311.6 358.0h0M1312.3 354.5h0M1311.3 179.3h0M1312.9 239.6h0M1313.0 239.0h0M1312.8 242.1h0M1312.6 215.6h0M1312.5 232.6h0M1313.3 224.6h0M1312.9 342.3h0M1313.5 354.1h0M1313.9 335.7h0M1313.7 342.5h0M1312.7 353.2h0M1312.8 343.3h0M1312.7 346.2h0M1313.6 334.0h0M1313.4 340.6h0M1314.1 362.1h0M1315.9 239.7h0M1314.8 219.9h0M1314.9 243.9h0M1315.1 218.9h0M1316.0 241.5h0M1315.6 338.2h0M1316.0 357.2h0M1315.6 349.0h0M1314.9 355.0h0M1314.8 337.5h0M1315.2 214.0h0M1315.3 412.3h0M1316.7 221.3h0M1316.8 226.6h0M1316.6 222.6h0M1318.3 333.9h0M1316.9 350.2h0M1317.8 334.9h0M1318.3 361.2h0M1317.3 345.5h0M1317.5 365.1h0M1320.1 242.0h0M1319.0 221.2h0M1319.1 239.8h0M1318.7 240.9h0M1318.9 241.8h0M1318.5 340.4h0M1318.9 339.8h0M1319.8 217.4h0M1318.9 197.3h0M1320.3 362.1h0M1319.6 378.8h0M1319.7 381.8h0M1322.1 245.8h0M1321.8 233.3h0M1322.4 230.4h0M1321.5 242.2h0M1321.6 236.7h0M1321.5 236.4h0M1322.1 237.9h0M1321.8 245.6h0M1320.9 238.8h0M1322.0 335.0h0M1320.9 347.6h0M1321.7 343.3h0M1322.5 342.4h0M1322.0 217.6h0M1321.1 371.8h0M1322.5 369.0h0M1324.3 232.7h0M1323.9 226.8h0M1323.0 224.2h0M1324.3 354.0h0M1322.6 348.1h0M1322.8 342.1h0M1323.1 335.4h0M1324.1 354.5h0M1322.5 345.5h0M1323.5 336.2h0M1323.2 356.5h0M1325.4 241.7h0M1325.4 228.5h0M1325.8 244.6h0M1324.7 229.5h0M1325.2 345.3h0M1325.9 354.1h0M1325.9 335.5h0M1324.5 350.7h0M1324.9 196.9h0M1325.1 216.0h0M1327.8 239.8h0M1327.5 237.6h0M1326.9 238.9h0M1327.5 352.0h0M1327.0 350.7h0M1326.7 193.0h0M1326.9 390.8h0M1330.5 241.8h0M1329.5 247.2h0M1330.5 232.9h0M1329.4 244.9h0M1328.9 248.0h0M1330.3 239.7h0M1329.4 351.2h0M1330.4 338.0h0M1329.4 349.5h0M1329.8 364.2h0M1330.3 379.7h0M1331.0 242.4h0M1331.4 240.1h0M1330.7 358.8h0M1330.7 359.0h0M1332.4 353.6h0M1332.6 240.4h0M1333.3 340.7h0M1332.9 344.1h0M1334.0 355.1h0M1332.9 339.8h0M1334.0 340.0h0M1333.0 351.1h0M1334.2 348.1h0M1332.6 368.4h0M1335.6 239.1h0M1334.8 220.7h0M1336.0 358.1h0M1334.9 364.2h0M1336.6 238.4h0M1336.9 241.2h0M1336.7 248.3h0M1338.2 355.5h0M1336.9 339.2h0M1336.9 337.6h0M1336.5 346.5h0M1337.8 232.3h0M1337.6 226.6h0M1337.5 221.5h0M1338.5 243.4h0M1339.3 251.8h0M1340.5 243.0h0M1338.7 339.6h0M1340.2 345.5h0M1340.3 353.9h0M1339.4 346.5h0M1340.0 342.4h0M1340.1 337.6h0M1340.2 357.7h0M1340.6 254.6h0M1342.1 254.0h0M1341.6 339.4h0M1342.5 351.3h0M1341.3 338.1h0M1341.1 362.9h0M1344.3 247.3h0M1343.7 248.5h0M1343.8 259.2h0M1344.3 259.3h0M1343.0 343.5h0M1343.9 347.9h0M1342.5 347.7h0M1342.8 343.1h0M1343.0 226.9h0M1343.9 360.5h0M1345.2 255.3h0M1345.4 261.3h0M1345.8 255.7h0M1345.8 263.1h0M1346.3 342.2h0M1345.6 349.0h0M1345.7 343.4h0M1344.9 337.2h0M1345.9 238.5h0M1345.0 241.8h0M1346.2 353.6h0M1348.3 263.2h0M1348.4 260.2h0M1348.4 348.4h0M1347.4 347.9h0M1348.2 344.0h0M1347.8 353.5h0M1349.6 252.4h0M1348.6 255.8h0M1349.7 255.0h0M1348.7 262.5h0M1350.4 256.3h0M1350.2 341.9h0M1349.6 344.6h0M1349.1 345.9h0M1350.4 247.8h0M1352.1 251.3h0M1351.4 345.2h0M1352.3 235.3h0M1351.1 235.6h0M1351.6 360.6h0M1353.4 255.8h0M1353.1 349.9h0M1352.7 341.9h0M1354.2 346.9h0M1352.8 342.3h0M1354.0 350.5h0M1353.4 240.4h0M1353.4 230.3h0M1353.0 366.0h0M1354.6 261.2h0M1354.6 259.7h0M1355.6 340.3h0M1354.6 340.6h0M1354.5 244.4h0M1356.9 252.7h0M1358.2 341.3h0M1357.0 243.5h0M1357.2 235.8h0M1357.4 243.0h0M1356.5 353.0h0M1357.0 363.4h0M1358.0 354.3h0M1358.7 253.1h0M1359.1 346.2h0M1360.2 249.2h0M1359.8 217.9h0M1359.0 243.1h0M1359.7 232.9h0M1359.7 372.1h0M1360.7 258.2h0M1362.4 260.4h0M1362.0 256.8h0M1361.6 255.7h0M1360.9 350.4h0M1360.6 360.2h0M1363.6 253.8h0M1363.9 252.2h0M1363.2 258.0h0M1364.1 228.2h0M1364.4 233.9h0M1363.0 247.3h0M1362.9 226.7h0M1364.5 247.7h0M1366.1 255.3h0M1366.2 351.6h0M1366.1 358.3h0M1367.8 251.1h0M1367.1 257.8h0M1368.1 254.5h0M1368.1 350.1h0M1366.9 350.2h0M1366.6 238.8h0M1370.3 341.2h0M1371.8 260.4h0M1371.1 251.2h0M1372.1 257.7h0M1371.0 345.0h0M1371.2 347.8h0M1373.3 253.4h0M1372.9 256.1h0M1372.7 344.6h0M1373.0 217.0h0M1372.8 243.4h0M1372.7 243.4h0M1376.1 256.4h0M1376.3 255.9h0M1375.7 260.3h0M1374.6 259.7h0M1374.9 346.1h0M1375.1 240.6h0M1375.1 234.6h0M1375.8 358.2h0M1374.9 355.1h0M1377.3 247.0h0M1380.0 252.1h0M1378.6 257.5h0M1380.3 347.1h0M1379.1 343.5h0M1380.0 249.1h0M1380.2 355.5h0M1380.8 252.0h0M1380.5 257.4h0M1381.3 350.4h0M1381.8 250.1h0M1381.8 232.0h0M1383.1 258.5h0M1384.4 255.6h0M1382.8 257.3h0M1383.4 344.1h0M1382.7 345.6h0M1384.4 345.6h0M1382.8 350.9h0M1387.5 256.9h0M1387.9 349.5h0M1387.1 216.0h0M1389.2 255.4h0M1389.3 347.1h0M1389.3 347.9h0M1389.0 344.4h0M1389.9 344.1h0M1389.7 243.5h0M1390.2 230.2h0M1390.9 252.9h0M1392.7 256.7h0M1394.3 255.4h0M1393.6 256.1h0M1393.4 343.3h0M1393.9 342.4h0M1394.1 348.2h0M1392.6 225.7h0M1394.0 245.8h0M1393.5 212.3h0M1395.2 345.2h0M1395.3 345.2h0M1395.7 348.1h0M1394.7 243.4h0M1395.9 230.3h0M1396.8 260.3h0M1396.6 259.5h0M1397.3 344.3h0M1398.3 240.6h0M1397.4 238.9h0M1397.3 354.2h0M1399.6 344.4h0M1398.6 342.7h0M1399.3 353.0h0M1400.9 252.8h0M1401.5 257.6h0M1401.4 258.9h0M1401.1 341.1h0M1401.9 350.7h0M1400.9 243.2h0M1402.1 227.1h0M1402.9 256.3h0M1403.3 252.9h0M1403.2 346.7h0M1404.4 346.1h0M1403.1 364.2h0M1405.5 256.0h0M1405.2 256.4h0M1405.0 253.2h0M1406.1 342.0h0M1405.8 217.8h0M1406.1 248.7h0M1406.0 243.7h0M1404.5 214.5h0M1407.1 254.6h0M1408.5 258.5h0M1406.6 342.4h0M1407.9 348.2h0M1406.8 245.1h0M1409.4 251.8h0M1409.1 259.9h0M1410.2 252.6h0M1408.6 254.6h0M1409.2 254.9h0M1409.3 254.4h0M1409.8 341.2h0M1409.4 346.4h0M1410.2 247.3h0M1410.2 228.5h0M1411.2 258.6h0M1412.0 259.2h0M1411.3 249.1h0M1411.3 243.9h0M1411.2 248.5h0M1411.9 242.2h0M1411.5 232.6h0M1412.3 247.8h0M1412.0 370.7h0M1411.2 351.8h0M1412.6 242.4h0M1414.1 243.1h0M1413.6 226.6h0M1413.1 247.6h0M1414.5 252.9h0M1416.3 252.0h0M1415.7 346.2h0M1417.8 347.6h0M1418.3 347.2h0M1417.5 246.6h0M1420.1 341.5h0M1420.0 356.9h0M1419.3 350.8h0M1421.0 345.9h0M1421.8 346.6h0M1420.7 236.4h0M1420.9 365.6h0M1422.4 351.3h0M1422.0 355.4h0M1423.8 256.1h0M1424.3 343.0h0M1422.5 341.2h0M1422.6 225.2h0M1422.6 229.8h0M1423.0 248.2h0M1423.4 237.6h0M1423.3 237.6h0M1423.5 244.4h0M1423.9 249.0h0M1425.6 253.5h0M1425.0 258.2h0M1426.1 255.7h0M1424.7 348.5h0M1426.1 220.3h0M1425.4 245.1h0M1425.4 240.8h0M1424.8 246.0h0M1426.3 242.2h0M1426.2 241.8h0M1425.6 354.9h0M1427.5 342.9h0M1427.7 345.3h0M1427.8 243.8h0M1427.7 244.8h0M1428.4 220.7h0M1427.7 363.2h0M1429.6 251.6h0M1430.4 257.3h0M1429.0 259.8h0M1430.0 343.1h0M1429.7 345.4h0M1430.0 364.2h0M1428.8 357.3h0M1431.0 255.3h0M1430.9 342.7h0M1431.9 249.5h0M1431.1 239.1h0M1431.9 359.5h0M1432.6 250.7h0M1433.9 254.1h0M1433.9 344.1h0M1433.9 341.7h0M1433.9 346.3h0M1432.8 341.6h0M1433.9 238.5h0M1433.2 357.4h0M1434.9 253.1h0M1435.1 258.3h0M1435.8 252.5h0M1435.7 257.7h0M1436.3 257.0h0M1434.9 341.6h0M1435.0 341.2h0M1435.5 352.2h0M1437.0 251.7h0M1437.6 254.4h0M1437.3 340.8h0M1438.3 355.0h0M1440.3 256.8h0M1439.5 259.1h0M1440.4 343.5h0M1440.3 340.8h0M1440.3 231.7h0M1439.8 368.3h0M1441.4 257.7h0M1441.8 252.4h0M1444.2 258.2h0M1444.4 260.0h0M1443.1 343.7h0M1444.0 340.9h0M1444.8 258.4h0M1446.3 259.1h0M1446.4 253.1h0M1445.2 246.3h0M1447.8 342.1h0M1447.5 349.8h0M1447.9 358.1h0M1449.0 255.3h0M1449.7 346.2h0M1449.5 246.6h0M1449.3 235.6h0M1450.8 258.0h0M1452.2 242.8h0M1451.5 236.8h0M1453.2 350.4h0M1454.0 340.8h0M1453.6 342.1h0M1455.5 257.9h0M1456.4 346.4h0M1454.5 346.7h0M1456.4 231.0h0M1455.7 353.3h0M1457.0 256.9h0M1457.0 253.1h0M1457.9 253.8h0M1457.4 349.7h0M1458.0 346.3h0M1456.8 342.2h0M1457.2 243.0h0M1457.5 358.0h0M1459.6 259.5h0M1458.7 258.7h0M1458.9 346.8h0M1460.2 246.8h0M1460.3 244.2h0M1459.1 244.9h0M1458.9 354.3h0M1459.0 366.6h0M1462.4 256.1h0M1462.2 253.2h0M1461.9 254.6h0M1462.0 345.7h0M1462.4 354.2h0M1462.1 365.8h0M1460.9 357.9h0M1462.5 367.0h0M1460.6 356.0h0" fill="none" stroke="#1f77b4" stroke-width="5.4" stroke-linecap="round"/><polyline points="116.5,295.0 118.8,312.5 120.4,305.6 122.1,303.3 123.8,297.5 125.3,301.5 126.9,310.5 128.4,312.6 130.0,320.0 131.6,317.3 133.1,309.1 134.7,309.2 136.2,302.5 137.5,307.1 138.8,315.0 140.0,305.2 141.2,291.2 143.1,292.4 145.0,297.5 146.9,307.5 148.8,312.5 150.4,310.1 152.1,312.8 153.8,310.0 155.3,310.5 156.9,316.7 158.4,316.2 160.0,320.0 161.9,315.9 163.8,310.0 165.3,305.5 166.9,305.8 168.4,300.5 170.0,298.8 171.9,308.1 173.8,312.5 175.4,307.8 177.1,307.3 178.8,302.5 180.4,304.6 182.1,312.9 183.8,316.2 185.6,308.4 187.5,302.5 189.4,309.8 191.2,315.0 193.1,306.5 195.0,302.5 196.9,312.1 198.8,317.5 200.3,315.1 201.9,315.5 203.4,311.9 205.0,311.2 206.9,324.3 208.8,333.8 210.6,317.0 212.5,305.0 214.2,302.5 215.8,296.1 217.5,295.0 219.1,294.5 220.6,288.2 222.2,288.7 223.8,285.0 225.4,285.6 227.1,291.7 228.8,292.5 230.4,290.9 232.1,295.3 233.8,295.0 235.4,289.8 237.1,288.2 238.8,282.5 240.2,281.3 241.8,283.4 243.2,279.9 244.8,283.3 246.2,281.2 247.8,279.3 249.2,283.8 250.8,279.8 252.2,283.2 253.8,282.5 255.3,282.2 256.9,286.4 258.4,283.2 260.0,286.2 261.5,286.2 263.0,281.8 264.5,282.7 266.0,277.4 267.5,277.5 269.2,283.3 270.8,283.5 272.5,290.0 274.0,289.9 275.5,286.3 277.0,288.9 278.5,284.1 280.0,285.0 281.6,285.5 283.1,280.3 284.7,281.1 286.2,277.5 288.1,281.1 290.0,287.5 291.7,285.4 293.3,280.8 295.0,278.8 296.6,286.2 298.1,289.3 299.7,299.2 301.2,303.8 302.8,299.5 304.4,298.6 305.9,291.5 307.5,290.0 309.2,293.3 310.8,290.4 312.5,292.5 314.2,291.8 315.8,285.3 317.5,285.0 319.0,282.8 320.5,276.1 322.0,275.5 323.5,268.2 325.0,266.2 326.7,268.8 328.3,267.8 330.0,270.0 331.7,275.5 333.3,277.1 335.0,282.5 336.5,285.2 338.0,284.5 339.5,288.4 341.0,286.9 342.5,290.0 344.2,295.6 345.8,295.8 347.5,302.6 349.2,303.2 350.8,311.1 352.5,312.5 354.4,303.9 356.2,300.0 357.5,313.8 359.0,312.1 360.5,304.1 362.0,304.4 363.5,296.9 365.0,295.0 366.6,293.3 368.1,284.9 369.7,285.2 371.2,278.8 372.8,278.4 374.2,280.8 375.8,279.5 377.2,282.6 378.8,281.2 380.3,280.6 381.9,284.5 383.4,282.2 385.0,285.0 386.5,288.0 388.0,285.0 389.5,288.4 391.0,285.7 392.5,288.8 394.2,288.3 396.0,284.9 397.8,286.1 399.5,283.0 401.2,282.5 403.1,288.3 405.0,290.0 406.8,290.1 408.5,294.6 410.2,292.8 412.0,297.0 413.8,297.5 415.3,294.8 416.9,296.1 418.4,290.1 420.0,290.0 421.6,290.6 423.1,285.7 424.7,286.7 426.2,283.8 428.0,283.0 429.8,286.0 431.5,282.8 433.2,287.4 435.0,286.2 436.6,283.9 438.2,285.1 439.8,280.7 441.4,282.3 443.0,277.9 444.6,279.2 446.2,276.2 447.5,280.1 448.8,286.2 450.3,287.5 451.9,282.4 453.4,284.3 455.0,282.5 456.7,279.8 458.3,281.2 460.0,277.5 461.6,271.1 463.1,270.5 464.7,262.0 466.2,258.8 467.8,263.4 469.4,261.8 470.9,266.5 472.5,267.5 474.0,268.1 475.5,274.0 477.0,273.4 478.5,279.2 480.0,280.0 481.6,279.7 483.2,283.6 484.8,281.0 486.4,286.0 488.0,282.1 489.6,287.0 491.2,286.2 492.8,282.2 494.4,283.7 495.9,278.1 497.5,277.5 499.4,277.1 501.2,273.8 503.1,277.3 505.0,285.0 506.8,285.9 508.5,283.3 510.2,285.7 512.0,281.6 513.8,283.8 515.3,286.1 516.9,283.7 518.4,288.9 520.0,287.5 521.6,286.3 523.1,291.4 524.7,290.0 526.2,292.5 528.0,291.8 529.8,287.5 531.5,290.1 533.2,285.5 535.0,285.0 536.5,287.4 538.0,282.7 539.5,287.0 541.0,283.0 542.5,285.0 544.2,285.9 545.8,282.4 547.5,285.5 549.2,282.1 550.8,284.1 552.5,282.5 554.1,281.4 555.6,284.7 557.2,282.6 558.8,286.8 560.3,283.6 561.9,287.8 563.4,283.8 565.0,286.2 566.7,287.0 568.3,284.3 570.0,285.0 571.5,285.1 573.0,281.7 574.5,282.9 576.0,279.5 577.5,280.0 579.0,282.4 580.5,279.6 582.0,284.6 583.5,281.8 585.0,283.8 586.7,285.7 588.3,281.3 590.0,283.9 591.7,281.3 593.3,283.2 595.0,281.2 596.7,280.1 598.3,283.1 600.0,280.8 601.7,283.6 603.3,281.3 605.0,282.5 606.7,284.0 608.3,279.5 610.0,283.3 611.7,279.5 613.3,282.4 615.0,280.0 616.2,281.2 617.5,286.2 619.0,287.1 620.5,282.4 622.0,286.1 623.5,281.0 625.0,282.5 626.7,284.2 628.3,282.1 630.0,284.3 631.7,281.2 633.3,285.0 635.0,283.8 636.5,282.9 638.0,286.3 639.5,283.0 641.0,287.5 642.5,286.2 644.0,284.6 645.5,285.9 647.0,282.3 648.5,284.0 650.0,282.5 651.6,278.5 653.1,281.6 654.7,275.3 656.2,276.2 657.8,279.6 659.4,276.6 660.9,281.7 662.5,280.0 664.2,275.5 665.8,274.4 667.5,270.0 669.2,261.5 670.8,258.0 672.5,250.0 674.2,243.5 675.8,244.2 677.5,237.5 679.2,240.4 680.8,251.0 682.5,255.0 684.2,249.4 685.8,251.1 687.5,245.0 689.1,244.1 690.6,246.0 692.2,243.7 693.8,245.0 695.6,253.2 697.5,257.5 699.2,249.6 700.8,246.4 702.5,237.5 704.2,241.6 705.8,249.8 707.5,252.5 709.2,248.2 710.8,250.6 712.5,247.5 714.2,240.4 715.8,238.9 717.5,231.2 719.2,231.7 720.8,239.0 722.5,240.0 724.2,239.4 725.8,245.5 727.5,245.0 729.2,245.9 730.8,251.0 732.5,252.5 734.1,251.1 735.6,258.6 737.2,256.0 738.8,258.8 740.4,256.2 742.1,249.4 743.8,247.5 745.4,251.6 747.1,250.8 748.8,255.0 750.4,256.0 752.1,250.2 753.8,250.0 755.4,255.1 757.1,256.1 758.8,262.5 760.4,259.6 762.1,248.3 763.8,245.0 765.3,249.4 766.9,247.2 768.4,254.2 770.0,255.0 771.7,253.5 773.3,257.9 775.0,256.2 776.7,256.8 778.3,264.0 780.0,265.0 781.9,251.6 783.8,240.0 785.6,248.8 787.5,255.0 789.2,250.6 790.8,253.0 792.5,250.0 794.4,241.7 796.2,237.5 798.1,254.3 800.0,268.8 801.7,265.5 803.3,265.8 805.0,262.5 806.7,263.6 808.3,270.3 810.0,270.0 811.9,257.2 813.8,250.0 815.4,263.6 817.1,268.9 818.8,282.5 820.4,278.5 822.1,269.1 823.8,265.0 825.3,268.3 826.9,263.9 828.4,270.5 830.0,268.8 831.2,274.4 832.5,283.8 834.2,282.7 835.8,275.5 837.5,277.8 839.1,270.2 840.8,270.3 842.3,273.7 843.8,271.5 845.4,278.4 846.9,276.4 848.4,280.6 850.0,278.9 851.5,282.8 853.0,281.8 854.6,276.1 856.1,278.0 857.7,271.4 859.2,273.6 860.7,267.7 862.3,266.7 864.1,272.0 865.8,273.3 867.6,280.2 869.4,282.8 871.2,278.1 873.0,279.9 874.8,273.9 876.6,272.1 878.4,277.7 880.2,275.8 882.0,285.0 883.8,284.6 885.3,279.9 886.8,286.7 888.4,280.7 889.9,287.8 891.5,278.9 893.0,284.9 894.5,282.8 896.1,281.1 897.7,285.4 899.3,279.7 900.9,286.1 902.5,280.5 904.1,286.4 905.7,282.7 907.3,287.4 908.9,284.6 910.4,282.4 911.9,289.2 913.3,284.2 914.8,290.2 916.3,286.1 917.8,288.2 919.6,286.5 921.4,279.4 923.2,283.1 925.0,275.7 926.8,269.9 928.6,274.8 930.4,268.5 932.2,269.0 934.0,281.2 935.8,277.8 937.5,286.4 939.3,287.5 941.1,281.5 942.9,286.0 944.7,282.8 946.2,280.4 947.7,284.8 949.2,280.2 950.7,288.3 952.2,281.6 953.7,284.6 955.5,286.5 957.3,278.2 959.1,279.2 960.8,283.6 962.6,280.4 964.4,288.8 966.2,286.4 968.0,282.9 969.8,289.7 971.6,286.4 973.4,288.2 974.9,290.3 976.5,283.0 978.0,286.9 979.5,279.1 981.1,283.6 982.6,275.1 984.2,277.5 985.7,280.2 987.2,278.0 988.8,283.3 990.3,278.7 991.8,285.7 993.4,282.0 994.9,286.4 996.4,289.9 998.0,283.6 999.5,290.0 1001.1,282.9 1002.6,289.6 1004.1,282.7 1005.7,284.6 1007.2,288.2 1008.7,279.9 1010.3,286.1 1011.8,280.5 1013.3,284.6 1014.9,280.0 1016.4,281.0 1017.9,284.2 1019.4,276.4 1020.9,280.1 1022.4,275.8 1023.9,279.1 1025.4,275.7 1026.9,275.9 1028.4,285.6 1029.9,284.0 1031.4,292.8 1032.8,290.2 1034.3,295.4 1036.1,292.9 1037.9,278.8 1039.7,275.7 1041.2,279.4 1042.7,276.1 1044.2,283.8 1045.7,280.4 1047.2,290.4 1048.7,288.2 1050.5,286.1 1052.3,293.2 1054.1,289.9 1055.8,295.4 1057.3,294.1 1058.8,287.1 1060.3,289.5 1061.8,282.8 1063.3,283.8 1064.8,279.2 1066.6,280.9 1068.4,295.2 1070.2,297.2 1072.0,292.2 1073.8,291.4 1075.6,284.3 1077.4,282.8 1078.9,282.0 1080.5,273.8 1082.1,276.0 1083.7,267.9 1085.2,266.7 1087.4,300.8 1089.0,300.3 1090.6,289.1 1092.1,290.8 1093.7,280.8 1095.3,281.0 1096.8,285.7 1098.4,279.2 1099.9,287.5 1101.4,280.8 1103.0,288.4 1104.5,283.3 1106.0,286.4 1107.6,288.1 1109.1,282.7 1110.6,286.4 1112.2,278.8 1113.7,284.9 1115.3,278.5 1116.8,279.2 1118.6,285.8 1120.4,280.7 1122.2,290.9 1124.0,290.0 1125.6,286.7 1127.3,291.6 1128.9,285.2 1130.6,290.2 1132.2,284.1 1133.9,291.7 1135.5,284.0 1137.2,286.3 1139.0,289.5 1140.7,279.6 1142.5,282.7 1144.3,289.1 1146.1,290.3 1147.9,300.6 1149.7,300.6 1151.5,290.9 1153.3,287.5 1155.1,275.6 1156.9,282.4 1158.7,296.3 1160.5,300.6 1162.2,290.0 1164.0,290.3 1165.8,279.1 1167.6,278.9 1169.4,289.2 1171.2,287.5 1173.0,295.3 1174.8,295.0 1176.6,284.9 1178.4,287.1 1180.2,280.9 1181.9,279.1 1183.7,286.3 1185.5,284.9 1187.3,288.1 1188.8,290.8 1190.3,282.0 1191.8,287.1 1193.3,282.7 1194.8,285.4 1196.3,282.7 1198.1,282.8 1199.9,290.5 1201.7,289.9 1203.1,287.1 1204.6,289.5 1206.1,284.1 1207.6,287.5 1209.1,279.8 1210.6,282.7 1212.1,287.2 1213.7,284.0 1215.2,292.7 1216.8,288.9 1218.3,295.4 1219.8,292.8 1221.4,297.0 1223.2,294.1 1224.9,284.6 1226.7,282.7 1228.3,284.7 1229.8,279.9 1231.3,286.1 1232.9,282.8 1234.4,288.9 1235.9,284.1 1237.5,286.3 1239.0,284.6 1240.5,276.2 1242.0,279.8 1243.5,268.1 1244.9,272.3 1246.4,264.8 1248.2,272.1 1250.0,288.8 1251.8,295.3 1253.6,290.3 1255.4,294.5 1257.2,286.8 1259.0,286.3 1260.5,283.7 1262.1,270.9 1263.6,266.6 1264.9,294.7 1266.1,315.0 1267.9,301.9 1269.7,299.1 1271.5,288.1 1273.1,283.9 1274.7,289.3 1276.2,283.1 1277.8,288.8 1279.4,283.5 1280.9,289.9 1282.5,282.2 1284.1,286.3 1285.8,292.6 1287.6,289.5 1289.4,293.5 1290.9,294.0 1292.4,285.9 1293.9,289.6 1295.4,283.9 1296.9,286.5 1298.4,282.7 1299.9,278.8 1301.4,283.8 1302.9,277.2 1304.4,282.4 1305.9,275.7 1307.3,279.1 1309.1,286.4 1310.9,287.3 1312.7,293.5 1314.3,292.9 1315.8,283.7 1317.3,288.7 1318.9,277.9 1320.4,282.1 1321.9,271.7 1323.5,272.0 1325.3,278.9 1327.0,281.2 1328.8,290.6 1330.6,293.5 1332.4,288.9 1334.2,292.9 1336.0,285.1 1337.8,286.3 1339.3,290.6 1340.9,283.3 1342.4,290.4 1343.9,283.5 1345.5,290.3 1347.0,282.1 1348.5,286.3 1350.3,291.8 1352.1,288.1 1353.9,296.5 1355.7,295.3 1357.2,291.3 1358.8,294.9 1360.3,289.9 1361.9,291.7 1363.4,285.8 1364.9,290.6 1366.5,286.3 1368.1,282.1 1369.6,290.6 1371.2,283.8 1372.8,288.8 1374.4,283.6 1376.0,290.3 1377.6,285.4 1379.2,291.1 1380.8,288.1 1382.3,284.9 1383.9,290.2 1385.4,284.4 1386.9,288.7 1388.5,283.4 1390.0,288.3 1391.5,286.3 1393.1,282.4 1394.6,288.5 1396.1,284.0 1397.7,287.7 1399.2,280.9 1400.8,287.9 1402.3,284.5 1403.9,283.4 1405.5,289.1 1407.1,283.1 1408.7,287.5 1410.2,283.6 1411.8,288.3 1413.4,284.2 1415.0,290.4 1416.6,288.1 1418.2,284.5 1419.8,291.0 1421.4,286.6 1423.0,294.9 1424.6,288.4 1426.2,293.9 1427.8,289.0 1429.4,294.4 1430.9,293.5 1432.5,288.0 1434.0,294.9 1435.6,286.4 1437.1,292.9 1438.6,285.4 1440.2,289.3 1441.7,286.3 1443.2,282.1 1444.8,291.2 1446.3,284.1 1447.8,291.4 1449.4,284.0 1450.9,291.5 1452.4,288.1 1453.9,285.6 1455.4,292.6 1456.9,289.1 1458.4,295.8 1459.9,293.4 1461.4,297.0 1463.0,298.7 1464.5,292.5 1466.1,298.7 1467.7,292.5 1469.2,297.7 1470.8,291.2 1472.4,298.4 1473.9,293.5" fill="none" stroke="#ff7f0e" stroke-width="2.1" stroke-linejoin="round"/></g><rect x="1047.7" y="48.6" width="406" height="79.8" rx="3" ry="3" fill="#fff" fill-opacity="0.8" stroke="#cccccc" stroke-width="1.1"/><circle cx="1073.3" cy="63.30" r="2.8" fill="#1f77b4"/><path d="M1053.2 101.80H1091.7" stroke="#ff7f0e" stroke-width="2.1"/><rect x="116.5" y="38.5" width="1346.0" height="480.0" fill="none" stroke="#000" stroke-width="1.15"/><path d="M116.50 518.5v5M284.50 518.5v5M452.50 518.5v5M621.50 518.5v5M789.50 518.5v5M957.50 518.5v5M1126.50 518.5v5M1294.50 518.5v5M116.5 113.50h-5M116.5 199.50h-5M116.5 285.50h-5M116.5 371.50h-5M116.5 457.50h-5" stroke="#000" stroke-width="1.15" fill="none"/><rect x="169.2" y="575.6" width="501.5" height="478.6" fill="#e7e7e7" stroke="#dddddd" stroke-width="1"/><path d="M284.50 575.6V1054.2M452.50 575.6V1054.2M621.50 575.6V1054.2M789.50 575.6V1054.2M957.50 575.6V1054.2M1126.50 575.6V1054.2M1294.50 575.6V1054.2M116.5 1033.50H1462.5M116.5 971.50H1462.5M116.5 909.50H1462.5M116.5 847.50H1462.5M116.5 785.50H1462.5M116.5 723.50H1462.5M116.5 661.50H1462.5M116.5 599.50H1462.5" stroke="#a8a8a8" stroke-width="1.0" stroke-dasharray="1.1 1.85" fill="none"/><g clip-path="url(#cb)"><polygon points="116.5,1014.4 125.0,1012.1 135.0,1009.1 142.5,1004.3 152.5,1004.0 160.0,998.4 170.0,984.8 177.5,988.5 182.5,979.8 190.0,967.2 197.5,949.8 205.0,928.5 210.0,917.2 213.3,892.6 226.1,887.5 241.4,851.6 251.6,831.2 261.9,815.8 272.1,820.9 282.4,815.8 290.0,800.5 300.3,772.3 310.5,739.1 318.2,716.0 325.9,726.3 333.5,754.4 341.2,790.2 348.9,810.7 359.1,808.1 369.4,808.1 379.6,808.1 389.8,808.1 400.1,810.7 410.2,810.7 420.5,815.8 430.7,810.7 440.9,806.1 451.2,800.5 461.4,785.1 471.6,790.2 481.9,736.0 489.6,739.1 499.8,800.5 510.0,687.9 517.7,695.6 527.9,796.1 538.2,810.7 548.4,810.7 553.5,815.8 563.8,823.5 574.0,831.2 584.2,851.6 594.5,867.0 604.7,892.6 610.2,924.6 617.9,893.9 625.6,893.9 633.3,899.1 640.9,893.9 651.2,914.4 661.4,924.6 669.1,919.5 676.8,888.8 687.0,899.1 694.7,929.8 702.4,945.1 712.6,929.8 722.8,904.2 730.5,940.0 740.7,960.5 751.0,970.7 758.6,980.9 768.9,991.1 779.1,1000.2 786.8,986.1 794.5,1002.5 804.7,1009.2 814.9,1015.8 830.3,1018.0 840.0,1018.0 841.2,1008.8 845.0,1017.5 850.0,1017.5 855.0,1021.2 866.2,1018.8 870.0,1022.5 880.0,1023.8 890.0,1023.8 900.0,1024.5 910.0,1025.5 920.0,1026.2 930.0,1026.8 940.0,1022.0 945.0,1026.2 955.0,1027.5 980.0,1027.0 1005.0,1028.0 1030.0,1028.2 1199.0,1028.2 1304.0,1028.2 1324.0,1026.2 1341.5,1028.0 1354.0,1027.5 1366.5,1024.5 1379.0,1026.2 1386.5,1023.8 1404.0,1025.0 1421.5,1021.2 1429.0,1023.8 1441.5,1017.5 1454.0,1015.0 1464.0,1016.2 1463.0,1016.2 1463.0,1032.5 1464.0,1032.5 1429.0,1033.0 1404.0,1033.8 1379.0,1034.5 1354.0,1034.5 1199.0,1035.0 980.0,1035.5 955.0,1035.0 930.0,1034.5 905.0,1035.0 880.0,1035.0 855.0,1033.8 830.0,1028.2 820.0,1028.0 810.0,1027.4 800.0,1025.4 790.0,1023.5 780.0,1023.5 770.0,1021.0 760.0,1018.5 750.0,1016.0 740.0,1016.0 730.0,1013.5 725.0,1006.0 715.0,1008.5 705.0,1011.0 695.0,1006.0 690.0,1001.0 680.0,996.0 670.0,1008.5 660.0,1016.0 650.0,1016.0 640.0,1016.0 630.0,1016.0 620.0,1016.0 610.0,1013.5 600.0,1013.5 590.0,1011.0 580.0,1003.5 570.0,998.5 560.0,996.0 550.0,996.0 540.0,991.0 530.0,986.0 520.0,981.0 510.0,956.0 500.0,971.0 490.0,963.5 480.0,941.0 470.0,951.0 460.0,956.0 455.0,981.0 445.0,986.0 435.0,986.0 425.0,988.5 415.0,986.0 405.0,981.0 395.0,981.0 385.0,973.5 375.0,963.5 365.0,961.0 355.0,966.0 345.0,958.5 335.0,946.0 325.0,941.0 317.5,938.5 310.0,943.5 300.0,959.0 290.0,962.0 280.0,969.0 270.0,977.0 260.0,983.0 250.0,989.0 240.0,997.0 230.0,999.0 220.0,1002.0 210.0,1009.0 200.0,1017.0 190.0,1020.0 180.0,1022.5 170.0,1023.8 160.0,1025.0 150.0,1027.5 140.0,1028.8 130.0,1030.0 116.5,1032.5" fill="#1f77b4"/><path d="M204.7 935.0h0M207.2 942.1h0M209.8 946.3h0M210.9 921.0h0M210.2 1007.7h0M214.8 907.4h0M219.6 915.8h0M220.7 915.2h0M224.5 993.1h0M226.2 907.5h0M233.8 879.4h0M233.1 876.6h0M240.7 879.5h0M240.6 862.3h0M240.3 868.0h0M243.0 854.5h0M245.7 852.4h0M247.0 858.5h0M248.9 983.8h0M254.8 851.6h0M262.6 846.4h0M264.9 835.6h0M269.5 962.8h0M271.9 832.2h0M270.4 822.5h0M270.5 838.7h0M281.8 958.4h0M284.9 818.1h0M285.3 966.1h0M286.4 825.7h0M291.9 812.0h0M293.4 799.2h0M296.1 806.1h0M305.7 778.3h0M304.7 762.9h0M304.4 946.3h0M311.2 758.9h0M315.1 739.1h0M317.2 926.6h0M318.8 745.3h0M319.0 938.3h0M327.0 768.0h0M331.0 749.5h0M331.2 766.3h0M330.8 762.4h0M335.1 792.6h0M335.2 766.9h0M339.5 943.2h0M346.4 953.0h0M350.5 833.2h0M353.6 813.6h0M355.9 955.3h0M357.1 839.6h0M363.5 812.0h0M364.3 813.1h0M364.5 834.9h0M368.7 826.7h0M370.5 809.8h0M371.1 945.4h0M374.0 809.9h0M378.4 829.8h0M386.6 831.5h0M386.6 814.4h0M386.2 959.2h0M390.1 817.9h0M391.4 830.8h0M398.1 816.4h0M403.3 820.0h0M404.9 819.8h0M410.6 825.3h0M413.1 818.8h0M412.0 838.4h0M413.3 982.0h0M414.8 839.4h0M414.3 830.6h0M416.6 842.5h0M416.4 974.1h0M416.3 966.1h0M419.1 823.6h0M422.0 983.8h0M425.4 855.4h0M426.9 830.8h0M428.3 836.8h0M430.2 836.3h0M436.6 979.1h0M438.5 828.4h0M440.1 813.0h0M441.8 980.9h0M447.5 814.6h0M452.6 806.1h0M454.5 817.5h0M456.5 833.6h0M458.6 802.1h0M463.1 801.4h0M462.7 948.6h0M469.7 788.5h0M470.7 942.0h0M472.6 947.9h0M475.6 946.6h0M477.5 774.8h0M477.1 942.4h0M479.9 773.6h0M480.0 768.1h0M488.4 955.8h0M496.8 789.2h0M498.8 803.3h0M500.2 959.1h0M505.3 776.2h0M507.5 753.8h0M508.0 733.5h0M508.5 730.8h0M511.1 698.4h0M511.6 706.9h0M515.9 958.8h0M517.8 963.9h0M519.5 735.7h0M523.3 772.3h0M525.3 788.1h0M535.5 837.4h0M538.6 818.0h0M538.6 976.7h0M544.2 824.8h0M550.0 821.5h0M553.3 848.1h0M552.9 823.5h0M553.7 820.2h0M561.6 838.4h0M562.5 841.9h0M563.2 994.4h0M565.0 985.5h0M567.7 865.7h0M571.7 855.4h0M573.1 849.0h0M581.1 989.2h0M586.3 859.9h0M588.5 862.6h0M590.3 999.2h0M605.4 891.3h0M604.1 892.6h0M616.6 932.7h0M617.7 901.8h0M617.4 992.9h0M620.2 908.6h0M623.9 926.3h0M625.8 928.2h0M628.5 1012.0h0M639.5 900.0h0M638.4 1008.8h0M644.3 913.8h0M645.6 1013.5h0M647.4 918.4h0M648.1 912.5h0M655.9 996.3h0M666.8 926.9h0M666.1 935.2h0" fill="none" stroke="#e7e7e7" stroke-width="2.8" stroke-linecap="round"/><path d="M674.3 908.1h0M679.6 910.7h0M693.1 928.0h0M693.7 1000.4h0M696.2 992.2h0M697.1 1005.0h0M699.4 962.6h0M713.3 938.0h0M713.7 948.9h0M720.7 991.6h0M722.2 906.7h0M723.3 997.5h0M725.0 991.2h0M727.7 923.5h0M734.8 1006.3h0M734.3 1009.9h0" fill="none" stroke="#ffffff" stroke-width="2.8" stroke-linecap="round"/><path d="M267.5 985.0h0M287.5 980.0h0M298.0 976.2h0M415.0 996.2h0M422.5 999.5h0M440.0 997.5h0M458.2 997.0h0M218.2 1003.8h0M234.2 1006.2h0M474.2 965.5h0M319.5 976.2h0M315.0 963.8h0M313.0 950.0h0M319.5 951.2h0M334.5 960.0h0M398.2 986.2h0M407.5 986.2h0M242.5 767.5h0M242.5 773.8h0M260.0 745.0h0M268.8 707.5h0M263.0 745.0h0M290.0 725.5h0M295.0 717.5h0M336.2 672.5h0M351.2 736.2h0M351.2 755.5h0M372.5 707.5h0M387.5 710.0h0M398.8 721.2h0M422.5 723.8h0M437.5 702.5h0M463.8 697.5h0M422.0 757.5h0M367.5 724.5h0M375.0 726.2h0M393.8 732.5h0M407.5 742.5h0M430.0 742.5h0M443.8 732.5h0M312.5 613.8h0M317.5 609.2h0M315.0 625.0h0M318.8 628.0h0M312.5 637.0h0M318.0 636.2h0M318.0 643.0h0M315.0 646.2h0M327.5 651.2h0M336.2 650.5h0M311.2 662.5h0M320.5 659.2h0M326.2 663.2h0M317.0 666.2h0M324.5 672.5h0M336.2 672.5h0M310.0 677.5h0M327.5 677.5h0M327.5 686.2h0M334.5 685.5h0M269.5 707.0h0M303.8 706.2h0M333.8 706.2h0M295.5 717.5h0M290.0 725.5h0M351.2 736.2h0M372.5 707.5h0M388.2 710.5h0M367.0 724.2h0M375.0 726.2h0M398.8 721.2h0M388.2 734.5h0M394.2 732.5h0M407.5 742.5h0M422.5 724.2h0M422.5 732.5h0M437.5 702.5h0M437.5 727.5h0M443.0 732.5h0M464.5 698.2h0M463.2 707.5h0M462.0 713.8h0M460.0 726.2h0M484.5 613.2h0M485.0 621.2h0M485.5 630.0h0M487.0 636.2h0M479.5 651.2h0M486.2 654.5h0M483.8 662.5h0M487.0 669.5h0M490.0 678.8h0M484.2 687.5h0M480.0 703.8h0M488.8 700.0h0M509.5 597.5h0M512.5 607.0h0M513.8 615.0h0M510.5 626.2h0M510.5 642.5h0M520.0 649.5h0M509.5 655.5h0M528.8 674.5h0M528.2 684.5h0M532.5 690.5h0M528.2 706.2h0M527.5 715.0h0M532.5 718.8h0M552.5 701.2h0M552.5 712.5h0M552.5 729.2h0M552.5 738.2h0M512.5 672.5h0M517.5 670.0h0M485.0 676.2h0M484.2 613.2h0M487.0 620.0h0M485.0 630.0h0M487.0 636.2h0M479.2 651.2h0M486.2 654.2h0M483.8 660.0h0M487.5 668.8h0M488.8 678.8h0M509.5 597.0h0M512.5 606.2h0M513.8 615.0h0M510.0 626.2h0M511.2 642.5h0M520.0 648.8h0M512.5 655.0h0M528.2 674.2h0M528.2 683.8h0M532.5 690.0h0M528.2 706.2h0M532.5 718.8h0M552.5 701.2h0M552.5 712.5h0M552.5 729.2h0M552.5 738.2h0M552.5 750.0h0M556.2 757.5h0M556.2 770.0h0M563.2 770.5h0M538.2 780.0h0M546.2 780.0h0M563.2 780.0h0M576.2 787.5h0M586.2 786.2h0M586.2 796.2h0M586.2 806.2h0M594.2 829.2h0M594.2 842.5h0M627.5 770.5h0M627.5 782.5h0M627.5 796.2h0M627.5 826.2h0M647.5 823.2h0M647.5 841.2h0M658.2 835.0h0M658.2 845.0h0M658.2 852.0h0M678.2 786.2h0M678.2 800.0h0M678.2 826.2h0M675.5 835.0h0M691.2 842.0h0M691.2 851.2h0M722.0 856.2h0M620.0 862.5h0M630.0 857.5h0M640.0 856.2h0M675.0 857.5h0M528.2 732.5h0M528.2 742.5h0M528.2 760.0h0M528.2 770.0h0M474.5 965.5h0M487.5 972.5h0M487.5 978.8h0M487.5 990.5h0M496.2 977.5h0M500.0 990.0h0M500.5 1000.0h0M504.5 981.2h0M516.2 982.5h0M525.5 995.0h0M535.5 999.5h0M547.5 1002.5h0M594.2 1021.2h0M660.0 1021.2h0M677.5 1003.0h0M620.0 863.8h0M630.0 858.8h0M640.0 855.5h0M647.5 862.5h0M657.5 861.2h0M657.5 873.8h0M668.2 885.5h0M691.2 852.0h0M690.0 870.5h0M722.0 856.2h0M722.0 867.5h0M702.5 928.8h0M710.0 931.2h0M740.0 951.2h0M751.2 955.0h0M760.0 963.8h0M767.5 972.5h0M787.0 965.0h0M582.5 1010.0h0M562.5 1000.0h0M119.7 1006.9h0M120.0 1013.8h0M122.1 1009.4h0M127.8 1006.5h0M140.5 1003.8h0M145.1 1002.7h0M149.2 998.6h0M150.7 1003.9h0M150.6 1002.4h0M151.4 1002.0h0M151.0 1003.6h0M152.5 1001.2h0M151.9 1002.0h0M150.7 1000.1h0M152.8 996.9h0M152.6 997.6h0M154.3 999.7h0M153.9 996.1h0M154.8 999.0h0M166.9 986.8h0M169.0 985.4h0M171.0 982.5h0M174.5 984.6h0M177.4 980.8h0M184.9 976.0h0M185.5 971.3h0M188.6 969.4h0M192.0 962.2h0M192.3 964.1h0M194.4 956.6h0M192.9 957.4h0M195.8 953.6h0M202.0 940.9h0M201.6 1012.9h0M204.1 1016.0h0M205.0 1011.6h0M209.4 919.5h0M209.2 918.3h0M209.6 1009.8h0M211.1 908.3h0M210.7 913.3h0M211.3 1009.4h0M214.4 1009.8h0M215.3 875.3h0M215.2 1006.1h0M214.6 1007.7h0M220.2 879.1h0M219.3 1004.2h0M224.1 884.2h0M223.2 881.7h0M223.0 1011.0h0M223.7 1002.4h0M225.1 1001.5h0M226.8 877.7h0M228.2 885.4h0M226.9 886.2h0M229.2 876.7h0M229.8 873.4h0M228.9 875.6h0M229.6 1002.6h0M230.2 1000.5h0M231.2 863.8h0M232.1 1002.9h0M231.5 1009.4h0M231.9 1000.1h0M230.8 1003.4h0M230.7 1006.2h0M234.5 859.7h0M233.6 866.5h0M232.9 866.3h0M235.3 867.4h0M235.2 861.5h0M235.3 841.2h0M235.3 850.5h0M235.9 867.7h0M241.9 851.5h0M243.4 1001.2h0M244.9 811.2h0M246.3 837.9h0M245.0 835.1h0M245.2 828.7h0M245.8 823.7h0M245.6 1000.0h0M246.5 996.4h0M248.2 832.5h0M251.5 832.0h0M250.5 808.7h0M253.4 799.8h0M254.4 782.3h0M252.6 825.6h0M253.8 803.5h0M254.6 816.0h0M255.7 820.4h0M256.2 786.1h0M255.8 806.6h0M256.3 826.4h0M255.0 798.2h0M255.3 821.2h0M255.7 823.1h0M256.5 826.5h0M256.3 808.4h0M257.9 811.8h0M256.8 819.2h0M258.2 823.2h0M256.6 822.4h0M257.9 820.7h0M257.9 820.3h0M256.7 819.1h0M257.8 986.5h0M259.1 792.5h0M259.3 799.7h0M259.8 818.6h0M260.0 793.3h0M260.2 820.0h0M259.0 814.0h0M259.8 816.3h0M258.9 812.4h0M258.5 806.7h0M259.0 798.1h0M259.7 820.0h0M259.7 800.2h0M259.6 803.9h0M258.7 780.7h0M260.0 990.0h0M258.9 986.5h0M261.1 815.6h0M261.9 797.0h0M262.2 814.3h0M261.8 803.8h0M261.3 816.6h0M260.7 785.9h0M262.4 816.2h0M262.3 782.2h0M262.2 807.5h0M261.2 811.1h0M261.7 793.6h0M263.1 807.9h0M262.5 806.5h0M265.5 982.1h0M267.5 812.9h0M267.0 791.1h0M268.6 806.4h0M273.2 814.3h0M273.8 808.6h0M272.9 804.3h0M274.0 978.2h0M275.9 817.9h0M276.0 973.5h0M278.0 813.4h0M277.5 979.9h0M278.6 807.2h0M278.6 799.6h0M279.3 810.6h0M280.2 800.4h0M279.0 976.0h0M280.7 803.4h0M282.2 808.8h0M282.3 813.1h0M285.2 970.1h0M287.9 805.1h0M288.3 965.2h0M288.8 964.6h0M291.0 764.5h0M293.9 779.3h0M293.3 969.9h0M294.9 784.0h0M295.2 963.4h0M294.6 961.4h0M297.6 769.9h0M298.1 760.9h0M298.1 963.1h0M299.1 750.4h0M299.2 749.5h0M298.8 770.4h0M299.6 756.1h0M299.6 959.9h0M299.8 962.4h0M299.7 964.3h0M301.5 762.5h0M302.1 740.3h0M302.1 769.3h0M302.3 724.2h0M301.1 762.4h0M301.2 763.4h0M300.6 757.4h0M301.8 764.8h0M303.7 746.8h0M303.1 715.3h0M302.7 756.8h0M302.9 747.0h0M303.8 752.4h0M304.3 956.5h0M305.5 736.1h0M306.5 726.3h0M304.5 709.9h0M305.2 746.8h0M305.5 952.3h0M307.5 747.8h0M306.8 742.7h0M306.9 750.1h0M307.4 728.3h0M307.7 728.8h0M307.0 725.8h0M308.8 685.8h0M308.9 731.3h0M310.1 706.1h0M309.3 726.2h0M309.4 701.1h0M309.6 724.5h0M309.8 686.8h0M311.2 738.5h0M311.6 703.9h0M311.8 709.3h0M311.2 707.3h0M311.6 738.3h0M314.0 722.6h0M315.8 722.6h0M315.9 697.3h0M315.4 718.6h0M314.6 723.1h0M317.0 690.8h0M317.0 718.4h0M317.5 668.5h0M316.5 943.2h0M320.1 705.4h0M320.7 699.0h0M321.9 714.8h0M321.8 712.5h0M321.8 941.5h0M322.6 714.0h0M326.4 677.4h0M325.0 681.3h0M325.2 670.6h0M325.1 704.7h0M327.7 710.5h0M329.0 734.1h0M329.9 725.8h0M328.8 726.8h0M329.4 714.8h0M329.8 727.7h0M331.7 668.9h0M330.6 672.7h0M330.7 688.7h0M330.8 723.1h0M331.5 723.2h0M332.4 681.4h0M331.5 739.6h0M330.5 695.0h0M332.3 738.2h0M332.3 944.0h0M333.4 694.7h0M334.0 700.9h0M334.5 721.9h0M332.5 716.5h0M333.6 744.7h0M334.3 726.8h0M333.5 694.9h0M333.3 949.7h0M334.5 747.3h0M335.1 734.0h0M335.4 706.8h0M335.1 714.9h0M335.1 725.0h0M336.4 730.0h0M335.4 738.3h0M334.9 751.7h0M335.5 752.8h0M336.1 954.0h0M337.8 755.1h0M337.3 756.5h0M337.2 738.5h0M337.7 735.1h0M336.6 757.8h0M338.5 950.8h0M339.5 951.0h0M341.2 761.6h0M340.7 786.5h0M342.2 743.1h0M340.5 954.9h0M343.2 775.7h0M342.7 962.6h0M344.7 794.2h0M347.9 791.1h0M347.2 799.6h0M350.3 962.9h0M350.7 803.7h0M354.4 969.0h0M355.0 808.3h0M355.8 800.9h0M354.7 966.4h0M359.7 971.8h0M359.5 964.4h0M361.4 794.7h0M361.7 773.8h0M362.7 794.6h0M367.3 805.1h0M367.4 969.4h0M368.5 963.0h0M370.9 781.8h0M371.2 737.2h0M373.9 767.1h0M375.0 781.1h0M375.8 775.7h0M376.3 963.9h0M379.5 792.4h0M381.8 803.6h0M382.3 970.4h0M382.5 971.7h0M383.9 773.7h0M383.6 735.5h0M385.0 802.5h0M385.0 799.0h0M387.2 803.5h0M387.7 757.8h0M388.3 801.5h0M388.1 779.1h0M388.4 771.4h0M387.3 980.4h0M388.8 798.7h0M389.8 806.6h0M389.3 750.9h0M389.3 754.7h0M388.8 785.8h0M388.7 734.0h0M388.6 806.5h0M389.1 734.4h0M390.3 763.7h0M391.3 802.8h0M390.7 752.0h0M391.6 762.7h0M391.6 764.3h0M391.3 757.0h0M390.8 984.4h0M392.6 787.8h0M393.2 781.6h0M392.9 798.8h0M395.4 762.4h0M394.6 984.7h0M398.4 778.7h0M397.2 779.3h0M398.2 750.9h0M399.2 739.2h0M399.7 774.6h0M401.1 770.8h0M402.3 799.2h0M400.7 808.1h0M400.5 784.4h0M400.6 780.8h0M401.9 810.1h0M400.9 809.4h0M400.9 983.6h0M404.0 785.9h0M404.3 985.4h0M406.5 795.2h0M405.9 791.0h0M406.0 784.5h0M404.8 807.8h0M405.9 807.0h0M407.0 794.0h0M408.3 794.3h0M407.8 982.6h0M407.8 984.9h0M408.3 987.3h0M408.2 984.1h0M409.4 784.8h0M409.8 810.2h0M409.5 803.3h0M409.1 984.0h0M410.3 985.6h0M412.0 792.8h0M411.0 810.0h0M411.1 806.5h0M412.0 803.4h0M411.9 989.3h0M413.6 807.5h0M412.8 801.6h0M415.0 793.5h0M414.9 795.2h0M415.4 771.6h0M415.2 796.1h0M415.3 763.6h0M416.1 774.5h0M416.4 993.0h0M417.7 808.6h0M418.4 802.3h0M417.3 812.7h0M416.7 808.6h0M417.2 800.9h0M417.6 989.2h0M418.8 798.4h0M419.6 795.1h0M421.9 742.2h0M421.7 811.0h0M421.9 806.4h0M421.1 815.1h0M421.9 807.1h0M423.2 809.6h0M423.8 794.5h0M422.8 755.1h0M423.3 780.7h0M425.5 807.6h0M426.3 811.7h0M427.8 777.4h0M428.3 744.2h0M428.2 765.1h0M427.3 807.4h0M428.3 810.7h0M427.1 767.3h0M426.8 995.2h0M429.1 800.5h0M429.4 784.3h0M428.9 787.8h0M430.3 793.1h0M430.1 788.8h0M429.7 993.2h0M431.2 805.0h0M431.8 808.9h0M432.2 785.6h0M432.3 753.4h0M431.9 805.5h0M431.8 992.0h0M433.9 791.0h0M433.0 760.4h0M433.5 775.4h0M433.6 799.4h0M433.3 806.9h0M436.4 802.2h0M435.2 805.9h0M435.9 757.1h0M436.2 798.7h0M435.9 806.8h0M434.7 756.7h0M436.8 756.6h0M437.8 767.8h0M439.4 738.8h0M440.9 798.2h0M441.0 995.5h0M440.7 994.4h0M443.5 776.5h0M444.8 796.8h0M451.3 798.0h0M452.6 982.7h0M454.9 793.6h0M454.7 983.2h0M458.5 779.3h0M459.6 787.4h0M459.5 778.0h0M460.0 762.1h0M460.3 964.2h0M460.5 967.7h0M461.1 784.0h0M461.8 956.3h0M461.7 958.1h0M463.2 783.3h0M463.9 753.6h0M462.8 957.1h0M466.5 779.4h0M465.2 959.3h0M467.2 954.0h0M466.9 954.0h0M466.9 956.1h0M467.4 958.4h0M469.7 765.1h0M472.3 950.9h0M473.5 784.3h0M473.3 783.2h0M474.4 949.7h0M475.0 737.7h0M474.6 736.7h0M475.4 951.8h0M478.0 760.6h0M478.4 757.3h0M478.4 704.1h0M476.6 742.4h0M477.6 757.0h0M477.7 736.1h0M477.2 751.8h0M476.6 760.3h0M477.6 748.0h0M479.4 689.2h0M479.9 745.4h0M479.2 751.1h0M479.1 715.1h0M480.3 737.1h0M479.5 722.4h0M479.1 751.5h0M480.5 752.0h0M479.7 749.8h0M478.5 730.1h0M479.9 679.0h0M479.8 688.7h0M479.0 738.3h0M479.6 745.6h0M478.9 687.4h0M479.9 669.6h0M480.4 717.5h0M479.0 670.3h0M479.1 724.6h0M479.8 730.9h0M480.3 704.1h0M478.6 692.5h0M482.5 737.1h0M481.5 693.5h0M482.2 739.9h0M481.4 729.7h0M481.4 664.9h0M481.4 738.6h0M482.4 691.5h0M481.9 683.9h0M480.6 708.6h0M480.9 736.4h0M480.6 738.6h0M482.3 712.0h0M480.8 710.3h0M481.9 732.4h0M482.0 666.1h0M480.6 730.8h0M480.7 725.3h0M481.4 735.9h0M482.4 692.6h0M481.0 672.9h0M482.4 658.2h0M482.5 697.3h0M483.0 712.1h0M483.6 639.8h0M482.8 731.4h0M482.9 730.0h0M482.9 733.3h0M483.0 686.8h0M483.9 687.0h0M483.2 732.1h0M483.3 728.6h0M484.0 719.1h0M484.2 669.6h0M482.9 736.1h0M483.2 704.0h0M484.1 726.2h0M484.3 685.3h0M484.1 709.5h0M482.8 668.5h0M484.0 724.0h0M483.7 948.0h0M485.9 658.1h0M485.6 731.2h0M486.2 671.3h0M484.8 677.7h0M486.5 719.0h0M484.9 682.4h0M488.0 673.0h0M487.1 696.0h0M486.7 666.8h0M488.1 708.4h0M488.4 719.3h0M486.9 721.1h0M487.4 959.1h0M488.1 964.2h0M489.4 719.9h0M488.6 640.3h0M490.3 708.7h0M489.8 967.9h0M492.2 696.3h0M492.2 964.9h0M493.7 713.3h0M493.8 722.0h0M493.5 729.8h0M494.3 969.6h0M494.6 726.8h0M495.9 742.0h0M494.7 967.4h0M494.8 969.5h0M498.2 768.2h0M500.3 772.2h0M500.3 779.7h0M499.9 775.0h0M502.0 779.8h0M506.2 738.4h0M506.1 734.7h0M506.4 730.9h0M505.2 728.0h0M506.9 711.0h0M508.2 726.4h0M508.2 722.3h0M507.0 694.4h0M506.6 962.7h0M509.2 689.5h0M509.6 671.3h0M508.8 641.1h0M509.7 685.4h0M508.8 694.6h0M511.0 669.8h0M511.3 667.2h0M511.1 684.2h0M512.5 687.6h0M511.9 957.6h0M513.0 682.3h0M515.5 646.6h0M514.9 691.8h0M516.1 689.7h0M515.3 659.5h0M515.5 648.9h0M515.0 973.9h0M516.7 688.2h0M517.0 681.2h0M517.0 672.3h0M518.4 669.0h0M517.4 690.6h0M516.5 689.5h0M518.2 651.5h0M518.5 700.5h0M520.2 686.6h0M521.8 667.3h0M520.5 690.2h0M521.0 707.6h0M522.3 715.1h0M521.2 721.5h0M520.5 703.4h0M521.9 706.5h0M521.9 701.4h0M522.4 718.5h0M521.8 718.6h0M523.3 705.9h0M524.4 717.2h0M522.6 739.8h0M522.7 736.8h0M523.0 739.9h0M522.5 741.6h0M524.0 730.4h0M525.9 755.4h0M526.1 741.9h0M525.9 751.6h0M525.9 733.8h0M525.4 747.9h0M525.5 734.6h0M525.7 702.0h0M527.8 772.5h0M527.0 756.2h0M527.8 740.0h0M527.3 696.5h0M528.1 748.0h0M528.5 762.4h0M526.6 760.3h0M529.1 791.9h0M529.8 788.9h0M528.8 792.8h0M532.4 775.2h0M532.5 987.1h0M532.2 987.3h0M533.0 794.0h0M535.1 783.0h0M537.5 805.0h0M537.8 792.0h0M537.8 795.1h0M539.9 995.8h0M542.9 791.4h0M543.1 992.7h0M545.6 809.8h0M546.2 1002.1h0M547.3 808.8h0M548.3 805.0h0M549.4 799.3h0M549.3 995.3h0M550.7 761.5h0M551.1 811.4h0M551.8 801.3h0M551.0 754.0h0M553.4 804.1h0M555.8 816.5h0M555.8 795.8h0M555.8 779.1h0M555.3 1003.2h0M555.7 1002.8h0M557.3 803.8h0M557.6 793.4h0M556.7 794.6h0M557.8 1000.0h0M559.6 816.9h0M559.8 800.1h0M560.1 793.3h0M559.0 799.1h0M558.5 809.4h0M559.7 997.9h0M562.4 804.6h0M561.1 807.2h0M560.7 810.4h0M561.3 808.5h0M564.0 787.6h0M563.2 802.0h0M564.0 812.0h0M563.3 801.1h0M564.4 999.4h0M564.8 818.1h0M565.3 816.6h0M566.0 802.8h0M565.9 820.5h0M566.5 997.6h0M566.6 809.8h0M567.4 819.1h0M570.0 1000.3h0M573.8 1001.5h0M576.3 829.3h0M575.3 1001.7h0M576.9 832.9h0M576.6 819.9h0M578.2 1004.4h0M579.5 832.3h0M578.6 832.9h0M580.2 799.4h0M579.2 813.5h0M579.1 801.5h0M580.4 826.3h0M579.7 1009.0h0M581.7 836.5h0M581.1 840.7h0M582.1 829.7h0M581.7 843.8h0M581.2 841.7h0M580.9 843.8h0M582.1 1003.9h0M583.6 815.5h0M582.8 817.6h0M583.7 817.7h0M583.3 837.1h0M583.0 846.1h0M583.7 847.8h0M583.1 827.1h0M584.0 847.1h0M584.0 810.7h0M583.0 847.7h0M584.4 1005.5h0M583.4 1010.2h0M584.7 841.4h0M586.0 830.4h0M585.7 847.3h0M585.3 809.2h0M585.7 841.4h0M585.5 812.5h0M584.9 1015.7h0M587.5 807.8h0M588.4 835.0h0M587.0 1012.7h0M589.1 840.7h0M589.3 824.1h0M589.2 1014.4h0M592.1 859.6h0M596.0 861.7h0M594.9 859.1h0M594.9 1014.4h0M597.7 850.6h0M598.4 872.0h0M596.9 1020.4h0M602.7 874.9h0M605.3 883.9h0M607.6 1022.4h0M608.8 913.1h0M609.5 903.2h0M608.8 909.1h0M610.2 906.2h0M609.8 1014.9h0M611.4 897.2h0M610.8 918.8h0M610.7 922.6h0M614.0 911.9h0M614.1 892.0h0M612.6 903.5h0M613.3 915.4h0M614.4 1016.3h0M614.9 888.4h0M616.1 901.6h0M615.6 1018.1h0M616.6 898.4h0M618.4 893.2h0M617.0 893.0h0M619.3 885.3h0M619.8 886.2h0M619.3 1017.8h0M621.2 1019.5h0M621.2 1016.2h0M621.4 1026.9h0M624.1 876.8h0M622.8 888.2h0M622.5 867.1h0M625.9 871.9h0M626.7 893.9h0M627.3 886.4h0M629.2 891.9h0M628.8 892.6h0M630.3 1019.1h0M628.9 1019.8h0M631.5 890.1h0M631.6 893.9h0M636.0 896.2h0M634.7 894.7h0M638.8 866.8h0M641.7 883.4h0M643.3 869.8h0M644.6 881.7h0M649.7 905.3h0M648.6 894.6h0M652.5 907.4h0M652.3 904.6h0M651.0 887.4h0M651.1 897.0h0M650.9 907.0h0M652.1 1018.1h0M651.7 1017.7h0M651.5 1017.9h0M654.3 915.2h0M653.1 912.3h0M656.3 906.7h0M655.0 871.1h0M655.9 882.1h0M654.8 902.1h0M658.3 908.3h0M658.5 913.8h0M657.1 904.8h0M657.7 916.0h0M658.3 895.7h0M657.8 899.2h0M656.5 1017.0h0M658.4 1016.4h0M659.7 903.1h0M659.4 921.3h0M659.4 908.5h0M659.8 916.4h0M659.4 900.8h0M659.6 918.9h0M660.2 914.8h0M658.7 903.3h0M659.5 919.6h0M660.2 898.1h0M659.7 1017.5h0M660.8 911.6h0M661.3 909.5h0M661.6 911.6h0M662.4 915.3h0M660.6 906.2h0M662.1 921.0h0M662.4 923.1h0M662.3 1025.1h0M660.9 1021.4h0M662.4 1022.1h0M662.6 918.7h0M662.8 923.8h0M664.2 904.4h0M663.3 904.4h0M663.9 921.8h0M662.8 917.8h0M662.8 1017.1h0M665.7 921.8h0M668.1 903.3h0M667.3 914.5h0M667.6 906.5h0M667.6 914.9h0M668.1 917.9h0M667.0 1016.2h0M669.9 912.5h0M672.1 896.2h0M672.9 1009.5h0M676.5 880.2h0M674.8 1003.6h0M677.3 877.9h0M676.7 886.4h0M677.4 1002.2h0M678.0 1009.8h0M678.9 878.6h0M680.4 877.9h0M678.9 887.5h0M679.7 870.5h0M681.9 879.7h0M681.6 888.5h0M680.5 889.6h0M682.3 889.9h0M680.9 892.2h0M681.9 1000.8h0M682.0 998.0h0M680.8 998.7h0M681.9 1002.8h0M683.4 883.0h0M682.6 887.3h0M684.2 878.1h0M682.9 886.0h0M682.8 885.9h0M683.1 893.3h0M684.0 1000.5h0M683.4 999.1h0M684.7 888.7h0M685.2 1000.3h0M687.4 889.4h0M689.4 903.8h0M691.4 1003.6h0M691.9 1002.0h0M692.8 1006.3h0M696.6 916.6h0M696.7 1011.5h0M698.1 1012.8h0M699.8 924.7h0M701.5 940.2h0M701.4 934.5h0M702.3 941.4h0M703.7 937.1h0M702.9 942.6h0M704.1 1012.4h0M702.7 1010.7h0M705.1 925.4h0M707.0 933.0h0M707.1 1012.0h0M707.1 1011.6h0M708.0 1014.7h0M709.5 935.4h0M709.1 923.6h0M709.1 1015.8h0M710.1 1013.7h0M709.7 1010.6h0M712.2 920.2h0M710.9 916.9h0M712.0 910.9h0M712.6 894.8h0M713.4 924.7h0M713.9 923.0h0M716.1 911.2h0M715.2 924.4h0M716.2 898.2h0M714.8 903.6h0M716.2 1011.1h0M718.1 1014.2h0M719.5 889.6h0M718.5 1010.1h0M720.4 1016.5h0M722.0 865.0h0M722.7 897.6h0M722.8 882.6h0M723.7 903.1h0M724.3 887.4h0M724.9 887.2h0M726.0 900.3h0M724.5 885.8h0M725.3 911.3h0M728.4 911.0h0M728.5 919.2h0M726.9 897.9h0M727.4 1012.2h0M729.6 920.3h0M729.3 930.2h0M729.9 1013.1h0M731.9 937.6h0M733.3 941.7h0M736.4 1016.6h0M736.9 948.4h0M737.8 1015.5h0M740.2 946.4h0M739.7 948.5h0M738.6 1018.5h0M740.2 1018.7h0M743.4 1017.0h0M744.4 1017.3h0M746.5 1016.4h0M748.1 1022.0h0M749.9 958.5h0M750.1 1022.1h0M748.8 1017.7h0M750.8 969.1h0M754.4 972.3h0M753.3 969.8h0M753.9 1020.1h0M755.8 973.1h0M756.5 1023.6h0M756.9 1017.7h0M763.8 981.5h0M763.7 969.4h0M764.4 1022.5h0M768.2 987.5h0M767.7 1026.9h0M768.8 980.5h0M772.6 992.2h0M775.0 993.0h0M776.5 984.4h0M777.3 996.0h0M778.4 1023.6h0M779.9 996.4h0M779.1 1028.4h0M784.6 979.4h0M785.8 989.4h0M784.8 1023.7h0M789.4 985.1h0M791.4 993.7h0M793.8 1026.2h0M798.8 1027.8h0M804.2 1004.7h0M805.3 1031.9h0M807.8 1000.0h0M810.1 1005.3h0M810.0 1008.6h0M811.3 1012.6h0M812.3 1029.4h0M811.0 1028.4h0M811.8 1027.3h0M811.6 1030.8h0M813.3 1004.8h0M814.4 1012.3h0M815.9 1026.5h0M817.6 1027.3h0M820.3 1016.0h0M820.0 1027.0h0M821.5 1029.3h0M823.8 1032.3h0M828.2 1027.6h0M831.0 1028.9h0M830.8 1031.3h0M832.1 1031.8h0M834.4 1027.4h0M840.4 1013.2h0M839.4 1027.9h0M839.1 1030.4h0M841.8 1017.9h0M840.5 1014.2h0M842.0 1010.8h0M841.6 1014.9h0" fill="none" stroke="#1f77b4" stroke-width="5.4" stroke-linecap="round"/><polyline points="116.5,1025.0 117.9,1024.0 119.3,1025.1 120.8,1022.3 122.2,1024.8 123.6,1022.4 125.0,1022.5 126.4,1023.5 127.9,1021.1 129.3,1022.6 130.7,1020.1 132.1,1021.9 133.6,1019.2 135.0,1020.0 136.4,1020.5 137.9,1017.7 139.3,1019.7 140.7,1016.7 142.1,1018.4 143.6,1016.2 145.0,1016.2 146.4,1017.4 147.9,1015.2 149.3,1017.7 150.7,1015.6 152.1,1018.0 153.6,1016.6 155.0,1017.5 156.4,1018.1 157.9,1014.7 159.3,1015.9 160.7,1014.1 162.1,1015.4 163.6,1011.9 165.0,1012.5 166.6,1010.6 168.1,1005.6 169.7,1004.5 171.2,1001.2 173.1,1004.5 175.0,1010.0 176.4,1010.3 177.9,1007.4 179.3,1008.2 180.7,1005.9 182.1,1006.6 183.6,1003.2 185.0,1003.8 186.5,1001.9 188.0,997.0 189.5,995.6 191.0,990.4 192.5,988.8 194.2,987.9 195.8,983.8 197.5,982.5 199.2,985.0 200.8,982.3 202.5,987.5 204.2,979.8 205.8,967.6 207.5,960.0 209.2,962.1 210.8,955.9 212.5,957.5 214.4,950.4 216.2,936.2 218.1,934.2 220.0,935.0 221.7,942.3 223.3,940.4 225.0,945.0 226.7,951.3 228.3,948.8 230.0,955.0 231.7,955.2 233.3,949.8 235.0,950.0 236.7,953.8 238.3,953.3 240.0,957.5 241.2,944.2 242.5,925.0 244.1,921.3 245.6,927.3 247.2,920.0 248.8,922.5 250.4,922.5 252.1,916.1 253.8,915.0 255.4,903.7 257.1,882.8 258.8,872.5 260.4,878.0 262.1,879.6 263.8,885.0 265.0,895.8 266.2,900.0 267.8,894.8 269.4,899.5 270.9,891.3 272.5,892.5 274.2,894.2 275.8,886.5 277.5,887.5 279.2,892.4 280.8,891.5 282.5,897.5 284.2,896.8 285.8,891.1 287.5,890.0 289.4,884.5 291.2,872.5 293.1,863.1 295.0,860.0 296.2,886.9 297.5,910.0 298.8,891.3 300.0,880.0 301.7,872.2 303.3,858.3 305.0,850.0 306.7,847.4 308.3,838.4 310.0,835.0 311.9,830.3 313.8,822.5 315.6,813.3 317.5,811.2 319.2,825.1 320.8,832.7 322.5,847.5 324.2,838.6 325.8,818.9 327.5,810.0 329.2,831.1 330.8,844.5 332.5,865.0 334.2,872.9 335.8,869.8 337.5,877.5 339.2,887.3 340.8,889.5 342.5,900.0 344.2,897.9 345.8,889.6 347.5,890.0 349.2,894.7 350.8,893.1 352.5,900.0 354.2,887.1 355.8,866.2 357.5,855.0 359.2,869.0 360.8,876.2 362.5,890.0 364.2,885.2 365.8,870.4 367.5,865.0 369.2,865.2 370.8,856.9 372.5,857.5 374.1,874.0 375.6,880.2 377.2,897.7 378.8,907.5 380.6,893.5 382.5,885.0 384.2,889.1 385.8,887.5 387.5,892.5 389.2,892.0 390.8,880.7 392.5,880.0 394.2,882.2 395.8,874.8 397.5,877.5 399.2,886.5 400.8,889.4 402.5,897.5 403.8,905.2 405.0,910.0 406.7,898.6 408.3,896.2 410.0,885.0 411.5,888.5 413.0,897.1 414.5,897.0 416.0,908.8 417.5,910.0 419.0,905.3 420.5,910.9 422.0,903.4 423.5,909.1 425.0,905.0 426.7,914.6 428.3,930.7 430.0,940.0 431.7,928.3 433.3,926.8 435.0,915.0 436.5,902.9 438.0,900.3 439.5,886.5 441.0,882.3 442.5,872.5 444.2,886.6 445.8,907.3 447.5,920.0 449.2,917.7 450.8,922.2 452.5,920.0 453.8,902.2 455.0,890.0 456.7,876.5 458.3,853.7 460.0,840.0 461.7,846.6 463.3,848.7 465.0,855.0 466.7,866.8 468.3,870.2 470.0,880.0 471.7,876.4 473.3,867.8 475.0,865.0 476.2,865.4 477.5,862.0 479.5,821.0 480.8,830.1 482.0,842.0 483.8,831.1 485.5,817.0 487.1,831.7 488.7,850.0 489.9,862.5 491.0,870.0 492.3,872.2 493.7,884.3 495.0,887.0 496.2,882.6 497.5,882.0 498.8,903.0 500.0,921.0 501.2,899.1 502.5,885.0 503.8,895.7 505.0,900.0 506.2,872.5 507.5,850.0 508.8,832.3 510.0,810.0 511.2,804.4 512.5,805.0 514.2,830.7 516.0,850.0 517.3,838.5 518.7,835.4 520.0,825.0 521.2,861.1 522.5,901.2 524.2,896.2 525.8,881.2 527.5,875.0 528.8,895.7 530.0,912.5 531.7,910.4 533.3,919.7 535.0,917.5 536.2,901.2 537.5,892.5 539.4,904.4 541.2,910.0 543.1,894.1 545.0,885.0 546.9,904.0 548.8,917.5 550.6,903.7 552.5,897.5 554.2,904.9 555.8,906.2 557.5,912.5 558.8,912.0 560.0,905.0 561.7,917.1 563.3,934.6 565.0,945.0 566.2,927.9 567.5,915.0 569.2,924.1 570.8,925.7 572.5,935.0 574.2,934.1 575.8,926.3 577.5,925.0 578.8,947.5 580.4,938.4 582.1,921.5 583.8,913.8 585.4,924.4 587.1,925.6 588.8,937.5 590.0,953.0 591.2,962.5 593.1,953.6 595.0,950.0 596.7,954.6 598.3,953.9 600.0,960.0 601.6,962.2 603.1,959.8 604.7,965.0 606.2,962.5 608.1,960.3 610.0,965.0 611.7,971.7 613.3,973.5 615.0,980.0 616.7,969.6 618.3,954.6 620.0,945.0 621.9,961.6 623.8,975.0 625.4,956.0 627.0,940.0 628.5,955.9 630.0,967.5 631.7,966.9 633.3,972.4 635.0,970.0 636.7,959.2 638.3,955.0 640.0,945.0 641.9,956.2 643.8,970.0 645.6,959.6 647.5,942.5 649.2,951.2 650.8,965.1 652.5,972.5 654.2,961.2 655.8,956.4 657.5,946.2 659.2,953.5 660.8,967.5 662.5,972.5 664.2,969.6 665.8,971.9 667.5,967.5 669.2,961.9 670.8,966.7 672.5,962.5 673.8,950.6 675.0,942.5 676.2,930.1 677.5,912.5 679.4,923.3 681.2,940.0 683.1,947.5 685.0,952.5 686.7,945.2 688.3,946.8 690.0,940.0 691.7,948.8 693.3,967.2 695.0,975.0 696.2,975.5 697.5,982.5 699.2,980.4 700.8,972.7 702.5,972.5 703.8,984.5 705.0,993.8 706.7,987.9 708.3,988.1 710.0,980.0 711.7,967.9 713.3,964.6 715.0,952.5 716.2,963.7 717.5,977.5 719.2,965.8 720.8,948.2 722.5,936.2 723.8,958.8 725.0,975.0 726.2,962.8 727.5,957.5 729.4,977.9 731.2,993.8 733.1,991.7 735.0,995.0 736.7,995.4 738.3,986.6 740.0,987.5 741.7,993.0 743.3,989.3 745.0,995.0 746.5,997.0 748.0,990.6 749.5,994.8 751.0,988.8 752.5,990.0 753.8,999.5 755.0,1005.0 756.7,1000.7 758.3,1004.1 760.0,1000.0 761.5,999.9 763.0,1002.5 764.5,1002.6 766.0,1005.1 767.5,1005.0 769.2,1007.6 770.8,1012.8 772.5,1015.0 774.0,1013.6 775.5,1014.4 777.0,1012.9 778.5,1014.0 780.0,1012.5 781.6,1007.2 783.1,1004.3 784.7,997.6 786.2,993.8 788.1,1001.8 790.0,1007.5 791.5,1009.0 793.0,1012.9 794.5,1014.1 796.0,1017.9 797.5,1020.0 799.2,1017.8 800.8,1017.3 802.5,1015.0 804.0,1015.7 805.5,1018.9 807.0,1018.6 808.5,1021.7 810.0,1022.5 811.4,1021.7 812.9,1023.0 814.3,1021.9 815.7,1023.5 817.1,1021.4 818.6,1023.4 820.0,1022.5 821.4,1021.2 822.9,1021.8 824.3,1019.6 825.7,1020.4 827.1,1018.2 828.6,1018.7 830.0,1017.5 831.9,1019.5 833.8,1023.8 835.4,1023.6 837.1,1020.3 838.8,1020.0 840.6,1024.0 842.5,1027.5 844.0,1027.1 845.5,1027.2 847.0,1026.4 848.5,1026.8 850.0,1026.2 851.4,1026.4 852.9,1027.1 854.3,1027.0 855.7,1027.9 857.1,1027.8 858.6,1028.6 860.0,1028.8 861.7,1028.0 863.3,1028.2 865.0,1027.5 866.7,1028.1 868.3,1029.3 870.0,1030.0 871.4,1029.7 872.9,1030.2 874.3,1029.7 875.7,1030.3 877.1,1029.7 878.6,1030.3 880.0,1030.0 881.5,1029.4 882.9,1029.5 884.4,1028.5 885.8,1028.7 887.3,1027.8 888.8,1027.5 890.3,1028.5 891.9,1028.8 893.4,1030.1 895.0,1030.5 896.7,1029.7 898.3,1029.6 900.0,1028.8 901.7,1029.1 903.3,1030.2 905.0,1030.5 906.5,1030.2 907.9,1030.8 909.4,1030.4 910.9,1030.8 912.4,1030.6 913.8,1031.0 915.3,1030.7 916.8,1031.0 918.2,1030.7 919.7,1031.2 921.2,1030.7 922.6,1031.3 924.1,1030.9 925.6,1031.3 927.1,1030.9 928.5,1031.4 930.0,1031.2 931.4,1030.6 932.9,1030.7 934.3,1030.1 935.7,1030.1 937.1,1029.3 938.6,1029.2 940.0,1028.8 941.7,1029.2 943.3,1030.2 945.0,1030.5 946.4,1030.3 947.9,1030.8 949.3,1030.6 950.7,1031.2 952.1,1030.9 953.6,1031.3 955.0,1031.2 956.5,1031.0 957.9,1031.3 959.4,1030.9 960.9,1031.5 962.4,1031.0 963.8,1031.3 965.3,1030.9 966.8,1031.1 968.2,1030.9 969.7,1031.3 971.2,1030.8 972.6,1031.2 974.1,1030.7 975.6,1031.1 977.1,1030.6 978.5,1030.9 980.0,1030.8 981.5,1030.7 982.9,1031.0 984.4,1030.7 985.9,1031.3 987.4,1031.0 988.8,1031.5 990.3,1031.0 991.8,1031.7 993.2,1031.3 994.7,1031.7 996.2,1031.4 997.6,1031.8 999.1,1031.5 1000.6,1031.9 1002.1,1031.5 1003.5,1032.1 1005.0,1032.0 1006.5,1031.9 1008.0,1032.1 1009.5,1031.7 1011.0,1032.1 1012.5,1031.7 1014.0,1032.3 1015.5,1031.7 1017.0,1032.1 1018.5,1031.7 1020.0,1032.2 1021.5,1031.7 1023.0,1032.2 1024.4,1031.7 1025.9,1032.2 1027.4,1031.8 1028.9,1032.2 1030.4,1031.8 1031.9,1032.2 1033.4,1031.8 1034.9,1032.1 1036.4,1031.7 1037.9,1032.3 1039.4,1031.9 1040.9,1032.1 1042.4,1031.9 1043.9,1032.2 1045.4,1031.7 1046.9,1032.1 1048.4,1031.7 1049.9,1032.3 1051.4,1031.7 1052.9,1032.3 1054.4,1031.7 1055.9,1032.3 1057.4,1031.7 1058.9,1032.1 1060.4,1031.8 1061.9,1032.1 1063.3,1031.8 1064.8,1032.2 1066.3,1031.8 1067.8,1032.3 1069.3,1031.9 1070.8,1032.3 1072.3,1031.8 1073.8,1032.2 1075.3,1031.8 1076.8,1032.3 1078.3,1031.7 1079.8,1032.2 1081.3,1031.7 1082.8,1032.1 1084.3,1031.8 1085.8,1032.3 1087.3,1031.7 1088.8,1032.2 1090.3,1031.8 1091.8,1032.3 1093.3,1031.8 1094.8,1032.1 1096.3,1031.7 1097.8,1032.2 1099.3,1031.8 1100.8,1032.2 1102.2,1031.7 1103.7,1032.3 1105.2,1031.7 1106.7,1032.2 1108.2,1031.8 1109.7,1032.2 1111.2,1031.8 1112.7,1032.3 1114.2,1031.7 1115.7,1032.2 1117.2,1031.8 1118.7,1032.2 1120.2,1031.8 1121.7,1032.3 1123.2,1031.7 1124.7,1032.3 1126.2,1031.8 1127.7,1032.3 1129.2,1031.7 1130.7,1032.3 1132.2,1031.9 1133.7,1032.3 1135.2,1031.8 1136.7,1032.3 1138.2,1031.7 1139.7,1032.1 1141.1,1031.9 1142.6,1032.3 1144.1,1031.8 1145.6,1032.1 1147.1,1031.8 1148.6,1032.1 1150.1,1031.7 1151.6,1032.3 1153.1,1031.7 1154.6,1032.2 1156.1,1031.7 1157.6,1032.2 1159.1,1031.8 1160.6,1032.3 1162.1,1031.8 1163.6,1032.2 1165.1,1031.8 1166.6,1032.2 1168.1,1031.7 1169.6,1032.1 1171.1,1031.7 1172.6,1032.3 1174.1,1031.9 1175.6,1032.2 1177.1,1031.7 1178.6,1032.2 1180.0,1031.7 1181.5,1032.3 1183.0,1031.7 1184.5,1032.2 1186.0,1031.8 1187.5,1032.1 1189.0,1031.7 1190.5,1032.3 1192.0,1031.7 1193.5,1032.2 1195.0,1031.8 1196.5,1032.2 1198.0,1032.0 1199.0,1032.0 1200.5,1031.8 1202.0,1032.3 1203.5,1031.7 1205.0,1032.1 1206.5,1031.7 1208.0,1032.2 1209.5,1031.8 1211.0,1032.3 1212.5,1031.7 1214.0,1032.1 1215.5,1031.7 1217.0,1032.3 1218.5,1031.7 1220.0,1032.1 1221.5,1031.7 1223.0,1032.3 1224.5,1031.7 1226.0,1032.2 1227.5,1031.7 1229.0,1032.2 1230.5,1031.8 1232.0,1032.3 1233.5,1031.7 1235.0,1032.3 1236.5,1031.8 1238.0,1032.2 1239.5,1031.7 1241.0,1032.3 1242.5,1031.8 1244.0,1032.2 1245.5,1031.9 1247.0,1032.2 1248.5,1031.8 1250.0,1032.1 1251.5,1031.8 1253.0,1032.1 1254.5,1031.7 1256.0,1032.2 1257.5,1031.9 1259.0,1032.3 1260.5,1031.8 1262.0,1032.2 1263.5,1031.8 1265.0,1032.3 1266.5,1031.7 1268.0,1032.2 1269.5,1031.8 1271.0,1032.2 1272.5,1031.9 1274.0,1032.3 1275.5,1031.8 1277.0,1032.3 1278.5,1031.8 1280.0,1032.3 1281.5,1031.8 1283.0,1032.3 1284.5,1031.7 1286.0,1032.3 1287.5,1031.7 1289.0,1032.1 1290.5,1031.8 1292.0,1032.2 1293.5,1031.8 1295.0,1032.2 1296.5,1031.8 1298.0,1032.3 1299.5,1031.7 1301.0,1032.2 1302.5,1031.8 1304.0,1032.0 1305.5,1032.3 1306.9,1031.6 1308.4,1032.0 1309.9,1031.6 1311.4,1032.1 1312.8,1031.6 1314.3,1031.9 1315.8,1031.4 1317.2,1031.9 1318.7,1031.4 1320.2,1031.8 1321.6,1031.2 1323.1,1031.6 1324.6,1031.2 1326.1,1031.7 1327.5,1031.1 1329.0,1031.2 1330.5,1031.6 1331.9,1031.0 1333.4,1031.3 1334.9,1030.9 1336.4,1031.4 1337.8,1030.8 1339.3,1031.2 1340.8,1030.8 1342.2,1031.2 1343.7,1030.8 1345.2,1031.1 1346.6,1030.7 1348.1,1031.0 1349.6,1030.6 1351.1,1031.1 1352.5,1030.6 1354.0,1030.8 1355.6,1030.7 1357.1,1030.1 1358.7,1030.3 1360.2,1029.5 1361.8,1029.8 1363.4,1029.1 1364.9,1029.2 1366.5,1028.8 1368.0,1029.0 1369.5,1030.1 1371.0,1030.0 1372.5,1031.1 1374.0,1031.2 1375.6,1030.7 1377.1,1030.8 1378.7,1030.0 1380.2,1030.2 1381.8,1029.4 1383.4,1029.7 1384.9,1028.7 1386.5,1028.8 1388.0,1029.5 1389.5,1029.4 1391.0,1030.5 1392.5,1030.5 1394.0,1031.2 1395.4,1031.2 1396.9,1030.8 1398.3,1030.9 1399.7,1030.3 1401.1,1030.5 1402.6,1030.0 1404.0,1030.0 1405.6,1030.1 1407.1,1029.3 1408.7,1029.6 1410.2,1029.0 1411.8,1029.1 1413.4,1028.5 1414.9,1028.7 1416.5,1028.2 1418.1,1028.1 1419.6,1028.6 1421.2,1028.2 1422.8,1028.7 1424.3,1028.3 1425.9,1028.8 1427.4,1028.6 1429.0,1028.8 1430.5,1028.7 1432.0,1028.0 1433.5,1028.3 1435.0,1027.4 1436.5,1027.5 1438.2,1026.7 1439.8,1025.4 1441.5,1024.5 1443.2,1025.8 1444.8,1026.7 1446.5,1028.0 1448.0,1027.1 1449.5,1025.9 1451.0,1025.2 1452.5,1023.7 1454.0,1023.0 1455.2,1025.3 1456.5,1027.0 1458.0,1026.4 1459.5,1026.7 1461.0,1026.0 1462.5,1025.9 1464.0,1025.5 1463.0,1025.5" fill="none" stroke="#ff7f0e" stroke-width="2.1" stroke-linejoin="round"/></g><rect x="1047.7" y="584.5" width="406" height="81" rx="3" ry="3" fill="#fff" fill-opacity="0.8" stroke="#cccccc" stroke-width="1.1"/><circle cx="1073.3" cy="599.20" r="2.8" fill="#1f77b4"/><path d="M1053.2 637.70H1091.7" stroke="#ff7f0e" stroke-width="2.1"/><rect x="116.5" y="575.6" width="1346.0" height="478.6" fill="none" stroke="#000" stroke-width="1.15"/><path d="M116.50 1054.2v5M284.50 1054.2v5M452.50 1054.2v5M621.50 1054.2v5M789.50 1054.2v5M957.50 1054.2v5M1126.50 1054.2v5M1294.50 1054.2v5M116.5 1033.50h-5M116.5 971.50h-5M116.5 909.50h-5M116.5 847.50h-5M116.5 785.50h-5M116.5 723.50h-5M116.5 661.50h-5M116.5 599.50h-5" stroke="#000" stroke-width="1.15" fill="none"/><g font-family="&apos;Liberation Sans&apos;, sans-serif" font-weight="bold" fill="#000"><text x="783.60" y="29.80" font-size="29.8" text-anchor="middle" textLength="281" lengthAdjust="spacingAndGlyphs" >5.0 MHz N0000001</text><text x="116.50" y="29.90" font-size="27.5" text-anchor="start" textLength="40" lengthAdjust="spacingAndGlyphs" >(a)</text><text x="116.50" y="566.40" font-size="27.5" text-anchor="start" textLength="40" lengthAdjust="spacingAndGlyphs" >(b)</text><text x="105.00" y="121.05" font-size="22.8" text-anchor="end" >2</text><text x="105.00" y="207.05" font-size="22.8" text-anchor="end" >1</text><text x="105.00" y="293.05" font-size="22.8" text-anchor="end" >0</text><text x="105.00" y="379.05" font-size="22.8" text-anchor="end" textLength="32.3" lengthAdjust="spacingAndGlyphs" >−1</text><text x="105.00" y="465.05" font-size="22.8" text-anchor="end" textLength="32.3" lengthAdjust="spacingAndGlyphs" >−2</text><text x="105.50" y="1041.25" font-size="22.8" text-anchor="end" textLength="40" lengthAdjust="spacingAndGlyphs" >0.0</text><text x="105.50" y="979.24" font-size="22.8" text-anchor="end" textLength="40" lengthAdjust="spacingAndGlyphs" >0.1</text><text x="105.50" y="917.23" font-size="22.8" text-anchor="end" textLength="40" lengthAdjust="spacingAndGlyphs" >0.2</text><text x="105.50" y="855.22" font-size="22.8" text-anchor="end" textLength="40" lengthAdjust="spacingAndGlyphs" >0.3</text><text x="105.50" y="793.21" font-size="22.8" text-anchor="end" textLength="40" lengthAdjust="spacingAndGlyphs" >0.4</text><text x="105.50" y="731.20" font-size="22.8" text-anchor="end" textLength="40" lengthAdjust="spacingAndGlyphs" >0.5</text><text x="105.50" y="669.19" font-size="22.8" text-anchor="end" textLength="40" lengthAdjust="spacingAndGlyphs" >0.6</text><text x="105.50" y="607.18" font-size="22.8" text-anchor="end" textLength="40" lengthAdjust="spacingAndGlyphs" >0.7</text><text transform="translate(61,278.6) rotate(-90)" font-size="22.8" text-anchor="middle" textLength="222" lengthAdjust="spacingAndGlyphs">Doppler Shift [Hz]</text><text transform="translate(56.2,814.3) rotate(-90)" font-size="22.8" text-anchor="middle" textLength="207" lengthAdjust="spacingAndGlyphs">Peak Voltage [V]</text><text transform="translate(113.17,1077.30) rotate(-30)" font-size="22.8" text-anchor="end" textLength="112" lengthAdjust="spacingAndGlyphs">06-11 00</text><text transform="translate(281.50,1077.30) rotate(-30)" font-size="22.8" text-anchor="end" textLength="112" lengthAdjust="spacingAndGlyphs">06-11 03</text><text transform="translate(449.84,1077.30) rotate(-30)" font-size="22.8" text-anchor="end" textLength="112" lengthAdjust="spacingAndGlyphs">06-11 06</text><text transform="translate(618.17,1077.30) rotate(-30)" font-size="22.8" text-anchor="end" textLength="112" lengthAdjust="spacingAndGlyphs">06-11 09</text><text transform="translate(786.50,1077.30) rotate(-30)" font-size="22.8" text-anchor="end" textLength="112" lengthAdjust="spacingAndGlyphs">06-11 12</text><text transform="translate(954.83,1077.30) rotate(-30)" font-size="22.8" text-anchor="end" textLength="112" lengthAdjust="spacingAndGlyphs">06-11 15</text><text transform="translate(1123.17,1077.30) rotate(-30)" font-size="22.8" text-anchor="end" textLength="112" lengthAdjust="spacingAndGlyphs">06-11 18</text><text transform="translate(1291.50,1077.30) rotate(-30)" font-size="22.8" text-anchor="end" textLength="112" lengthAdjust="spacingAndGlyphs">06-11 21</text><text x="789.20" y="1157.90" font-size="23.3" text-anchor="middle" textLength="49" lengthAdjust="spacingAndGlyphs" >UTC</text><text x="1105.00" y="69.10" font-size="18.75" text-anchor="start" textLength="99" lengthAdjust="spacingAndGlyphs" >Raw Data</text><text x="1105.00" y="95.40" font-size="18.75" text-anchor="start" textLength="270" lengthAdjust="spacingAndGlyphs" >Butterworth Filtered Data</text><text x="1105.00" y="116.80" font-size="18.75" text-anchor="start" textLength="341" lengthAdjust="spacingAndGlyphs" >(N=6, Tc=3.3333 min, Type: low)</text><text x="1105.00" y="606.10" font-size="18.75" text-anchor="start" textLength="99" lengthAdjust="spacingAndGlyphs" >Raw Data</text><text x="1105.00" y="632.40" font-size="18.75" text-anchor="start" textLength="270" lengthAdjust="spacingAndGlyphs" >Butterworth Filtered Data</text><text x="1105.00" y="653.80" font-size="18.75" text-anchor="start" textLength="341" lengthAdjust="spacingAndGlyphs" >(N=6, Tc=3.3333 min, Type: low)</text></g></svg></body></html>
